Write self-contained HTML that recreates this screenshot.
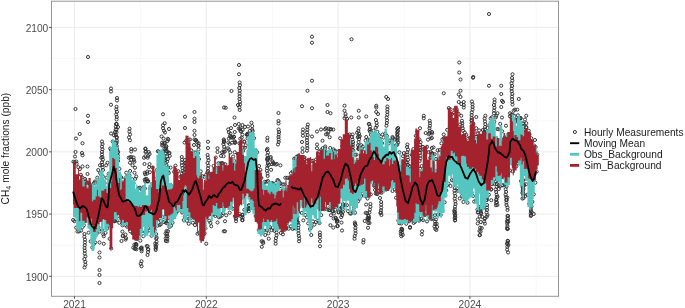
<!DOCTYPE html>
<html><head><meta charset="utf-8"><style>
html,body{margin:0;padding:0;background:#fff;}
body{width:685px;height:308px;overflow:hidden;position:relative;font-family:"Liberation Sans",sans-serif;}
svg text{font-family:"Liberation Sans",sans-serif;}
svg{will-change:transform;}
</style></head><body>
<svg width="685" height="308" viewBox="0 0 685 308" style="position:absolute;left:0;top:0">
<rect x="0" y="0" width="685" height="308" fill="#fff"/>
<path d="M140.60 1.2V296.3M272.40 1.2V296.3M404.30 1.2V296.3M536.10 1.2V296.3M51.5 245.19H558.5M51.5 182.96H558.5M51.5 120.74H558.5M51.5 58.51H558.5" stroke="#F4F4F4" stroke-width="0.6" fill="none"/>
<path d="M74.50 1.2V296.3M206.30 1.2V296.3M338.10 1.2V296.3M469.90 1.2V296.3M51.5 276.30H558.5M51.5 214.08H558.5M51.5 151.85H558.5M51.5 89.63H558.5M51.5 27.40H558.5" stroke="#EBEBEB" stroke-width="1" fill="none"/>
<path d="M89.55 57.00a1.55 1.55 0 1 0 -3.1 0a1.55 1.55 0 1 0 3.1 0M313.55 36.75a1.55 1.55 0 1 0 -3.1 0a1.55 1.55 0 1 0 3.1 0M313.55 42.75a1.55 1.55 0 1 0 -3.1 0a1.55 1.55 0 1 0 3.1 0M353.05 39.25a1.55 1.55 0 1 0 -3.1 0a1.55 1.55 0 1 0 3.1 0M240.55 65.00a1.55 1.55 0 1 0 -3.1 0a1.55 1.55 0 1 0 3.1 0M240.55 74.25a1.55 1.55 0 1 0 -3.1 0a1.55 1.55 0 1 0 3.1 0M490.55 14.00a1.55 1.55 0 1 0 -3.1 0a1.55 1.55 0 1 0 3.1 0M460.80 62.50a1.55 1.55 0 1 0 -3.1 0a1.55 1.55 0 1 0 3.1 0M460.80 72.50a1.55 1.55 0 1 0 -3.1 0a1.55 1.55 0 1 0 3.1 0M474.80 77.00a1.55 1.55 0 1 0 -3.1 0a1.55 1.55 0 1 0 3.1 0M514.05 74.25a1.55 1.55 0 1 0 -3.1 0a1.55 1.55 0 1 0 3.1 0M77.05 109.00a1.55 1.55 0 1 0 -3.1 0a1.55 1.55 0 1 0 3.1 0M112.55 88.50a1.55 1.55 0 1 0 -3.1 0a1.55 1.55 0 1 0 3.1 0M112.55 91.50a1.55 1.55 0 1 0 -3.1 0a1.55 1.55 0 1 0 3.1 0M118.55 98.00a1.55 1.55 0 1 0 -3.1 0a1.55 1.55 0 1 0 3.1 0M118.55 100.50a1.55 1.55 0 1 0 -3.1 0a1.55 1.55 0 1 0 3.1 0M112.55 104.75a1.55 1.55 0 1 0 -3.1 0a1.55 1.55 0 1 0 3.1 0M118.09 106.75a1.55 1.55 0 1 0 -3.1 0a1.55 1.55 0 1 0 3.1 0M117.88 109.30a1.55 1.55 0 1 0 -3.1 0a1.55 1.55 0 1 0 3.1 0M118.48 111.85a1.55 1.55 0 1 0 -3.1 0a1.55 1.55 0 1 0 3.1 0M117.79 114.40a1.55 1.55 0 1 0 -3.1 0a1.55 1.55 0 1 0 3.1 0M118.34 116.95a1.55 1.55 0 1 0 -3.1 0a1.55 1.55 0 1 0 3.1 0M118.14 119.50a1.55 1.55 0 1 0 -3.1 0a1.55 1.55 0 1 0 3.1 0M117.55 124.00a1.55 1.55 0 1 0 -3.1 0a1.55 1.55 0 1 0 3.1 0M119.55 127.00a1.55 1.55 0 1 0 -3.1 0a1.55 1.55 0 1 0 3.1 0M117.30 129.50a1.55 1.55 0 1 0 -3.1 0a1.55 1.55 0 1 0 3.1 0M116.55 132.00a1.55 1.55 0 1 0 -3.1 0a1.55 1.55 0 1 0 3.1 0M112.55 133.50a1.55 1.55 0 1 0 -3.1 0a1.55 1.55 0 1 0 3.1 0M115.55 135.25a1.55 1.55 0 1 0 -3.1 0a1.55 1.55 0 1 0 3.1 0M118.30 137.00a1.55 1.55 0 1 0 -3.1 0a1.55 1.55 0 1 0 3.1 0M118.30 142.50a1.55 1.55 0 1 0 -3.1 0a1.55 1.55 0 1 0 3.1 0M118.30 148.25a1.55 1.55 0 1 0 -3.1 0a1.55 1.55 0 1 0 3.1 0M89.55 115.75a1.55 1.55 0 1 0 -3.1 0a1.55 1.55 0 1 0 3.1 0M89.55 122.00a1.55 1.55 0 1 0 -3.1 0a1.55 1.55 0 1 0 3.1 0M81.30 134.00a1.55 1.55 0 1 0 -3.1 0a1.55 1.55 0 1 0 3.1 0M77.55 138.50a1.55 1.55 0 1 0 -3.1 0a1.55 1.55 0 1 0 3.1 0M84.05 143.25a1.55 1.55 0 1 0 -3.1 0a1.55 1.55 0 1 0 3.1 0M77.05 152.00a1.55 1.55 0 1 0 -3.1 0a1.55 1.55 0 1 0 3.1 0M83.55 153.00a1.55 1.55 0 1 0 -3.1 0a1.55 1.55 0 1 0 3.1 0M103.52 141.50a1.55 1.55 0 1 0 -3.1 0a1.55 1.55 0 1 0 3.1 0M104.06 144.09a1.55 1.55 0 1 0 -3.1 0a1.55 1.55 0 1 0 3.1 0M103.49 146.68a1.55 1.55 0 1 0 -3.1 0a1.55 1.55 0 1 0 3.1 0M103.97 149.27a1.55 1.55 0 1 0 -3.1 0a1.55 1.55 0 1 0 3.1 0M103.53 151.86a1.55 1.55 0 1 0 -3.1 0a1.55 1.55 0 1 0 3.1 0M103.56 154.45a1.55 1.55 0 1 0 -3.1 0a1.55 1.55 0 1 0 3.1 0M103.96 157.05a1.55 1.55 0 1 0 -3.1 0a1.55 1.55 0 1 0 3.1 0M104.44 159.64a1.55 1.55 0 1 0 -3.1 0a1.55 1.55 0 1 0 3.1 0M103.60 162.23a1.55 1.55 0 1 0 -3.1 0a1.55 1.55 0 1 0 3.1 0M103.72 164.82a1.55 1.55 0 1 0 -3.1 0a1.55 1.55 0 1 0 3.1 0M104.20 167.41a1.55 1.55 0 1 0 -3.1 0a1.55 1.55 0 1 0 3.1 0M104.59 170.00a1.55 1.55 0 1 0 -3.1 0a1.55 1.55 0 1 0 3.1 0M131.14 128.75a1.55 1.55 0 1 0 -3.1 0a1.55 1.55 0 1 0 3.1 0M130.93 131.62a1.55 1.55 0 1 0 -3.1 0a1.55 1.55 0 1 0 3.1 0M131.62 134.50a1.55 1.55 0 1 0 -3.1 0a1.55 1.55 0 1 0 3.1 0M130.51 137.38a1.55 1.55 0 1 0 -3.1 0a1.55 1.55 0 1 0 3.1 0M131.48 140.25a1.55 1.55 0 1 0 -3.1 0a1.55 1.55 0 1 0 3.1 0M132.80 149.00a1.55 1.55 0 1 0 -3.1 0a1.55 1.55 0 1 0 3.1 0M132.80 151.50a1.55 1.55 0 1 0 -3.1 0a1.55 1.55 0 1 0 3.1 0M147.05 148.50a1.55 1.55 0 1 0 -3.1 0a1.55 1.55 0 1 0 3.1 0M147.05 152.00a1.55 1.55 0 1 0 -3.1 0a1.55 1.55 0 1 0 3.1 0M150.30 152.00a1.55 1.55 0 1 0 -3.1 0a1.55 1.55 0 1 0 3.1 0M164.55 114.25a1.55 1.55 0 1 0 -3.1 0a1.55 1.55 0 1 0 3.1 0M166.30 123.25a1.55 1.55 0 1 0 -3.1 0a1.55 1.55 0 1 0 3.1 0M164.55 125.25a1.55 1.55 0 1 0 -3.1 0a1.55 1.55 0 1 0 3.1 0M164.55 128.25a1.55 1.55 0 1 0 -3.1 0a1.55 1.55 0 1 0 3.1 0M170.55 129.00a1.55 1.55 0 1 0 -3.1 0a1.55 1.55 0 1 0 3.1 0M165.55 130.75a1.55 1.55 0 1 0 -3.1 0a1.55 1.55 0 1 0 3.1 0M166.55 132.50a1.55 1.55 0 1 0 -3.1 0a1.55 1.55 0 1 0 3.1 0M165.16 138.61a1.55 1.55 0 1 0 -3.1 0a1.55 1.55 0 1 0 3.1 0M163.61 142.71a1.55 1.55 0 1 0 -3.1 0a1.55 1.55 0 1 0 3.1 0M169.90 139.52a1.55 1.55 0 1 0 -3.1 0a1.55 1.55 0 1 0 3.1 0M167.78 150.97a1.55 1.55 0 1 0 -3.1 0a1.55 1.55 0 1 0 3.1 0M165.90 148.69a1.55 1.55 0 1 0 -3.1 0a1.55 1.55 0 1 0 3.1 0M163.12 136.49a1.55 1.55 0 1 0 -3.1 0a1.55 1.55 0 1 0 3.1 0M164.40 152.01a1.55 1.55 0 1 0 -3.1 0a1.55 1.55 0 1 0 3.1 0M166.40 142.85a1.55 1.55 0 1 0 -3.1 0a1.55 1.55 0 1 0 3.1 0M167.82 146.33a1.55 1.55 0 1 0 -3.1 0a1.55 1.55 0 1 0 3.1 0M165.25 154.86a1.55 1.55 0 1 0 -3.1 0a1.55 1.55 0 1 0 3.1 0M168.84 141.10a1.55 1.55 0 1 0 -3.1 0a1.55 1.55 0 1 0 3.1 0M167.72 148.13a1.55 1.55 0 1 0 -3.1 0a1.55 1.55 0 1 0 3.1 0M170.43 153.24a1.55 1.55 0 1 0 -3.1 0a1.55 1.55 0 1 0 3.1 0M165.14 159.50a1.55 1.55 0 1 0 -3.1 0a1.55 1.55 0 1 0 3.1 0M163.61 145.45a1.55 1.55 0 1 0 -3.1 0a1.55 1.55 0 1 0 3.1 0M169.36 138.80a1.55 1.55 0 1 0 -3.1 0a1.55 1.55 0 1 0 3.1 0M186.55 116.75a1.55 1.55 0 1 0 -3.1 0a1.55 1.55 0 1 0 3.1 0M186.55 128.00a1.55 1.55 0 1 0 -3.1 0a1.55 1.55 0 1 0 3.1 0M186.05 142.50a1.55 1.55 0 1 0 -3.1 0a1.55 1.55 0 1 0 3.1 0M196.05 112.00a1.55 1.55 0 1 0 -3.1 0a1.55 1.55 0 1 0 3.1 0M196.05 118.75a1.55 1.55 0 1 0 -3.1 0a1.55 1.55 0 1 0 3.1 0M196.05 122.00a1.55 1.55 0 1 0 -3.1 0a1.55 1.55 0 1 0 3.1 0M196.05 130.75a1.55 1.55 0 1 0 -3.1 0a1.55 1.55 0 1 0 3.1 0M196.05 135.00a1.55 1.55 0 1 0 -3.1 0a1.55 1.55 0 1 0 3.1 0M196.05 139.50a1.55 1.55 0 1 0 -3.1 0a1.55 1.55 0 1 0 3.1 0M200.05 145.50a1.55 1.55 0 1 0 -3.1 0a1.55 1.55 0 1 0 3.1 0M200.05 149.50a1.55 1.55 0 1 0 -3.1 0a1.55 1.55 0 1 0 3.1 0M191.55 139.50a1.55 1.55 0 1 0 -3.1 0a1.55 1.55 0 1 0 3.1 0M195.55 145.00a1.55 1.55 0 1 0 -3.1 0a1.55 1.55 0 1 0 3.1 0M209.55 141.75a1.55 1.55 0 1 0 -3.1 0a1.55 1.55 0 1 0 3.1 0M209.55 148.00a1.55 1.55 0 1 0 -3.1 0a1.55 1.55 0 1 0 3.1 0M219.05 148.25a1.55 1.55 0 1 0 -3.1 0a1.55 1.55 0 1 0 3.1 0M225.55 107.50a1.55 1.55 0 1 0 -3.1 0a1.55 1.55 0 1 0 3.1 0M225.54 141.50a1.55 1.55 0 1 0 -3.1 0a1.55 1.55 0 1 0 3.1 0M225.00 144.17a1.55 1.55 0 1 0 -3.1 0a1.55 1.55 0 1 0 3.1 0M225.75 146.83a1.55 1.55 0 1 0 -3.1 0a1.55 1.55 0 1 0 3.1 0M225.87 149.50a1.55 1.55 0 1 0 -3.1 0a1.55 1.55 0 1 0 3.1 0M219.05 152.00a1.55 1.55 0 1 0 -3.1 0a1.55 1.55 0 1 0 3.1 0M227.30 107.75a1.55 1.55 0 1 0 -3.1 0a1.55 1.55 0 1 0 3.1 0M233.05 91.00a1.55 1.55 0 1 0 -3.1 0a1.55 1.55 0 1 0 3.1 0M241.14 82.50a1.55 1.55 0 1 0 -3.1 0a1.55 1.55 0 1 0 3.1 0M241.50 85.25a1.55 1.55 0 1 0 -3.1 0a1.55 1.55 0 1 0 3.1 0M240.83 88.00a1.55 1.55 0 1 0 -3.1 0a1.55 1.55 0 1 0 3.1 0M241.28 90.75a1.55 1.55 0 1 0 -3.1 0a1.55 1.55 0 1 0 3.1 0M241.16 93.50a1.55 1.55 0 1 0 -3.1 0a1.55 1.55 0 1 0 3.1 0M241.15 96.25a1.55 1.55 0 1 0 -3.1 0a1.55 1.55 0 1 0 3.1 0M241.00 99.00a1.55 1.55 0 1 0 -3.1 0a1.55 1.55 0 1 0 3.1 0M241.46 101.75a1.55 1.55 0 1 0 -3.1 0a1.55 1.55 0 1 0 3.1 0M241.58 104.50a1.55 1.55 0 1 0 -3.1 0a1.55 1.55 0 1 0 3.1 0M241.02 107.25a1.55 1.55 0 1 0 -3.1 0a1.55 1.55 0 1 0 3.1 0M241.25 110.00a1.55 1.55 0 1 0 -3.1 0a1.55 1.55 0 1 0 3.1 0M239.55 105.00a1.55 1.55 0 1 0 -3.1 0a1.55 1.55 0 1 0 3.1 0M236.05 117.50a1.55 1.55 0 1 0 -3.1 0a1.55 1.55 0 1 0 3.1 0M236.55 125.00a1.55 1.55 0 1 0 -3.1 0a1.55 1.55 0 1 0 3.1 0M240.30 124.00a1.55 1.55 0 1 0 -3.1 0a1.55 1.55 0 1 0 3.1 0M244.05 125.00a1.55 1.55 0 1 0 -3.1 0a1.55 1.55 0 1 0 3.1 0M246.55 127.00a1.55 1.55 0 1 0 -3.1 0a1.55 1.55 0 1 0 3.1 0M249.55 126.50a1.55 1.55 0 1 0 -3.1 0a1.55 1.55 0 1 0 3.1 0M253.02 122.75a1.55 1.55 0 1 0 -3.1 0a1.55 1.55 0 1 0 3.1 0M253.79 126.12a1.55 1.55 0 1 0 -3.1 0a1.55 1.55 0 1 0 3.1 0M253.73 129.50a1.55 1.55 0 1 0 -3.1 0a1.55 1.55 0 1 0 3.1 0M246.42 147.73a1.55 1.55 0 1 0 -3.1 0a1.55 1.55 0 1 0 3.1 0M232.96 137.26a1.55 1.55 0 1 0 -3.1 0a1.55 1.55 0 1 0 3.1 0M240.25 128.54a1.55 1.55 0 1 0 -3.1 0a1.55 1.55 0 1 0 3.1 0M236.32 132.03a1.55 1.55 0 1 0 -3.1 0a1.55 1.55 0 1 0 3.1 0M229.77 129.41a1.55 1.55 0 1 0 -3.1 0a1.55 1.55 0 1 0 3.1 0M242.15 131.10a1.55 1.55 0 1 0 -3.1 0a1.55 1.55 0 1 0 3.1 0M232.25 137.38a1.55 1.55 0 1 0 -3.1 0a1.55 1.55 0 1 0 3.1 0M244.11 129.93a1.55 1.55 0 1 0 -3.1 0a1.55 1.55 0 1 0 3.1 0M236.08 141.19a1.55 1.55 0 1 0 -3.1 0a1.55 1.55 0 1 0 3.1 0M244.33 147.66a1.55 1.55 0 1 0 -3.1 0a1.55 1.55 0 1 0 3.1 0M243.97 134.68a1.55 1.55 0 1 0 -3.1 0a1.55 1.55 0 1 0 3.1 0M235.44 136.61a1.55 1.55 0 1 0 -3.1 0a1.55 1.55 0 1 0 3.1 0M244.35 150.99a1.55 1.55 0 1 0 -3.1 0a1.55 1.55 0 1 0 3.1 0M230.42 132.23a1.55 1.55 0 1 0 -3.1 0a1.55 1.55 0 1 0 3.1 0M231.96 133.60a1.55 1.55 0 1 0 -3.1 0a1.55 1.55 0 1 0 3.1 0M236.76 142.14a1.55 1.55 0 1 0 -3.1 0a1.55 1.55 0 1 0 3.1 0M232.54 128.10a1.55 1.55 0 1 0 -3.1 0a1.55 1.55 0 1 0 3.1 0M249.05 134.50a1.55 1.55 0 1 0 -3.1 0a1.55 1.55 0 1 0 3.1 0M249.05 138.25a1.55 1.55 0 1 0 -3.1 0a1.55 1.55 0 1 0 3.1 0M251.55 130.75a1.55 1.55 0 1 0 -3.1 0a1.55 1.55 0 1 0 3.1 0M254.05 134.00a1.55 1.55 0 1 0 -3.1 0a1.55 1.55 0 1 0 3.1 0M268.95 137.75a1.55 1.55 0 1 0 -3.1 0a1.55 1.55 0 1 0 3.1 0M268.89 140.75a1.55 1.55 0 1 0 -3.1 0a1.55 1.55 0 1 0 3.1 0M269.05 148.75a1.55 1.55 0 1 0 -3.1 0a1.55 1.55 0 1 0 3.1 0M280.05 113.00a1.55 1.55 0 1 0 -3.1 0a1.55 1.55 0 1 0 3.1 0M280.05 121.00a1.55 1.55 0 1 0 -3.1 0a1.55 1.55 0 1 0 3.1 0M280.05 123.50a1.55 1.55 0 1 0 -3.1 0a1.55 1.55 0 1 0 3.1 0M280.13 129.50a1.55 1.55 0 1 0 -3.1 0a1.55 1.55 0 1 0 3.1 0M280.59 132.00a1.55 1.55 0 1 0 -3.1 0a1.55 1.55 0 1 0 3.1 0M280.28 134.50a1.55 1.55 0 1 0 -3.1 0a1.55 1.55 0 1 0 3.1 0M280.07 137.00a1.55 1.55 0 1 0 -3.1 0a1.55 1.55 0 1 0 3.1 0M280.19 139.50a1.55 1.55 0 1 0 -3.1 0a1.55 1.55 0 1 0 3.1 0M280.26 142.00a1.55 1.55 0 1 0 -3.1 0a1.55 1.55 0 1 0 3.1 0M279.51 144.50a1.55 1.55 0 1 0 -3.1 0a1.55 1.55 0 1 0 3.1 0M303.55 106.25a1.55 1.55 0 1 0 -3.1 0a1.55 1.55 0 1 0 3.1 0M309.05 90.75a1.55 1.55 0 1 0 -3.1 0a1.55 1.55 0 1 0 3.1 0M304.53 129.50a1.55 1.55 0 1 0 -3.1 0a1.55 1.55 0 1 0 3.1 0M304.39 132.62a1.55 1.55 0 1 0 -3.1 0a1.55 1.55 0 1 0 3.1 0M304.50 135.75a1.55 1.55 0 1 0 -3.1 0a1.55 1.55 0 1 0 3.1 0M303.55 142.00a1.55 1.55 0 1 0 -3.1 0a1.55 1.55 0 1 0 3.1 0M304.05 148.25a1.55 1.55 0 1 0 -3.1 0a1.55 1.55 0 1 0 3.1 0M304.05 152.00a1.55 1.55 0 1 0 -3.1 0a1.55 1.55 0 1 0 3.1 0M309.41 124.50a1.55 1.55 0 1 0 -3.1 0a1.55 1.55 0 1 0 3.1 0M308.92 127.12a1.55 1.55 0 1 0 -3.1 0a1.55 1.55 0 1 0 3.1 0M308.93 129.75a1.55 1.55 0 1 0 -3.1 0a1.55 1.55 0 1 0 3.1 0M308.57 132.38a1.55 1.55 0 1 0 -3.1 0a1.55 1.55 0 1 0 3.1 0M309.21 135.00a1.55 1.55 0 1 0 -3.1 0a1.55 1.55 0 1 0 3.1 0M308.52 137.62a1.55 1.55 0 1 0 -3.1 0a1.55 1.55 0 1 0 3.1 0M308.53 140.25a1.55 1.55 0 1 0 -3.1 0a1.55 1.55 0 1 0 3.1 0M308.70 142.88a1.55 1.55 0 1 0 -3.1 0a1.55 1.55 0 1 0 3.1 0M308.64 145.50a1.55 1.55 0 1 0 -3.1 0a1.55 1.55 0 1 0 3.1 0M308.86 148.12a1.55 1.55 0 1 0 -3.1 0a1.55 1.55 0 1 0 3.1 0M308.51 150.75a1.55 1.55 0 1 0 -3.1 0a1.55 1.55 0 1 0 3.1 0M313.55 80.75a1.55 1.55 0 1 0 -3.1 0a1.55 1.55 0 1 0 3.1 0M313.55 108.25a1.55 1.55 0 1 0 -3.1 0a1.55 1.55 0 1 0 3.1 0M313.55 136.50a1.55 1.55 0 1 0 -3.1 0a1.55 1.55 0 1 0 3.1 0M318.55 131.50a1.55 1.55 0 1 0 -3.1 0a1.55 1.55 0 1 0 3.1 0M322.55 129.50a1.55 1.55 0 1 0 -3.1 0a1.55 1.55 0 1 0 3.1 0M318.55 144.50a1.55 1.55 0 1 0 -3.1 0a1.55 1.55 0 1 0 3.1 0M318.55 148.25a1.55 1.55 0 1 0 -3.1 0a1.55 1.55 0 1 0 3.1 0M329.05 105.00a1.55 1.55 0 1 0 -3.1 0a1.55 1.55 0 1 0 3.1 0M329.05 112.00a1.55 1.55 0 1 0 -3.1 0a1.55 1.55 0 1 0 3.1 0M332.05 113.25a1.55 1.55 0 1 0 -3.1 0a1.55 1.55 0 1 0 3.1 0M326.55 129.34a1.55 1.55 0 1 0 -3.1 0a1.55 1.55 0 1 0 3.1 0M327.56 134.39a1.55 1.55 0 1 0 -3.1 0a1.55 1.55 0 1 0 3.1 0M326.81 146.52a1.55 1.55 0 1 0 -3.1 0a1.55 1.55 0 1 0 3.1 0M332.69 129.28a1.55 1.55 0 1 0 -3.1 0a1.55 1.55 0 1 0 3.1 0M329.07 134.00a1.55 1.55 0 1 0 -3.1 0a1.55 1.55 0 1 0 3.1 0M330.19 128.67a1.55 1.55 0 1 0 -3.1 0a1.55 1.55 0 1 0 3.1 0M335.04 149.34a1.55 1.55 0 1 0 -3.1 0a1.55 1.55 0 1 0 3.1 0M331.21 137.24a1.55 1.55 0 1 0 -3.1 0a1.55 1.55 0 1 0 3.1 0M327.41 128.18a1.55 1.55 0 1 0 -3.1 0a1.55 1.55 0 1 0 3.1 0M329.98 132.04a1.55 1.55 0 1 0 -3.1 0a1.55 1.55 0 1 0 3.1 0M334.84 129.58a1.55 1.55 0 1 0 -3.1 0a1.55 1.55 0 1 0 3.1 0M326.78 148.34a1.55 1.55 0 1 0 -3.1 0a1.55 1.55 0 1 0 3.1 0M331.83 129.23a1.55 1.55 0 1 0 -3.1 0a1.55 1.55 0 1 0 3.1 0M324.05 140.75a1.55 1.55 0 1 0 -3.1 0a1.55 1.55 0 1 0 3.1 0M346.05 105.75a1.55 1.55 0 1 0 -3.1 0a1.55 1.55 0 1 0 3.1 0M346.05 110.75a1.55 1.55 0 1 0 -3.1 0a1.55 1.55 0 1 0 3.1 0M347.05 114.00a1.55 1.55 0 1 0 -3.1 0a1.55 1.55 0 1 0 3.1 0M347.05 116.50a1.55 1.55 0 1 0 -3.1 0a1.55 1.55 0 1 0 3.1 0M352.80 117.50a1.55 1.55 0 1 0 -3.1 0a1.55 1.55 0 1 0 3.1 0M354.10 134.50a1.55 1.55 0 1 0 -3.1 0a1.55 1.55 0 1 0 3.1 0M353.48 137.00a1.55 1.55 0 1 0 -3.1 0a1.55 1.55 0 1 0 3.1 0M354.08 139.50a1.55 1.55 0 1 0 -3.1 0a1.55 1.55 0 1 0 3.1 0M354.62 142.00a1.55 1.55 0 1 0 -3.1 0a1.55 1.55 0 1 0 3.1 0M354.49 144.50a1.55 1.55 0 1 0 -3.1 0a1.55 1.55 0 1 0 3.1 0M354.29 147.00a1.55 1.55 0 1 0 -3.1 0a1.55 1.55 0 1 0 3.1 0M353.76 149.50a1.55 1.55 0 1 0 -3.1 0a1.55 1.55 0 1 0 3.1 0M360.30 110.75a1.55 1.55 0 1 0 -3.1 0a1.55 1.55 0 1 0 3.1 0M360.30 117.50a1.55 1.55 0 1 0 -3.1 0a1.55 1.55 0 1 0 3.1 0M360.14 128.25a1.55 1.55 0 1 0 -3.1 0a1.55 1.55 0 1 0 3.1 0M359.90 131.00a1.55 1.55 0 1 0 -3.1 0a1.55 1.55 0 1 0 3.1 0M360.63 133.75a1.55 1.55 0 1 0 -3.1 0a1.55 1.55 0 1 0 3.1 0M360.34 136.50a1.55 1.55 0 1 0 -3.1 0a1.55 1.55 0 1 0 3.1 0M360.63 139.25a1.55 1.55 0 1 0 -3.1 0a1.55 1.55 0 1 0 3.1 0M360.10 142.00a1.55 1.55 0 1 0 -3.1 0a1.55 1.55 0 1 0 3.1 0M367.80 116.50a1.55 1.55 0 1 0 -3.1 0a1.55 1.55 0 1 0 3.1 0M370.30 124.00a1.55 1.55 0 1 0 -3.1 0a1.55 1.55 0 1 0 3.1 0M371.05 130.25a1.55 1.55 0 1 0 -3.1 0a1.55 1.55 0 1 0 3.1 0M367.80 137.00a1.55 1.55 0 1 0 -3.1 0a1.55 1.55 0 1 0 3.1 0M377.80 105.75a1.55 1.55 0 1 0 -3.1 0a1.55 1.55 0 1 0 3.1 0M377.80 107.50a1.55 1.55 0 1 0 -3.1 0a1.55 1.55 0 1 0 3.1 0M377.80 112.00a1.55 1.55 0 1 0 -3.1 0a1.55 1.55 0 1 0 3.1 0M379.55 114.00a1.55 1.55 0 1 0 -3.1 0a1.55 1.55 0 1 0 3.1 0M377.47 120.00a1.55 1.55 0 1 0 -3.1 0a1.55 1.55 0 1 0 3.1 0M378.17 122.88a1.55 1.55 0 1 0 -3.1 0a1.55 1.55 0 1 0 3.1 0M378.38 125.75a1.55 1.55 0 1 0 -3.1 0a1.55 1.55 0 1 0 3.1 0M387.80 97.00a1.55 1.55 0 1 0 -3.1 0a1.55 1.55 0 1 0 3.1 0M389.55 99.00a1.55 1.55 0 1 0 -3.1 0a1.55 1.55 0 1 0 3.1 0M388.97 106.50a1.55 1.55 0 1 0 -3.1 0a1.55 1.55 0 1 0 3.1 0M388.92 109.25a1.55 1.55 0 1 0 -3.1 0a1.55 1.55 0 1 0 3.1 0M388.93 112.00a1.55 1.55 0 1 0 -3.1 0a1.55 1.55 0 1 0 3.1 0M388.84 114.75a1.55 1.55 0 1 0 -3.1 0a1.55 1.55 0 1 0 3.1 0M388.22 117.50a1.55 1.55 0 1 0 -3.1 0a1.55 1.55 0 1 0 3.1 0M388.57 120.25a1.55 1.55 0 1 0 -3.1 0a1.55 1.55 0 1 0 3.1 0M388.38 123.00a1.55 1.55 0 1 0 -3.1 0a1.55 1.55 0 1 0 3.1 0M387.98 125.75a1.55 1.55 0 1 0 -3.1 0a1.55 1.55 0 1 0 3.1 0M384.05 134.50a1.55 1.55 0 1 0 -3.1 0a1.55 1.55 0 1 0 3.1 0M394.05 137.00a1.55 1.55 0 1 0 -3.1 0a1.55 1.55 0 1 0 3.1 0M462.05 79.50a1.55 1.55 0 1 0 -3.1 0a1.55 1.55 0 1 0 3.1 0M474.55 77.75a1.55 1.55 0 1 0 -3.1 0a1.55 1.55 0 1 0 3.1 0M445.30 93.25a1.55 1.55 0 1 0 -3.1 0a1.55 1.55 0 1 0 3.1 0M462.05 90.75a1.55 1.55 0 1 0 -3.1 0a1.55 1.55 0 1 0 3.1 0M460.30 94.50a1.55 1.55 0 1 0 -3.1 0a1.55 1.55 0 1 0 3.1 0M462.05 97.00a1.55 1.55 0 1 0 -3.1 0a1.55 1.55 0 1 0 3.1 0M460.30 102.00a1.55 1.55 0 1 0 -3.1 0a1.55 1.55 0 1 0 3.1 0M462.80 104.00a1.55 1.55 0 1 0 -3.1 0a1.55 1.55 0 1 0 3.1 0M465.30 102.00a1.55 1.55 0 1 0 -3.1 0a1.55 1.55 0 1 0 3.1 0M465.30 105.00a1.55 1.55 0 1 0 -3.1 0a1.55 1.55 0 1 0 3.1 0M465.30 107.50a1.55 1.55 0 1 0 -3.1 0a1.55 1.55 0 1 0 3.1 0M462.80 115.75a1.55 1.55 0 1 0 -3.1 0a1.55 1.55 0 1 0 3.1 0M463.48 120.75a1.55 1.55 0 1 0 -3.1 0a1.55 1.55 0 1 0 3.1 0M463.79 123.25a1.55 1.55 0 1 0 -3.1 0a1.55 1.55 0 1 0 3.1 0M463.76 125.75a1.55 1.55 0 1 0 -3.1 0a1.55 1.55 0 1 0 3.1 0M464.28 128.25a1.55 1.55 0 1 0 -3.1 0a1.55 1.55 0 1 0 3.1 0M464.60 130.75a1.55 1.55 0 1 0 -3.1 0a1.55 1.55 0 1 0 3.1 0M473.49 101.50a1.55 1.55 0 1 0 -3.1 0a1.55 1.55 0 1 0 3.1 0M474.07 104.22a1.55 1.55 0 1 0 -3.1 0a1.55 1.55 0 1 0 3.1 0M474.14 106.94a1.55 1.55 0 1 0 -3.1 0a1.55 1.55 0 1 0 3.1 0M474.10 109.66a1.55 1.55 0 1 0 -3.1 0a1.55 1.55 0 1 0 3.1 0M473.39 112.38a1.55 1.55 0 1 0 -3.1 0a1.55 1.55 0 1 0 3.1 0M473.21 115.09a1.55 1.55 0 1 0 -3.1 0a1.55 1.55 0 1 0 3.1 0M473.22 117.81a1.55 1.55 0 1 0 -3.1 0a1.55 1.55 0 1 0 3.1 0M473.19 120.53a1.55 1.55 0 1 0 -3.1 0a1.55 1.55 0 1 0 3.1 0M473.20 123.25a1.55 1.55 0 1 0 -3.1 0a1.55 1.55 0 1 0 3.1 0M477.80 117.00a1.55 1.55 0 1 0 -3.1 0a1.55 1.55 0 1 0 3.1 0M477.80 128.25a1.55 1.55 0 1 0 -3.1 0a1.55 1.55 0 1 0 3.1 0M477.80 137.00a1.55 1.55 0 1 0 -3.1 0a1.55 1.55 0 1 0 3.1 0M425.30 115.75a1.55 1.55 0 1 0 -3.1 0a1.55 1.55 0 1 0 3.1 0M425.30 118.25a1.55 1.55 0 1 0 -3.1 0a1.55 1.55 0 1 0 3.1 0M431.20 120.75a1.55 1.55 0 1 0 -3.1 0a1.55 1.55 0 1 0 3.1 0M431.53 123.25a1.55 1.55 0 1 0 -3.1 0a1.55 1.55 0 1 0 3.1 0M431.46 125.75a1.55 1.55 0 1 0 -3.1 0a1.55 1.55 0 1 0 3.1 0M431.03 128.25a1.55 1.55 0 1 0 -3.1 0a1.55 1.55 0 1 0 3.1 0M431.23 130.75a1.55 1.55 0 1 0 -3.1 0a1.55 1.55 0 1 0 3.1 0M433.55 132.03a1.55 1.55 0 1 0 -3.1 0a1.55 1.55 0 1 0 3.1 0M432.16 151.83a1.55 1.55 0 1 0 -3.1 0a1.55 1.55 0 1 0 3.1 0M433.37 148.00a1.55 1.55 0 1 0 -3.1 0a1.55 1.55 0 1 0 3.1 0M430.33 134.28a1.55 1.55 0 1 0 -3.1 0a1.55 1.55 0 1 0 3.1 0M433.44 137.98a1.55 1.55 0 1 0 -3.1 0a1.55 1.55 0 1 0 3.1 0M433.56 153.32a1.55 1.55 0 1 0 -3.1 0a1.55 1.55 0 1 0 3.1 0M429.51 139.63a1.55 1.55 0 1 0 -3.1 0a1.55 1.55 0 1 0 3.1 0M435.02 147.40a1.55 1.55 0 1 0 -3.1 0a1.55 1.55 0 1 0 3.1 0M427.25 133.05a1.55 1.55 0 1 0 -3.1 0a1.55 1.55 0 1 0 3.1 0M427.06 151.72a1.55 1.55 0 1 0 -3.1 0a1.55 1.55 0 1 0 3.1 0M433.62 133.51a1.55 1.55 0 1 0 -3.1 0a1.55 1.55 0 1 0 3.1 0M433.82 153.53a1.55 1.55 0 1 0 -3.1 0a1.55 1.55 0 1 0 3.1 0M432.12 138.41a1.55 1.55 0 1 0 -3.1 0a1.55 1.55 0 1 0 3.1 0M431.04 133.14a1.55 1.55 0 1 0 -3.1 0a1.55 1.55 0 1 0 3.1 0M421.55 128.25a1.55 1.55 0 1 0 -3.1 0a1.55 1.55 0 1 0 3.1 0M420.97 139.50a1.55 1.55 0 1 0 -3.1 0a1.55 1.55 0 1 0 3.1 0M422.12 142.19a1.55 1.55 0 1 0 -3.1 0a1.55 1.55 0 1 0 3.1 0M421.73 144.88a1.55 1.55 0 1 0 -3.1 0a1.55 1.55 0 1 0 3.1 0M421.58 147.56a1.55 1.55 0 1 0 -3.1 0a1.55 1.55 0 1 0 3.1 0M422.07 150.25a1.55 1.55 0 1 0 -3.1 0a1.55 1.55 0 1 0 3.1 0M421.47 152.94a1.55 1.55 0 1 0 -3.1 0a1.55 1.55 0 1 0 3.1 0M422.00 155.62a1.55 1.55 0 1 0 -3.1 0a1.55 1.55 0 1 0 3.1 0M421.94 158.31a1.55 1.55 0 1 0 -3.1 0a1.55 1.55 0 1 0 3.1 0M421.20 161.00a1.55 1.55 0 1 0 -3.1 0a1.55 1.55 0 1 0 3.1 0M421.55 149.50a1.55 1.55 0 1 0 -3.1 0a1.55 1.55 0 1 0 3.1 0M398.75 129.00a1.55 1.55 0 1 0 -3.1 0a1.55 1.55 0 1 0 3.1 0M398.80 131.94a1.55 1.55 0 1 0 -3.1 0a1.55 1.55 0 1 0 3.1 0M398.74 134.88a1.55 1.55 0 1 0 -3.1 0a1.55 1.55 0 1 0 3.1 0M399.15 137.81a1.55 1.55 0 1 0 -3.1 0a1.55 1.55 0 1 0 3.1 0M398.76 140.75a1.55 1.55 0 1 0 -3.1 0a1.55 1.55 0 1 0 3.1 0M408.95 144.50a1.55 1.55 0 1 0 -3.1 0a1.55 1.55 0 1 0 3.1 0M408.61 147.06a1.55 1.55 0 1 0 -3.1 0a1.55 1.55 0 1 0 3.1 0M409.54 149.61a1.55 1.55 0 1 0 -3.1 0a1.55 1.55 0 1 0 3.1 0M408.87 152.17a1.55 1.55 0 1 0 -3.1 0a1.55 1.55 0 1 0 3.1 0M409.00 154.72a1.55 1.55 0 1 0 -3.1 0a1.55 1.55 0 1 0 3.1 0M409.15 157.28a1.55 1.55 0 1 0 -3.1 0a1.55 1.55 0 1 0 3.1 0M409.54 159.83a1.55 1.55 0 1 0 -3.1 0a1.55 1.55 0 1 0 3.1 0M408.95 162.39a1.55 1.55 0 1 0 -3.1 0a1.55 1.55 0 1 0 3.1 0M409.55 164.94a1.55 1.55 0 1 0 -3.1 0a1.55 1.55 0 1 0 3.1 0M409.05 167.50a1.55 1.55 0 1 0 -3.1 0a1.55 1.55 0 1 0 3.1 0M445.30 134.50a1.55 1.55 0 1 0 -3.1 0a1.55 1.55 0 1 0 3.1 0M445.30 138.25a1.55 1.55 0 1 0 -3.1 0a1.55 1.55 0 1 0 3.1 0M490.55 85.75a1.55 1.55 0 1 0 -3.1 0a1.55 1.55 0 1 0 3.1 0M502.80 85.75a1.55 1.55 0 1 0 -3.1 0a1.55 1.55 0 1 0 3.1 0M502.80 94.00a1.55 1.55 0 1 0 -3.1 0a1.55 1.55 0 1 0 3.1 0M496.09 99.50a1.55 1.55 0 1 0 -3.1 0a1.55 1.55 0 1 0 3.1 0M496.08 102.25a1.55 1.55 0 1 0 -3.1 0a1.55 1.55 0 1 0 3.1 0M495.47 105.00a1.55 1.55 0 1 0 -3.1 0a1.55 1.55 0 1 0 3.1 0M495.98 107.75a1.55 1.55 0 1 0 -3.1 0a1.55 1.55 0 1 0 3.1 0M495.67 110.50a1.55 1.55 0 1 0 -3.1 0a1.55 1.55 0 1 0 3.1 0M495.45 113.25a1.55 1.55 0 1 0 -3.1 0a1.55 1.55 0 1 0 3.1 0M503.55 100.75a1.55 1.55 0 1 0 -3.1 0a1.55 1.55 0 1 0 3.1 0M504.55 102.00a1.55 1.55 0 1 0 -3.1 0a1.55 1.55 0 1 0 3.1 0M502.80 107.00a1.55 1.55 0 1 0 -3.1 0a1.55 1.55 0 1 0 3.1 0M486.91 115.75a1.55 1.55 0 1 0 -3.1 0a1.55 1.55 0 1 0 3.1 0M486.16 118.54a1.55 1.55 0 1 0 -3.1 0a1.55 1.55 0 1 0 3.1 0M486.52 121.33a1.55 1.55 0 1 0 -3.1 0a1.55 1.55 0 1 0 3.1 0M486.82 124.12a1.55 1.55 0 1 0 -3.1 0a1.55 1.55 0 1 0 3.1 0M486.62 126.92a1.55 1.55 0 1 0 -3.1 0a1.55 1.55 0 1 0 3.1 0M486.34 129.71a1.55 1.55 0 1 0 -3.1 0a1.55 1.55 0 1 0 3.1 0M486.57 132.50a1.55 1.55 0 1 0 -3.1 0a1.55 1.55 0 1 0 3.1 0M497.80 115.75a1.55 1.55 0 1 0 -3.1 0a1.55 1.55 0 1 0 3.1 0M499.05 113.25a1.55 1.55 0 1 0 -3.1 0a1.55 1.55 0 1 0 3.1 0M503.55 117.50a1.55 1.55 0 1 0 -3.1 0a1.55 1.55 0 1 0 3.1 0M507.55 125.75a1.55 1.55 0 1 0 -3.1 0a1.55 1.55 0 1 0 3.1 0M513.62 78.00a1.55 1.55 0 1 0 -3.1 0a1.55 1.55 0 1 0 3.1 0M513.89 80.65a1.55 1.55 0 1 0 -3.1 0a1.55 1.55 0 1 0 3.1 0M513.08 83.30a1.55 1.55 0 1 0 -3.1 0a1.55 1.55 0 1 0 3.1 0M513.62 85.95a1.55 1.55 0 1 0 -3.1 0a1.55 1.55 0 1 0 3.1 0M513.25 88.60a1.55 1.55 0 1 0 -3.1 0a1.55 1.55 0 1 0 3.1 0M513.28 91.25a1.55 1.55 0 1 0 -3.1 0a1.55 1.55 0 1 0 3.1 0M513.88 93.90a1.55 1.55 0 1 0 -3.1 0a1.55 1.55 0 1 0 3.1 0M513.56 96.55a1.55 1.55 0 1 0 -3.1 0a1.55 1.55 0 1 0 3.1 0M513.62 99.20a1.55 1.55 0 1 0 -3.1 0a1.55 1.55 0 1 0 3.1 0M513.86 101.85a1.55 1.55 0 1 0 -3.1 0a1.55 1.55 0 1 0 3.1 0M514.04 104.50a1.55 1.55 0 1 0 -3.1 0a1.55 1.55 0 1 0 3.1 0M520.30 99.00a1.55 1.55 0 1 0 -3.1 0a1.55 1.55 0 1 0 3.1 0M518.87 121.48a1.55 1.55 0 1 0 -3.1 0a1.55 1.55 0 1 0 3.1 0M519.62 119.27a1.55 1.55 0 1 0 -3.1 0a1.55 1.55 0 1 0 3.1 0M521.86 117.95a1.55 1.55 0 1 0 -3.1 0a1.55 1.55 0 1 0 3.1 0M519.95 118.52a1.55 1.55 0 1 0 -3.1 0a1.55 1.55 0 1 0 3.1 0M524.85 123.38a1.55 1.55 0 1 0 -3.1 0a1.55 1.55 0 1 0 3.1 0M524.07 128.73a1.55 1.55 0 1 0 -3.1 0a1.55 1.55 0 1 0 3.1 0M516.67 120.31a1.55 1.55 0 1 0 -3.1 0a1.55 1.55 0 1 0 3.1 0M524.87 126.48a1.55 1.55 0 1 0 -3.1 0a1.55 1.55 0 1 0 3.1 0M515.20 110.68a1.55 1.55 0 1 0 -3.1 0a1.55 1.55 0 1 0 3.1 0M518.86 109.60a1.55 1.55 0 1 0 -3.1 0a1.55 1.55 0 1 0 3.1 0M516.44 109.61a1.55 1.55 0 1 0 -3.1 0a1.55 1.55 0 1 0 3.1 0M521.58 125.25a1.55 1.55 0 1 0 -3.1 0a1.55 1.55 0 1 0 3.1 0M527.80 115.75a1.55 1.55 0 1 0 -3.1 0a1.55 1.55 0 1 0 3.1 0M526.55 119.50a1.55 1.55 0 1 0 -3.1 0a1.55 1.55 0 1 0 3.1 0M527.80 123.25a1.55 1.55 0 1 0 -3.1 0a1.55 1.55 0 1 0 3.1 0M527.80 127.00a1.55 1.55 0 1 0 -3.1 0a1.55 1.55 0 1 0 3.1 0M530.30 130.75a1.55 1.55 0 1 0 -3.1 0a1.55 1.55 0 1 0 3.1 0M531.05 134.50a1.55 1.55 0 1 0 -3.1 0a1.55 1.55 0 1 0 3.1 0M532.80 138.25a1.55 1.55 0 1 0 -3.1 0a1.55 1.55 0 1 0 3.1 0M536.55 140.00a1.55 1.55 0 1 0 -3.1 0a1.55 1.55 0 1 0 3.1 0M511.55 113.25a1.55 1.55 0 1 0 -3.1 0a1.55 1.55 0 1 0 3.1 0M512.80 114.50a1.55 1.55 0 1 0 -3.1 0a1.55 1.55 0 1 0 3.1 0M77.80 161.50a1.55 1.55 0 1 0 -3.1 0a1.55 1.55 0 1 0 3.1 0M84.05 166.50a1.55 1.55 0 1 0 -3.1 0a1.55 1.55 0 1 0 3.1 0M89.05 166.50a1.55 1.55 0 1 0 -3.1 0a1.55 1.55 0 1 0 3.1 0M89.05 174.00a1.55 1.55 0 1 0 -3.1 0a1.55 1.55 0 1 0 3.1 0M84.05 177.75a1.55 1.55 0 1 0 -3.1 0a1.55 1.55 0 1 0 3.1 0M86.55 179.00a1.55 1.55 0 1 0 -3.1 0a1.55 1.55 0 1 0 3.1 0M101.55 165.25a1.55 1.55 0 1 0 -3.1 0a1.55 1.55 0 1 0 3.1 0M102.80 157.75a1.55 1.55 0 1 0 -3.1 0a1.55 1.55 0 1 0 3.1 0M107.80 165.25a1.55 1.55 0 1 0 -3.1 0a1.55 1.55 0 1 0 3.1 0M109.05 162.75a1.55 1.55 0 1 0 -3.1 0a1.55 1.55 0 1 0 3.1 0M96.55 181.50a1.55 1.55 0 1 0 -3.1 0a1.55 1.55 0 1 0 3.1 0M130.30 157.75a1.55 1.55 0 1 0 -3.1 0a1.55 1.55 0 1 0 3.1 0M131.55 162.75a1.55 1.55 0 1 0 -3.1 0a1.55 1.55 0 1 0 3.1 0M134.05 165.25a1.55 1.55 0 1 0 -3.1 0a1.55 1.55 0 1 0 3.1 0M136.55 167.75a1.55 1.55 0 1 0 -3.1 0a1.55 1.55 0 1 0 3.1 0M136.05 172.75a1.55 1.55 0 1 0 -3.1 0a1.55 1.55 0 1 0 3.1 0M137.80 176.50a1.55 1.55 0 1 0 -3.1 0a1.55 1.55 0 1 0 3.1 0M127.80 172.75a1.55 1.55 0 1 0 -3.1 0a1.55 1.55 0 1 0 3.1 0M76.55 156.50a1.55 1.55 0 1 0 -3.1 0a1.55 1.55 0 1 0 3.1 0M84.05 155.25a1.55 1.55 0 1 0 -3.1 0a1.55 1.55 0 1 0 3.1 0M118.28 124.00a1.55 1.55 0 1 0 -3.1 0a1.55 1.55 0 1 0 3.1 0M117.39 126.75a1.55 1.55 0 1 0 -3.1 0a1.55 1.55 0 1 0 3.1 0M118.06 129.50a1.55 1.55 0 1 0 -3.1 0a1.55 1.55 0 1 0 3.1 0M117.99 132.25a1.55 1.55 0 1 0 -3.1 0a1.55 1.55 0 1 0 3.1 0M117.37 135.00a1.55 1.55 0 1 0 -3.1 0a1.55 1.55 0 1 0 3.1 0M118.26 137.75a1.55 1.55 0 1 0 -3.1 0a1.55 1.55 0 1 0 3.1 0M118.36 140.50a1.55 1.55 0 1 0 -3.1 0a1.55 1.55 0 1 0 3.1 0M117.46 143.25a1.55 1.55 0 1 0 -3.1 0a1.55 1.55 0 1 0 3.1 0M118.34 146.00a1.55 1.55 0 1 0 -3.1 0a1.55 1.55 0 1 0 3.1 0M117.68 148.75a1.55 1.55 0 1 0 -3.1 0a1.55 1.55 0 1 0 3.1 0M117.78 151.50a1.55 1.55 0 1 0 -3.1 0a1.55 1.55 0 1 0 3.1 0M118.39 154.25a1.55 1.55 0 1 0 -3.1 0a1.55 1.55 0 1 0 3.1 0M118.20 157.00a1.55 1.55 0 1 0 -3.1 0a1.55 1.55 0 1 0 3.1 0M132.68 159.79a1.55 1.55 0 1 0 -3.1 0a1.55 1.55 0 1 0 3.1 0M135.16 157.48a1.55 1.55 0 1 0 -3.1 0a1.55 1.55 0 1 0 3.1 0M132.92 156.96a1.55 1.55 0 1 0 -3.1 0a1.55 1.55 0 1 0 3.1 0M136.61 149.49a1.55 1.55 0 1 0 -3.1 0a1.55 1.55 0 1 0 3.1 0M135.43 160.01a1.55 1.55 0 1 0 -3.1 0a1.55 1.55 0 1 0 3.1 0M131.68 157.29a1.55 1.55 0 1 0 -3.1 0a1.55 1.55 0 1 0 3.1 0M135.92 161.81a1.55 1.55 0 1 0 -3.1 0a1.55 1.55 0 1 0 3.1 0M146.81 181.48a1.55 1.55 0 1 0 -3.1 0a1.55 1.55 0 1 0 3.1 0M149.70 181.01a1.55 1.55 0 1 0 -3.1 0a1.55 1.55 0 1 0 3.1 0M146.97 156.29a1.55 1.55 0 1 0 -3.1 0a1.55 1.55 0 1 0 3.1 0M146.71 174.26a1.55 1.55 0 1 0 -3.1 0a1.55 1.55 0 1 0 3.1 0M147.63 151.53a1.55 1.55 0 1 0 -3.1 0a1.55 1.55 0 1 0 3.1 0M148.24 178.90a1.55 1.55 0 1 0 -3.1 0a1.55 1.55 0 1 0 3.1 0M149.83 156.05a1.55 1.55 0 1 0 -3.1 0a1.55 1.55 0 1 0 3.1 0M147.15 179.17a1.55 1.55 0 1 0 -3.1 0a1.55 1.55 0 1 0 3.1 0M148.83 171.51a1.55 1.55 0 1 0 -3.1 0a1.55 1.55 0 1 0 3.1 0M146.91 149.01a1.55 1.55 0 1 0 -3.1 0a1.55 1.55 0 1 0 3.1 0M169.06 151.48a1.55 1.55 0 1 0 -3.1 0a1.55 1.55 0 1 0 3.1 0M164.13 165.34a1.55 1.55 0 1 0 -3.1 0a1.55 1.55 0 1 0 3.1 0M168.63 161.64a1.55 1.55 0 1 0 -3.1 0a1.55 1.55 0 1 0 3.1 0M164.22 163.12a1.55 1.55 0 1 0 -3.1 0a1.55 1.55 0 1 0 3.1 0M164.08 163.29a1.55 1.55 0 1 0 -3.1 0a1.55 1.55 0 1 0 3.1 0M167.18 149.16a1.55 1.55 0 1 0 -3.1 0a1.55 1.55 0 1 0 3.1 0M167.97 165.02a1.55 1.55 0 1 0 -3.1 0a1.55 1.55 0 1 0 3.1 0M165.69 143.49a1.55 1.55 0 1 0 -3.1 0a1.55 1.55 0 1 0 3.1 0M167.77 146.44a1.55 1.55 0 1 0 -3.1 0a1.55 1.55 0 1 0 3.1 0M164.43 144.36a1.55 1.55 0 1 0 -3.1 0a1.55 1.55 0 1 0 3.1 0M186.51 160.00a1.55 1.55 0 1 0 -3.1 0a1.55 1.55 0 1 0 3.1 0M186.69 163.00a1.55 1.55 0 1 0 -3.1 0a1.55 1.55 0 1 0 3.1 0M186.82 166.00a1.55 1.55 0 1 0 -3.1 0a1.55 1.55 0 1 0 3.1 0M186.82 169.00a1.55 1.55 0 1 0 -3.1 0a1.55 1.55 0 1 0 3.1 0M200.11 143.19a1.55 1.55 0 1 0 -3.1 0a1.55 1.55 0 1 0 3.1 0M198.55 141.96a1.55 1.55 0 1 0 -3.1 0a1.55 1.55 0 1 0 3.1 0M197.63 140.20a1.55 1.55 0 1 0 -3.1 0a1.55 1.55 0 1 0 3.1 0M197.05 140.17a1.55 1.55 0 1 0 -3.1 0a1.55 1.55 0 1 0 3.1 0M199.95 146.06a1.55 1.55 0 1 0 -3.1 0a1.55 1.55 0 1 0 3.1 0M209.18 155.00a1.55 1.55 0 1 0 -3.1 0a1.55 1.55 0 1 0 3.1 0M209.52 157.67a1.55 1.55 0 1 0 -3.1 0a1.55 1.55 0 1 0 3.1 0M210.07 160.33a1.55 1.55 0 1 0 -3.1 0a1.55 1.55 0 1 0 3.1 0M209.08 163.00a1.55 1.55 0 1 0 -3.1 0a1.55 1.55 0 1 0 3.1 0M209.93 165.67a1.55 1.55 0 1 0 -3.1 0a1.55 1.55 0 1 0 3.1 0M209.47 168.33a1.55 1.55 0 1 0 -3.1 0a1.55 1.55 0 1 0 3.1 0M209.54 171.00a1.55 1.55 0 1 0 -3.1 0a1.55 1.55 0 1 0 3.1 0M225.23 152.11a1.55 1.55 0 1 0 -3.1 0a1.55 1.55 0 1 0 3.1 0M222.60 155.94a1.55 1.55 0 1 0 -3.1 0a1.55 1.55 0 1 0 3.1 0M226.41 151.46a1.55 1.55 0 1 0 -3.1 0a1.55 1.55 0 1 0 3.1 0M225.21 156.19a1.55 1.55 0 1 0 -3.1 0a1.55 1.55 0 1 0 3.1 0M223.64 152.26a1.55 1.55 0 1 0 -3.1 0a1.55 1.55 0 1 0 3.1 0M272.11 158.47a1.55 1.55 0 1 0 -3.1 0a1.55 1.55 0 1 0 3.1 0M268.63 158.91a1.55 1.55 0 1 0 -3.1 0a1.55 1.55 0 1 0 3.1 0M278.40 163.90a1.55 1.55 0 1 0 -3.1 0a1.55 1.55 0 1 0 3.1 0M269.16 159.28a1.55 1.55 0 1 0 -3.1 0a1.55 1.55 0 1 0 3.1 0M280.01 180.50a1.55 1.55 0 1 0 -3.1 0a1.55 1.55 0 1 0 3.1 0M277.28 164.61a1.55 1.55 0 1 0 -3.1 0a1.55 1.55 0 1 0 3.1 0M270.43 164.91a1.55 1.55 0 1 0 -3.1 0a1.55 1.55 0 1 0 3.1 0M273.90 161.25a1.55 1.55 0 1 0 -3.1 0a1.55 1.55 0 1 0 3.1 0M273.68 164.11a1.55 1.55 0 1 0 -3.1 0a1.55 1.55 0 1 0 3.1 0M281.94 183.26a1.55 1.55 0 1 0 -3.1 0a1.55 1.55 0 1 0 3.1 0M275.30 163.60a1.55 1.55 0 1 0 -3.1 0a1.55 1.55 0 1 0 3.1 0M282.00 165.36a1.55 1.55 0 1 0 -3.1 0a1.55 1.55 0 1 0 3.1 0M272.26 157.03a1.55 1.55 0 1 0 -3.1 0a1.55 1.55 0 1 0 3.1 0M272.66 169.82a1.55 1.55 0 1 0 -3.1 0a1.55 1.55 0 1 0 3.1 0M274.59 162.43a1.55 1.55 0 1 0 -3.1 0a1.55 1.55 0 1 0 3.1 0M250.30 205.25a1.55 1.55 0 1 0 -3.1 0a1.55 1.55 0 1 0 3.1 0M250.30 209.00a1.55 1.55 0 1 0 -3.1 0a1.55 1.55 0 1 0 3.1 0M237.80 217.75a1.55 1.55 0 1 0 -3.1 0a1.55 1.55 0 1 0 3.1 0M244.05 220.25a1.55 1.55 0 1 0 -3.1 0a1.55 1.55 0 1 0 3.1 0M227.80 215.25a1.55 1.55 0 1 0 -3.1 0a1.55 1.55 0 1 0 3.1 0M299.06 216.50a1.55 1.55 0 1 0 -3.1 0a1.55 1.55 0 1 0 3.1 0M298.46 219.25a1.55 1.55 0 1 0 -3.1 0a1.55 1.55 0 1 0 3.1 0M298.77 222.00a1.55 1.55 0 1 0 -3.1 0a1.55 1.55 0 1 0 3.1 0M314.05 172.75a1.55 1.55 0 1 0 -3.1 0a1.55 1.55 0 1 0 3.1 0M332.45 215.19a1.55 1.55 0 1 0 -3.1 0a1.55 1.55 0 1 0 3.1 0M331.97 206.52a1.55 1.55 0 1 0 -3.1 0a1.55 1.55 0 1 0 3.1 0M334.59 211.35a1.55 1.55 0 1 0 -3.1 0a1.55 1.55 0 1 0 3.1 0M337.41 218.17a1.55 1.55 0 1 0 -3.1 0a1.55 1.55 0 1 0 3.1 0M339.06 221.12a1.55 1.55 0 1 0 -3.1 0a1.55 1.55 0 1 0 3.1 0M338.71 226.22a1.55 1.55 0 1 0 -3.1 0a1.55 1.55 0 1 0 3.1 0M335.45 213.50a1.55 1.55 0 1 0 -3.1 0a1.55 1.55 0 1 0 3.1 0M341.40 209.44a1.55 1.55 0 1 0 -3.1 0a1.55 1.55 0 1 0 3.1 0M338.79 220.79a1.55 1.55 0 1 0 -3.1 0a1.55 1.55 0 1 0 3.1 0M331.99 225.21a1.55 1.55 0 1 0 -3.1 0a1.55 1.55 0 1 0 3.1 0M344.52 204.00a1.55 1.55 0 1 0 -3.1 0a1.55 1.55 0 1 0 3.1 0M344.20 206.67a1.55 1.55 0 1 0 -3.1 0a1.55 1.55 0 1 0 3.1 0M344.33 209.33a1.55 1.55 0 1 0 -3.1 0a1.55 1.55 0 1 0 3.1 0M344.42 212.00a1.55 1.55 0 1 0 -3.1 0a1.55 1.55 0 1 0 3.1 0M356.55 212.75a1.55 1.55 0 1 0 -3.1 0a1.55 1.55 0 1 0 3.1 0M356.55 224.00a1.55 1.55 0 1 0 -3.1 0a1.55 1.55 0 1 0 3.1 0M367.25 212.90a1.55 1.55 0 1 0 -3.1 0a1.55 1.55 0 1 0 3.1 0M369.07 218.19a1.55 1.55 0 1 0 -3.1 0a1.55 1.55 0 1 0 3.1 0M370.57 218.05a1.55 1.55 0 1 0 -3.1 0a1.55 1.55 0 1 0 3.1 0M369.47 219.18a1.55 1.55 0 1 0 -3.1 0a1.55 1.55 0 1 0 3.1 0M369.96 215.79a1.55 1.55 0 1 0 -3.1 0a1.55 1.55 0 1 0 3.1 0M367.70 204.53a1.55 1.55 0 1 0 -3.1 0a1.55 1.55 0 1 0 3.1 0M376.11 179.00a1.55 1.55 0 1 0 -3.1 0a1.55 1.55 0 1 0 3.1 0M376.38 181.75a1.55 1.55 0 1 0 -3.1 0a1.55 1.55 0 1 0 3.1 0M376.08 184.50a1.55 1.55 0 1 0 -3.1 0a1.55 1.55 0 1 0 3.1 0M376.95 187.25a1.55 1.55 0 1 0 -3.1 0a1.55 1.55 0 1 0 3.1 0M376.62 190.00a1.55 1.55 0 1 0 -3.1 0a1.55 1.55 0 1 0 3.1 0M379.05 194.00a1.55 1.55 0 1 0 -3.1 0a1.55 1.55 0 1 0 3.1 0M381.55 198.00a1.55 1.55 0 1 0 -3.1 0a1.55 1.55 0 1 0 3.1 0M382.70 202.00a1.55 1.55 0 1 0 -3.1 0a1.55 1.55 0 1 0 3.1 0M382.70 204.75a1.55 1.55 0 1 0 -3.1 0a1.55 1.55 0 1 0 3.1 0M382.77 207.50a1.55 1.55 0 1 0 -3.1 0a1.55 1.55 0 1 0 3.1 0M382.54 210.25a1.55 1.55 0 1 0 -3.1 0a1.55 1.55 0 1 0 3.1 0M381.95 213.00a1.55 1.55 0 1 0 -3.1 0a1.55 1.55 0 1 0 3.1 0M297.80 157.75a1.55 1.55 0 1 0 -3.1 0a1.55 1.55 0 1 0 3.1 0M296.55 164.00a1.55 1.55 0 1 0 -3.1 0a1.55 1.55 0 1 0 3.1 0M400.66 206.50a1.55 1.55 0 1 0 -3.1 0a1.55 1.55 0 1 0 3.1 0M400.60 209.25a1.55 1.55 0 1 0 -3.1 0a1.55 1.55 0 1 0 3.1 0M400.30 212.00a1.55 1.55 0 1 0 -3.1 0a1.55 1.55 0 1 0 3.1 0M403.55 229.00a1.55 1.55 0 1 0 -3.1 0a1.55 1.55 0 1 0 3.1 0M411.55 227.75a1.55 1.55 0 1 0 -3.1 0a1.55 1.55 0 1 0 3.1 0M415.30 220.25a1.55 1.55 0 1 0 -3.1 0a1.55 1.55 0 1 0 3.1 0M436.59 221.50a1.55 1.55 0 1 0 -3.1 0a1.55 1.55 0 1 0 3.1 0M436.74 224.00a1.55 1.55 0 1 0 -3.1 0a1.55 1.55 0 1 0 3.1 0M436.03 226.50a1.55 1.55 0 1 0 -3.1 0a1.55 1.55 0 1 0 3.1 0M436.83 229.00a1.55 1.55 0 1 0 -3.1 0a1.55 1.55 0 1 0 3.1 0M447.80 190.25a1.55 1.55 0 1 0 -3.1 0a1.55 1.55 0 1 0 3.1 0M456.25 188.00a1.55 1.55 0 1 0 -3.1 0a1.55 1.55 0 1 0 3.1 0M456.04 190.67a1.55 1.55 0 1 0 -3.1 0a1.55 1.55 0 1 0 3.1 0M456.27 193.33a1.55 1.55 0 1 0 -3.1 0a1.55 1.55 0 1 0 3.1 0M456.83 196.00a1.55 1.55 0 1 0 -3.1 0a1.55 1.55 0 1 0 3.1 0M456.20 198.67a1.55 1.55 0 1 0 -3.1 0a1.55 1.55 0 1 0 3.1 0M456.84 201.33a1.55 1.55 0 1 0 -3.1 0a1.55 1.55 0 1 0 3.1 0M457.12 204.00a1.55 1.55 0 1 0 -3.1 0a1.55 1.55 0 1 0 3.1 0M456.54 206.67a1.55 1.55 0 1 0 -3.1 0a1.55 1.55 0 1 0 3.1 0M456.41 209.33a1.55 1.55 0 1 0 -3.1 0a1.55 1.55 0 1 0 3.1 0M456.52 212.00a1.55 1.55 0 1 0 -3.1 0a1.55 1.55 0 1 0 3.1 0M456.77 214.67a1.55 1.55 0 1 0 -3.1 0a1.55 1.55 0 1 0 3.1 0M456.87 217.33a1.55 1.55 0 1 0 -3.1 0a1.55 1.55 0 1 0 3.1 0M456.69 220.00a1.55 1.55 0 1 0 -3.1 0a1.55 1.55 0 1 0 3.1 0M469.05 202.75a1.55 1.55 0 1 0 -3.1 0a1.55 1.55 0 1 0 3.1 0M482.26 208.24a1.55 1.55 0 1 0 -3.1 0a1.55 1.55 0 1 0 3.1 0M479.79 212.21a1.55 1.55 0 1 0 -3.1 0a1.55 1.55 0 1 0 3.1 0M482.77 213.35a1.55 1.55 0 1 0 -3.1 0a1.55 1.55 0 1 0 3.1 0M481.89 206.78a1.55 1.55 0 1 0 -3.1 0a1.55 1.55 0 1 0 3.1 0M479.35 212.55a1.55 1.55 0 1 0 -3.1 0a1.55 1.55 0 1 0 3.1 0M482.41 222.07a1.55 1.55 0 1 0 -3.1 0a1.55 1.55 0 1 0 3.1 0M482.43 213.04a1.55 1.55 0 1 0 -3.1 0a1.55 1.55 0 1 0 3.1 0M488.57 205.00a1.55 1.55 0 1 0 -3.1 0a1.55 1.55 0 1 0 3.1 0M488.51 207.50a1.55 1.55 0 1 0 -3.1 0a1.55 1.55 0 1 0 3.1 0M488.51 210.00a1.55 1.55 0 1 0 -3.1 0a1.55 1.55 0 1 0 3.1 0M488.09 212.50a1.55 1.55 0 1 0 -3.1 0a1.55 1.55 0 1 0 3.1 0M489.02 215.00a1.55 1.55 0 1 0 -3.1 0a1.55 1.55 0 1 0 3.1 0M492.80 189.00a1.55 1.55 0 1 0 -3.1 0a1.55 1.55 0 1 0 3.1 0M492.80 200.25a1.55 1.55 0 1 0 -3.1 0a1.55 1.55 0 1 0 3.1 0M497.44 181.50a1.55 1.55 0 1 0 -3.1 0a1.55 1.55 0 1 0 3.1 0M498.37 184.14a1.55 1.55 0 1 0 -3.1 0a1.55 1.55 0 1 0 3.1 0M498.32 186.78a1.55 1.55 0 1 0 -3.1 0a1.55 1.55 0 1 0 3.1 0M497.22 189.42a1.55 1.55 0 1 0 -3.1 0a1.55 1.55 0 1 0 3.1 0M497.75 192.06a1.55 1.55 0 1 0 -3.1 0a1.55 1.55 0 1 0 3.1 0M498.18 194.69a1.55 1.55 0 1 0 -3.1 0a1.55 1.55 0 1 0 3.1 0M498.36 197.33a1.55 1.55 0 1 0 -3.1 0a1.55 1.55 0 1 0 3.1 0M497.74 199.97a1.55 1.55 0 1 0 -3.1 0a1.55 1.55 0 1 0 3.1 0M497.52 202.61a1.55 1.55 0 1 0 -3.1 0a1.55 1.55 0 1 0 3.1 0M497.45 205.25a1.55 1.55 0 1 0 -3.1 0a1.55 1.55 0 1 0 3.1 0M500.30 185.25a1.55 1.55 0 1 0 -3.1 0a1.55 1.55 0 1 0 3.1 0M500.30 189.00a1.55 1.55 0 1 0 -3.1 0a1.55 1.55 0 1 0 3.1 0M508.08 186.50a1.55 1.55 0 1 0 -3.1 0a1.55 1.55 0 1 0 3.1 0M507.20 189.20a1.55 1.55 0 1 0 -3.1 0a1.55 1.55 0 1 0 3.1 0M507.65 191.90a1.55 1.55 0 1 0 -3.1 0a1.55 1.55 0 1 0 3.1 0M507.12 194.60a1.55 1.55 0 1 0 -3.1 0a1.55 1.55 0 1 0 3.1 0M507.58 197.30a1.55 1.55 0 1 0 -3.1 0a1.55 1.55 0 1 0 3.1 0M508.09 200.00a1.55 1.55 0 1 0 -3.1 0a1.55 1.55 0 1 0 3.1 0M509.05 210.00a1.55 1.55 0 1 0 -3.1 0a1.55 1.55 0 1 0 3.1 0M509.05 222.00a1.55 1.55 0 1 0 -3.1 0a1.55 1.55 0 1 0 3.1 0M509.05 229.00a1.55 1.55 0 1 0 -3.1 0a1.55 1.55 0 1 0 3.1 0M524.11 186.50a1.55 1.55 0 1 0 -3.1 0a1.55 1.55 0 1 0 3.1 0M524.93 189.00a1.55 1.55 0 1 0 -3.1 0a1.55 1.55 0 1 0 3.1 0M524.56 191.50a1.55 1.55 0 1 0 -3.1 0a1.55 1.55 0 1 0 3.1 0M525.01 194.00a1.55 1.55 0 1 0 -3.1 0a1.55 1.55 0 1 0 3.1 0M533.04 206.50a1.55 1.55 0 1 0 -3.1 0a1.55 1.55 0 1 0 3.1 0M532.48 209.42a1.55 1.55 0 1 0 -3.1 0a1.55 1.55 0 1 0 3.1 0M533.28 212.33a1.55 1.55 0 1 0 -3.1 0a1.55 1.55 0 1 0 3.1 0M532.78 215.25a1.55 1.55 0 1 0 -3.1 0a1.55 1.55 0 1 0 3.1 0M535.30 214.00a1.55 1.55 0 1 0 -3.1 0a1.55 1.55 0 1 0 3.1 0M85.98 234.00a1.55 1.55 0 1 0 -3.1 0a1.55 1.55 0 1 0 3.1 0M85.95 236.79a1.55 1.55 0 1 0 -3.1 0a1.55 1.55 0 1 0 3.1 0M86.54 239.58a1.55 1.55 0 1 0 -3.1 0a1.55 1.55 0 1 0 3.1 0M86.49 242.38a1.55 1.55 0 1 0 -3.1 0a1.55 1.55 0 1 0 3.1 0M86.31 245.17a1.55 1.55 0 1 0 -3.1 0a1.55 1.55 0 1 0 3.1 0M86.12 247.96a1.55 1.55 0 1 0 -3.1 0a1.55 1.55 0 1 0 3.1 0M86.36 250.75a1.55 1.55 0 1 0 -3.1 0a1.55 1.55 0 1 0 3.1 0M86.33 253.54a1.55 1.55 0 1 0 -3.1 0a1.55 1.55 0 1 0 3.1 0M86.96 256.33a1.55 1.55 0 1 0 -3.1 0a1.55 1.55 0 1 0 3.1 0M85.95 259.12a1.55 1.55 0 1 0 -3.1 0a1.55 1.55 0 1 0 3.1 0M86.85 261.92a1.55 1.55 0 1 0 -3.1 0a1.55 1.55 0 1 0 3.1 0M86.96 264.71a1.55 1.55 0 1 0 -3.1 0a1.55 1.55 0 1 0 3.1 0M86.09 267.50a1.55 1.55 0 1 0 -3.1 0a1.55 1.55 0 1 0 3.1 0M101.05 242.50a1.55 1.55 0 1 0 -3.1 0a1.55 1.55 0 1 0 3.1 0M101.05 252.50a1.55 1.55 0 1 0 -3.1 0a1.55 1.55 0 1 0 3.1 0M101.05 257.50a1.55 1.55 0 1 0 -3.1 0a1.55 1.55 0 1 0 3.1 0M101.05 270.00a1.55 1.55 0 1 0 -3.1 0a1.55 1.55 0 1 0 3.1 0M101.05 275.00a1.55 1.55 0 1 0 -3.1 0a1.55 1.55 0 1 0 3.1 0M101.05 283.00a1.55 1.55 0 1 0 -3.1 0a1.55 1.55 0 1 0 3.1 0M105.30 236.25a1.55 1.55 0 1 0 -3.1 0a1.55 1.55 0 1 0 3.1 0M105.30 243.75a1.55 1.55 0 1 0 -3.1 0a1.55 1.55 0 1 0 3.1 0M116.05 221.25a1.55 1.55 0 1 0 -3.1 0a1.55 1.55 0 1 0 3.1 0M127.18 239.56a1.55 1.55 0 1 0 -3.1 0a1.55 1.55 0 1 0 3.1 0M127.06 234.48a1.55 1.55 0 1 0 -3.1 0a1.55 1.55 0 1 0 3.1 0M124.41 235.71a1.55 1.55 0 1 0 -3.1 0a1.55 1.55 0 1 0 3.1 0M127.54 238.07a1.55 1.55 0 1 0 -3.1 0a1.55 1.55 0 1 0 3.1 0M124.35 236.14a1.55 1.55 0 1 0 -3.1 0a1.55 1.55 0 1 0 3.1 0M123.93 231.58a1.55 1.55 0 1 0 -3.1 0a1.55 1.55 0 1 0 3.1 0M123.06 241.02a1.55 1.55 0 1 0 -3.1 0a1.55 1.55 0 1 0 3.1 0M136.19 248.61a1.55 1.55 0 1 0 -3.1 0a1.55 1.55 0 1 0 3.1 0M135.92 244.59a1.55 1.55 0 1 0 -3.1 0a1.55 1.55 0 1 0 3.1 0M137.88 244.14a1.55 1.55 0 1 0 -3.1 0a1.55 1.55 0 1 0 3.1 0M136.85 248.74a1.55 1.55 0 1 0 -3.1 0a1.55 1.55 0 1 0 3.1 0M143.26 247.50a1.55 1.55 0 1 0 -3.1 0a1.55 1.55 0 1 0 3.1 0M143.17 251.25a1.55 1.55 0 1 0 -3.1 0a1.55 1.55 0 1 0 3.1 0M149.21 246.25a1.55 1.55 0 1 0 -3.1 0a1.55 1.55 0 1 0 3.1 0M149.55 249.17a1.55 1.55 0 1 0 -3.1 0a1.55 1.55 0 1 0 3.1 0M149.58 252.08a1.55 1.55 0 1 0 -3.1 0a1.55 1.55 0 1 0 3.1 0M149.11 255.00a1.55 1.55 0 1 0 -3.1 0a1.55 1.55 0 1 0 3.1 0M143.06 261.25a1.55 1.55 0 1 0 -3.1 0a1.55 1.55 0 1 0 3.1 0M142.26 263.75a1.55 1.55 0 1 0 -3.1 0a1.55 1.55 0 1 0 3.1 0M143.08 266.25a1.55 1.55 0 1 0 -3.1 0a1.55 1.55 0 1 0 3.1 0M157.74 238.75a1.55 1.55 0 1 0 -3.1 0a1.55 1.55 0 1 0 3.1 0M158.10 241.56a1.55 1.55 0 1 0 -3.1 0a1.55 1.55 0 1 0 3.1 0M157.97 244.38a1.55 1.55 0 1 0 -3.1 0a1.55 1.55 0 1 0 3.1 0M157.54 247.19a1.55 1.55 0 1 0 -3.1 0a1.55 1.55 0 1 0 3.1 0M157.26 250.00a1.55 1.55 0 1 0 -3.1 0a1.55 1.55 0 1 0 3.1 0M169.56 231.25a1.55 1.55 0 1 0 -3.1 0a1.55 1.55 0 1 0 3.1 0M168.60 233.75a1.55 1.55 0 1 0 -3.1 0a1.55 1.55 0 1 0 3.1 0M169.02 236.25a1.55 1.55 0 1 0 -3.1 0a1.55 1.55 0 1 0 3.1 0M168.86 238.75a1.55 1.55 0 1 0 -3.1 0a1.55 1.55 0 1 0 3.1 0M168.81 241.25a1.55 1.55 0 1 0 -3.1 0a1.55 1.55 0 1 0 3.1 0M190.30 223.75a1.55 1.55 0 1 0 -3.1 0a1.55 1.55 0 1 0 3.1 0M196.55 225.00a1.55 1.55 0 1 0 -3.1 0a1.55 1.55 0 1 0 3.1 0M207.80 243.75a1.55 1.55 0 1 0 -3.1 0a1.55 1.55 0 1 0 3.1 0M212.80 226.25a1.55 1.55 0 1 0 -3.1 0a1.55 1.55 0 1 0 3.1 0M225.30 231.25a1.55 1.55 0 1 0 -3.1 0a1.55 1.55 0 1 0 3.1 0M219.05 222.50a1.55 1.55 0 1 0 -3.1 0a1.55 1.55 0 1 0 3.1 0M226.55 221.25a1.55 1.55 0 1 0 -3.1 0a1.55 1.55 0 1 0 3.1 0M226.55 231.25a1.55 1.55 0 1 0 -3.1 0a1.55 1.55 0 1 0 3.1 0M237.34 218.75a1.55 1.55 0 1 0 -3.1 0a1.55 1.55 0 1 0 3.1 0M237.62 221.25a1.55 1.55 0 1 0 -3.1 0a1.55 1.55 0 1 0 3.1 0M243.76 215.00a1.55 1.55 0 1 0 -3.1 0a1.55 1.55 0 1 0 3.1 0M244.24 217.50a1.55 1.55 0 1 0 -3.1 0a1.55 1.55 0 1 0 3.1 0M243.81 220.00a1.55 1.55 0 1 0 -3.1 0a1.55 1.55 0 1 0 3.1 0M250.30 211.25a1.55 1.55 0 1 0 -3.1 0a1.55 1.55 0 1 0 3.1 0M264.78 242.96a1.55 1.55 0 1 0 -3.1 0a1.55 1.55 0 1 0 3.1 0M263.22 241.21a1.55 1.55 0 1 0 -3.1 0a1.55 1.55 0 1 0 3.1 0M263.38 246.79a1.55 1.55 0 1 0 -3.1 0a1.55 1.55 0 1 0 3.1 0M264.54 241.65a1.55 1.55 0 1 0 -3.1 0a1.55 1.55 0 1 0 3.1 0M270.30 238.75a1.55 1.55 0 1 0 -3.1 0a1.55 1.55 0 1 0 3.1 0M278.04 232.50a1.55 1.55 0 1 0 -3.1 0a1.55 1.55 0 1 0 3.1 0M278.15 235.31a1.55 1.55 0 1 0 -3.1 0a1.55 1.55 0 1 0 3.1 0M277.49 238.12a1.55 1.55 0 1 0 -3.1 0a1.55 1.55 0 1 0 3.1 0M277.12 240.94a1.55 1.55 0 1 0 -3.1 0a1.55 1.55 0 1 0 3.1 0M277.18 243.75a1.55 1.55 0 1 0 -3.1 0a1.55 1.55 0 1 0 3.1 0M299.81 222.50a1.55 1.55 0 1 0 -3.1 0a1.55 1.55 0 1 0 3.1 0M300.11 225.18a1.55 1.55 0 1 0 -3.1 0a1.55 1.55 0 1 0 3.1 0M299.81 227.86a1.55 1.55 0 1 0 -3.1 0a1.55 1.55 0 1 0 3.1 0M299.99 230.54a1.55 1.55 0 1 0 -3.1 0a1.55 1.55 0 1 0 3.1 0M300.01 233.21a1.55 1.55 0 1 0 -3.1 0a1.55 1.55 0 1 0 3.1 0M300.38 235.89a1.55 1.55 0 1 0 -3.1 0a1.55 1.55 0 1 0 3.1 0M300.76 238.57a1.55 1.55 0 1 0 -3.1 0a1.55 1.55 0 1 0 3.1 0M300.60 241.25a1.55 1.55 0 1 0 -3.1 0a1.55 1.55 0 1 0 3.1 0M312.80 235.00a1.55 1.55 0 1 0 -3.1 0a1.55 1.55 0 1 0 3.1 0M321.45 232.50a1.55 1.55 0 1 0 -3.1 0a1.55 1.55 0 1 0 3.1 0M321.45 235.00a1.55 1.55 0 1 0 -3.1 0a1.55 1.55 0 1 0 3.1 0M321.58 237.50a1.55 1.55 0 1 0 -3.1 0a1.55 1.55 0 1 0 3.1 0M321.55 241.25a1.55 1.55 0 1 0 -3.1 0a1.55 1.55 0 1 0 3.1 0M321.55 246.25a1.55 1.55 0 1 0 -3.1 0a1.55 1.55 0 1 0 3.1 0M338.13 219.69a1.55 1.55 0 1 0 -3.1 0a1.55 1.55 0 1 0 3.1 0M335.14 218.40a1.55 1.55 0 1 0 -3.1 0a1.55 1.55 0 1 0 3.1 0M343.74 215.17a1.55 1.55 0 1 0 -3.1 0a1.55 1.55 0 1 0 3.1 0M339.33 225.88a1.55 1.55 0 1 0 -3.1 0a1.55 1.55 0 1 0 3.1 0M342.75 217.09a1.55 1.55 0 1 0 -3.1 0a1.55 1.55 0 1 0 3.1 0M337.12 217.78a1.55 1.55 0 1 0 -3.1 0a1.55 1.55 0 1 0 3.1 0M338.35 221.97a1.55 1.55 0 1 0 -3.1 0a1.55 1.55 0 1 0 3.1 0M343.61 230.53a1.55 1.55 0 1 0 -3.1 0a1.55 1.55 0 1 0 3.1 0M342.84 212.96a1.55 1.55 0 1 0 -3.1 0a1.55 1.55 0 1 0 3.1 0M334.86 227.58a1.55 1.55 0 1 0 -3.1 0a1.55 1.55 0 1 0 3.1 0M343.06 222.56a1.55 1.55 0 1 0 -3.1 0a1.55 1.55 0 1 0 3.1 0M340.13 212.50a1.55 1.55 0 1 0 -3.1 0a1.55 1.55 0 1 0 3.1 0M356.42 222.50a1.55 1.55 0 1 0 -3.1 0a1.55 1.55 0 1 0 3.1 0M357.06 225.21a1.55 1.55 0 1 0 -3.1 0a1.55 1.55 0 1 0 3.1 0M356.94 227.92a1.55 1.55 0 1 0 -3.1 0a1.55 1.55 0 1 0 3.1 0M356.98 230.62a1.55 1.55 0 1 0 -3.1 0a1.55 1.55 0 1 0 3.1 0M357.12 233.33a1.55 1.55 0 1 0 -3.1 0a1.55 1.55 0 1 0 3.1 0M356.25 236.04a1.55 1.55 0 1 0 -3.1 0a1.55 1.55 0 1 0 3.1 0M356.08 238.75a1.55 1.55 0 1 0 -3.1 0a1.55 1.55 0 1 0 3.1 0M366.26 220.99a1.55 1.55 0 1 0 -3.1 0a1.55 1.55 0 1 0 3.1 0M369.56 227.80a1.55 1.55 0 1 0 -3.1 0a1.55 1.55 0 1 0 3.1 0M369.81 223.02a1.55 1.55 0 1 0 -3.1 0a1.55 1.55 0 1 0 3.1 0M370.08 219.93a1.55 1.55 0 1 0 -3.1 0a1.55 1.55 0 1 0 3.1 0M368.75 213.14a1.55 1.55 0 1 0 -3.1 0a1.55 1.55 0 1 0 3.1 0M370.19 216.28a1.55 1.55 0 1 0 -3.1 0a1.55 1.55 0 1 0 3.1 0M371.05 222.99a1.55 1.55 0 1 0 -3.1 0a1.55 1.55 0 1 0 3.1 0M365.06 240.00a1.55 1.55 0 1 0 -3.1 0a1.55 1.55 0 1 0 3.1 0M364.85 242.50a1.55 1.55 0 1 0 -3.1 0a1.55 1.55 0 1 0 3.1 0M382.50 212.50a1.55 1.55 0 1 0 -3.1 0a1.55 1.55 0 1 0 3.1 0M382.96 215.00a1.55 1.55 0 1 0 -3.1 0a1.55 1.55 0 1 0 3.1 0M403.04 228.75a1.55 1.55 0 1 0 -3.1 0a1.55 1.55 0 1 0 3.1 0M402.33 231.25a1.55 1.55 0 1 0 -3.1 0a1.55 1.55 0 1 0 3.1 0M402.28 233.75a1.55 1.55 0 1 0 -3.1 0a1.55 1.55 0 1 0 3.1 0M402.83 236.25a1.55 1.55 0 1 0 -3.1 0a1.55 1.55 0 1 0 3.1 0M411.55 227.00a1.55 1.55 0 1 0 -3.1 0a1.55 1.55 0 1 0 3.1 0M423.65 231.25a1.55 1.55 0 1 0 -3.1 0a1.55 1.55 0 1 0 3.1 0M423.42 234.50a1.55 1.55 0 1 0 -3.1 0a1.55 1.55 0 1 0 3.1 0M438.22 223.75a1.55 1.55 0 1 0 -3.1 0a1.55 1.55 0 1 0 3.1 0M438.67 226.88a1.55 1.55 0 1 0 -3.1 0a1.55 1.55 0 1 0 3.1 0M437.96 230.00a1.55 1.55 0 1 0 -3.1 0a1.55 1.55 0 1 0 3.1 0M455.81 211.00a1.55 1.55 0 1 0 -3.1 0a1.55 1.55 0 1 0 3.1 0M456.00 213.38a1.55 1.55 0 1 0 -3.1 0a1.55 1.55 0 1 0 3.1 0M456.60 215.75a1.55 1.55 0 1 0 -3.1 0a1.55 1.55 0 1 0 3.1 0M456.22 218.12a1.55 1.55 0 1 0 -3.1 0a1.55 1.55 0 1 0 3.1 0M456.51 220.50a1.55 1.55 0 1 0 -3.1 0a1.55 1.55 0 1 0 3.1 0M483.80 216.87a1.55 1.55 0 1 0 -3.1 0a1.55 1.55 0 1 0 3.1 0M481.52 235.02a1.55 1.55 0 1 0 -3.1 0a1.55 1.55 0 1 0 3.1 0M486.10 218.68a1.55 1.55 0 1 0 -3.1 0a1.55 1.55 0 1 0 3.1 0M479.27 223.46a1.55 1.55 0 1 0 -3.1 0a1.55 1.55 0 1 0 3.1 0M485.79 221.50a1.55 1.55 0 1 0 -3.1 0a1.55 1.55 0 1 0 3.1 0M481.62 227.68a1.55 1.55 0 1 0 -3.1 0a1.55 1.55 0 1 0 3.1 0M488.30 216.67a1.55 1.55 0 1 0 -3.1 0a1.55 1.55 0 1 0 3.1 0M479.39 219.45a1.55 1.55 0 1 0 -3.1 0a1.55 1.55 0 1 0 3.1 0M483.26 228.06a1.55 1.55 0 1 0 -3.1 0a1.55 1.55 0 1 0 3.1 0M481.03 230.93a1.55 1.55 0 1 0 -3.1 0a1.55 1.55 0 1 0 3.1 0M486.44 223.62a1.55 1.55 0 1 0 -3.1 0a1.55 1.55 0 1 0 3.1 0M481.10 235.25a1.55 1.55 0 1 0 -3.1 0a1.55 1.55 0 1 0 3.1 0M482.17 231.50a1.55 1.55 0 1 0 -3.1 0a1.55 1.55 0 1 0 3.1 0M481.36 216.54a1.55 1.55 0 1 0 -3.1 0a1.55 1.55 0 1 0 3.1 0M486.65 218.37a1.55 1.55 0 1 0 -3.1 0a1.55 1.55 0 1 0 3.1 0M509.59 216.00a1.55 1.55 0 1 0 -3.1 0a1.55 1.55 0 1 0 3.1 0M509.04 218.55a1.55 1.55 0 1 0 -3.1 0a1.55 1.55 0 1 0 3.1 0M508.67 221.10a1.55 1.55 0 1 0 -3.1 0a1.55 1.55 0 1 0 3.1 0M508.72 223.65a1.55 1.55 0 1 0 -3.1 0a1.55 1.55 0 1 0 3.1 0M508.95 226.20a1.55 1.55 0 1 0 -3.1 0a1.55 1.55 0 1 0 3.1 0M509.25 228.75a1.55 1.55 0 1 0 -3.1 0a1.55 1.55 0 1 0 3.1 0M509.59 241.00a1.55 1.55 0 1 0 -3.1 0a1.55 1.55 0 1 0 3.1 0M508.63 243.88a1.55 1.55 0 1 0 -3.1 0a1.55 1.55 0 1 0 3.1 0M508.92 246.75a1.55 1.55 0 1 0 -3.1 0a1.55 1.55 0 1 0 3.1 0M508.71 249.62a1.55 1.55 0 1 0 -3.1 0a1.55 1.55 0 1 0 3.1 0M509.62 252.50a1.55 1.55 0 1 0 -3.1 0a1.55 1.55 0 1 0 3.1 0M532.37 211.00a1.55 1.55 0 1 0 -3.1 0a1.55 1.55 0 1 0 3.1 0M532.26 213.50a1.55 1.55 0 1 0 -3.1 0a1.55 1.55 0 1 0 3.1 0M532.27 216.00a1.55 1.55 0 1 0 -3.1 0a1.55 1.55 0 1 0 3.1 0M116.55 221.00a1.55 1.55 0 1 0 -3.1 0a1.55 1.55 0 1 0 3.1 0M137.97 249.29a1.55 1.55 0 1 0 -3.1 0a1.55 1.55 0 1 0 3.1 0M142.24 248.13a1.55 1.55 0 1 0 -3.1 0a1.55 1.55 0 1 0 3.1 0M143.23 249.52a1.55 1.55 0 1 0 -3.1 0a1.55 1.55 0 1 0 3.1 0M137.41 244.30a1.55 1.55 0 1 0 -3.1 0a1.55 1.55 0 1 0 3.1 0M142.69 248.22a1.55 1.55 0 1 0 -3.1 0a1.55 1.55 0 1 0 3.1 0M134.83 247.65a1.55 1.55 0 1 0 -3.1 0a1.55 1.55 0 1 0 3.1 0M137.84 245.62a1.55 1.55 0 1 0 -3.1 0a1.55 1.55 0 1 0 3.1 0M137.44 244.18a1.55 1.55 0 1 0 -3.1 0a1.55 1.55 0 1 0 3.1 0M148.25 246.00a1.55 1.55 0 1 0 -3.1 0a1.55 1.55 0 1 0 3.1 0M149.85 249.30a1.55 1.55 0 1 0 -3.1 0a1.55 1.55 0 1 0 3.1 0M156.75 243.50a1.55 1.55 0 1 0 -3.1 0a1.55 1.55 0 1 0 3.1 0M157.09 246.00a1.55 1.55 0 1 0 -3.1 0a1.55 1.55 0 1 0 3.1 0M157.17 248.50a1.55 1.55 0 1 0 -3.1 0a1.55 1.55 0 1 0 3.1 0M158.25 237.70a1.55 1.55 0 1 0 -3.1 0a1.55 1.55 0 1 0 3.1 0M162.35 224.30a1.55 1.55 0 1 0 -3.1 0a1.55 1.55 0 1 0 3.1 0M168.10 231.00a1.55 1.55 0 1 0 -3.1 0a1.55 1.55 0 1 0 3.1 0M167.10 233.50a1.55 1.55 0 1 0 -3.1 0a1.55 1.55 0 1 0 3.1 0M168.11 236.00a1.55 1.55 0 1 0 -3.1 0a1.55 1.55 0 1 0 3.1 0M167.20 238.50a1.55 1.55 0 1 0 -3.1 0a1.55 1.55 0 1 0 3.1 0M167.38 241.00a1.55 1.55 0 1 0 -3.1 0a1.55 1.55 0 1 0 3.1 0M167.35 222.70a1.55 1.55 0 1 0 -3.1 0a1.55 1.55 0 1 0 3.1 0M169.85 221.00a1.55 1.55 0 1 0 -3.1 0a1.55 1.55 0 1 0 3.1 0M371.94 204.00a1.55 1.55 0 1 0 -3.1 0a1.55 1.55 0 1 0 3.1 0M371.94 206.83a1.55 1.55 0 1 0 -3.1 0a1.55 1.55 0 1 0 3.1 0M371.47 209.67a1.55 1.55 0 1 0 -3.1 0a1.55 1.55 0 1 0 3.1 0M371.01 212.50a1.55 1.55 0 1 0 -3.1 0a1.55 1.55 0 1 0 3.1 0M403.72 230.00a1.55 1.55 0 1 0 -3.1 0a1.55 1.55 0 1 0 3.1 0M403.60 232.50a1.55 1.55 0 1 0 -3.1 0a1.55 1.55 0 1 0 3.1 0M404.25 235.00a1.55 1.55 0 1 0 -3.1 0a1.55 1.55 0 1 0 3.1 0M416.05 209.00a1.55 1.55 0 1 0 -3.1 0a1.55 1.55 0 1 0 3.1 0M420.25 219.00a1.55 1.55 0 1 0 -3.1 0a1.55 1.55 0 1 0 3.1 0M488.18 196.70a1.55 1.55 0 1 0 -3.1 0a1.55 1.55 0 1 0 3.1 0M488.39 200.00a1.55 1.55 0 1 0 -3.1 0a1.55 1.55 0 1 0 3.1 0M499.03 196.70a1.55 1.55 0 1 0 -3.1 0a1.55 1.55 0 1 0 3.1 0M497.99 199.47a1.55 1.55 0 1 0 -3.1 0a1.55 1.55 0 1 0 3.1 0M498.44 202.23a1.55 1.55 0 1 0 -3.1 0a1.55 1.55 0 1 0 3.1 0M498.92 205.00a1.55 1.55 0 1 0 -3.1 0a1.55 1.55 0 1 0 3.1 0M508.87 197.50a1.55 1.55 0 1 0 -3.1 0a1.55 1.55 0 1 0 3.1 0M508.00 200.00a1.55 1.55 0 1 0 -3.1 0a1.55 1.55 0 1 0 3.1 0M507.99 202.50a1.55 1.55 0 1 0 -3.1 0a1.55 1.55 0 1 0 3.1 0M508.03 205.00a1.55 1.55 0 1 0 -3.1 0a1.55 1.55 0 1 0 3.1 0M509.05 207.50a1.55 1.55 0 1 0 -3.1 0a1.55 1.55 0 1 0 3.1 0M509.06 215.80a1.55 1.55 0 1 0 -3.1 0a1.55 1.55 0 1 0 3.1 0M509.65 218.75a1.55 1.55 0 1 0 -3.1 0a1.55 1.55 0 1 0 3.1 0M509.83 221.70a1.55 1.55 0 1 0 -3.1 0a1.55 1.55 0 1 0 3.1 0M508.55 228.30a1.55 1.55 0 1 0 -3.1 0a1.55 1.55 0 1 0 3.1 0M509.16 240.80a1.55 1.55 0 1 0 -3.1 0a1.55 1.55 0 1 0 3.1 0M509.08 242.90a1.55 1.55 0 1 0 -3.1 0a1.55 1.55 0 1 0 3.1 0M509.90 245.00a1.55 1.55 0 1 0 -3.1 0a1.55 1.55 0 1 0 3.1 0M526.85 196.00a1.55 1.55 0 1 0 -3.1 0a1.55 1.55 0 1 0 3.1 0M524.69 180.00a1.55 1.55 0 1 0 -3.1 0a1.55 1.55 0 1 0 3.1 0M524.26 182.57a1.55 1.55 0 1 0 -3.1 0a1.55 1.55 0 1 0 3.1 0M524.81 185.14a1.55 1.55 0 1 0 -3.1 0a1.55 1.55 0 1 0 3.1 0M524.33 187.71a1.55 1.55 0 1 0 -3.1 0a1.55 1.55 0 1 0 3.1 0M524.28 190.29a1.55 1.55 0 1 0 -3.1 0a1.55 1.55 0 1 0 3.1 0M523.95 192.86a1.55 1.55 0 1 0 -3.1 0a1.55 1.55 0 1 0 3.1 0M524.86 195.43a1.55 1.55 0 1 0 -3.1 0a1.55 1.55 0 1 0 3.1 0M525.05 198.00a1.55 1.55 0 1 0 -3.1 0a1.55 1.55 0 1 0 3.1 0M360.45 148.72a1.55 1.55 0 1 0 -3.1 0a1.55 1.55 0 1 0 3.1 0M358.62 132.76a1.55 1.55 0 1 0 -3.1 0a1.55 1.55 0 1 0 3.1 0M359.98 149.03a1.55 1.55 0 1 0 -3.1 0a1.55 1.55 0 1 0 3.1 0M361.41 136.20a1.55 1.55 0 1 0 -3.1 0a1.55 1.55 0 1 0 3.1 0M359.30 137.17a1.55 1.55 0 1 0 -3.1 0a1.55 1.55 0 1 0 3.1 0M360.03 148.38a1.55 1.55 0 1 0 -3.1 0a1.55 1.55 0 1 0 3.1 0M370.87 124.00a1.55 1.55 0 1 0 -3.1 0a1.55 1.55 0 1 0 3.1 0M371.61 126.57a1.55 1.55 0 1 0 -3.1 0a1.55 1.55 0 1 0 3.1 0M371.54 129.13a1.55 1.55 0 1 0 -3.1 0a1.55 1.55 0 1 0 3.1 0M371.64 131.70a1.55 1.55 0 1 0 -3.1 0a1.55 1.55 0 1 0 3.1 0M399.68 128.00a1.55 1.55 0 1 0 -3.1 0a1.55 1.55 0 1 0 3.1 0M399.48 130.90a1.55 1.55 0 1 0 -3.1 0a1.55 1.55 0 1 0 3.1 0M399.14 133.80a1.55 1.55 0 1 0 -3.1 0a1.55 1.55 0 1 0 3.1 0M399.13 136.70a1.55 1.55 0 1 0 -3.1 0a1.55 1.55 0 1 0 3.1 0M399.18 139.60a1.55 1.55 0 1 0 -3.1 0a1.55 1.55 0 1 0 3.1 0M399.69 142.50a1.55 1.55 0 1 0 -3.1 0a1.55 1.55 0 1 0 3.1 0M225.50 141.96a1.55 1.55 0 1 0 -3.1 0a1.55 1.55 0 1 0 3.1 0M233.58 142.71a1.55 1.55 0 1 0 -3.1 0a1.55 1.55 0 1 0 3.1 0M225.33 139.51a1.55 1.55 0 1 0 -3.1 0a1.55 1.55 0 1 0 3.1 0M231.18 143.89a1.55 1.55 0 1 0 -3.1 0a1.55 1.55 0 1 0 3.1 0M236.31 152.25a1.55 1.55 0 1 0 -3.1 0a1.55 1.55 0 1 0 3.1 0M236.40 142.97a1.55 1.55 0 1 0 -3.1 0a1.55 1.55 0 1 0 3.1 0M225.56 140.45a1.55 1.55 0 1 0 -3.1 0a1.55 1.55 0 1 0 3.1 0M230.53 149.65a1.55 1.55 0 1 0 -3.1 0a1.55 1.55 0 1 0 3.1 0M229.91 142.51a1.55 1.55 0 1 0 -3.1 0a1.55 1.55 0 1 0 3.1 0M229.55 148.30a1.55 1.55 0 1 0 -3.1 0a1.55 1.55 0 1 0 3.1 0M234.27 137.73a1.55 1.55 0 1 0 -3.1 0a1.55 1.55 0 1 0 3.1 0M235.48 136.98a1.55 1.55 0 1 0 -3.1 0a1.55 1.55 0 1 0 3.1 0M230.40 138.57a1.55 1.55 0 1 0 -3.1 0a1.55 1.55 0 1 0 3.1 0M231.61 136.10a1.55 1.55 0 1 0 -3.1 0a1.55 1.55 0 1 0 3.1 0M243.28 137.55a1.55 1.55 0 1 0 -3.1 0a1.55 1.55 0 1 0 3.1 0M241.54 129.21a1.55 1.55 0 1 0 -3.1 0a1.55 1.55 0 1 0 3.1 0M242.00 127.61a1.55 1.55 0 1 0 -3.1 0a1.55 1.55 0 1 0 3.1 0M248.39 134.83a1.55 1.55 0 1 0 -3.1 0a1.55 1.55 0 1 0 3.1 0M242.81 131.73a1.55 1.55 0 1 0 -3.1 0a1.55 1.55 0 1 0 3.1 0M249.47 133.62a1.55 1.55 0 1 0 -3.1 0a1.55 1.55 0 1 0 3.1 0M241.86 138.74a1.55 1.55 0 1 0 -3.1 0a1.55 1.55 0 1 0 3.1 0M246.08 141.85a1.55 1.55 0 1 0 -3.1 0a1.55 1.55 0 1 0 3.1 0M118.57 150.00a1.55 1.55 0 1 0 -3.1 0a1.55 1.55 0 1 0 3.1 0M119.02 152.75a1.55 1.55 0 1 0 -3.1 0a1.55 1.55 0 1 0 3.1 0M119.43 155.50a1.55 1.55 0 1 0 -3.1 0a1.55 1.55 0 1 0 3.1 0M119.46 158.25a1.55 1.55 0 1 0 -3.1 0a1.55 1.55 0 1 0 3.1 0M119.55 161.00a1.55 1.55 0 1 0 -3.1 0a1.55 1.55 0 1 0 3.1 0M118.50 163.75a1.55 1.55 0 1 0 -3.1 0a1.55 1.55 0 1 0 3.1 0M118.80 166.50a1.55 1.55 0 1 0 -3.1 0a1.55 1.55 0 1 0 3.1 0M118.59 169.25a1.55 1.55 0 1 0 -3.1 0a1.55 1.55 0 1 0 3.1 0M118.68 172.00a1.55 1.55 0 1 0 -3.1 0a1.55 1.55 0 1 0 3.1 0M151.36 172.16a1.55 1.55 0 1 0 -3.1 0a1.55 1.55 0 1 0 3.1 0M151.06 164.15a1.55 1.55 0 1 0 -3.1 0a1.55 1.55 0 1 0 3.1 0M150.61 167.07a1.55 1.55 0 1 0 -3.1 0a1.55 1.55 0 1 0 3.1 0M146.37 179.56a1.55 1.55 0 1 0 -3.1 0a1.55 1.55 0 1 0 3.1 0M151.17 154.02a1.55 1.55 0 1 0 -3.1 0a1.55 1.55 0 1 0 3.1 0M148.72 173.56a1.55 1.55 0 1 0 -3.1 0a1.55 1.55 0 1 0 3.1 0M146.07 164.01a1.55 1.55 0 1 0 -3.1 0a1.55 1.55 0 1 0 3.1 0M145.54 157.75a1.55 1.55 0 1 0 -3.1 0a1.55 1.55 0 1 0 3.1 0M146.33 172.78a1.55 1.55 0 1 0 -3.1 0a1.55 1.55 0 1 0 3.1 0M149.11 157.73a1.55 1.55 0 1 0 -3.1 0a1.55 1.55 0 1 0 3.1 0M166.63 160.47a1.55 1.55 0 1 0 -3.1 0a1.55 1.55 0 1 0 3.1 0M171.30 155.92a1.55 1.55 0 1 0 -3.1 0a1.55 1.55 0 1 0 3.1 0M168.74 156.51a1.55 1.55 0 1 0 -3.1 0a1.55 1.55 0 1 0 3.1 0M172.12 167.54a1.55 1.55 0 1 0 -3.1 0a1.55 1.55 0 1 0 3.1 0M166.99 153.24a1.55 1.55 0 1 0 -3.1 0a1.55 1.55 0 1 0 3.1 0M169.32 167.60a1.55 1.55 0 1 0 -3.1 0a1.55 1.55 0 1 0 3.1 0M171.02 152.92a1.55 1.55 0 1 0 -3.1 0a1.55 1.55 0 1 0 3.1 0M167.70 172.25a1.55 1.55 0 1 0 -3.1 0a1.55 1.55 0 1 0 3.1 0M169.42 159.07a1.55 1.55 0 1 0 -3.1 0a1.55 1.55 0 1 0 3.1 0M168.70 180.50a1.55 1.55 0 1 0 -3.1 0a1.55 1.55 0 1 0 3.1 0M183.32 157.00a1.55 1.55 0 1 0 -3.1 0a1.55 1.55 0 1 0 3.1 0M183.63 159.78a1.55 1.55 0 1 0 -3.1 0a1.55 1.55 0 1 0 3.1 0M183.38 162.56a1.55 1.55 0 1 0 -3.1 0a1.55 1.55 0 1 0 3.1 0M183.45 165.33a1.55 1.55 0 1 0 -3.1 0a1.55 1.55 0 1 0 3.1 0M183.99 168.11a1.55 1.55 0 1 0 -3.1 0a1.55 1.55 0 1 0 3.1 0M184.15 170.89a1.55 1.55 0 1 0 -3.1 0a1.55 1.55 0 1 0 3.1 0M183.39 173.67a1.55 1.55 0 1 0 -3.1 0a1.55 1.55 0 1 0 3.1 0M183.19 176.44a1.55 1.55 0 1 0 -3.1 0a1.55 1.55 0 1 0 3.1 0M183.82 179.22a1.55 1.55 0 1 0 -3.1 0a1.55 1.55 0 1 0 3.1 0M183.19 182.00a1.55 1.55 0 1 0 -3.1 0a1.55 1.55 0 1 0 3.1 0M268.46 150.00a1.55 1.55 0 1 0 -3.1 0a1.55 1.55 0 1 0 3.1 0M269.53 152.60a1.55 1.55 0 1 0 -3.1 0a1.55 1.55 0 1 0 3.1 0M268.96 155.20a1.55 1.55 0 1 0 -3.1 0a1.55 1.55 0 1 0 3.1 0M269.43 157.80a1.55 1.55 0 1 0 -3.1 0a1.55 1.55 0 1 0 3.1 0M268.94 160.40a1.55 1.55 0 1 0 -3.1 0a1.55 1.55 0 1 0 3.1 0M269.51 163.00a1.55 1.55 0 1 0 -3.1 0a1.55 1.55 0 1 0 3.1 0M269.00 165.60a1.55 1.55 0 1 0 -3.1 0a1.55 1.55 0 1 0 3.1 0M268.65 168.20a1.55 1.55 0 1 0 -3.1 0a1.55 1.55 0 1 0 3.1 0M268.47 170.80a1.55 1.55 0 1 0 -3.1 0a1.55 1.55 0 1 0 3.1 0M269.11 173.40a1.55 1.55 0 1 0 -3.1 0a1.55 1.55 0 1 0 3.1 0M269.22 176.00a1.55 1.55 0 1 0 -3.1 0a1.55 1.55 0 1 0 3.1 0M74.96 161.71a1.55 1.55 0 1 0 -3.1 0a1.55 1.55 0 1 0 3.1 0M74.67 219.97a1.55 1.55 0 1 0 -3.1 0a1.55 1.55 0 1 0 3.1 0M76.15 162.17a1.55 1.55 0 1 0 -3.1 0a1.55 1.55 0 1 0 3.1 0M75.93 221.17a1.55 1.55 0 1 0 -3.1 0a1.55 1.55 0 1 0 3.1 0M78.18 163.67a1.55 1.55 0 1 0 -3.1 0a1.55 1.55 0 1 0 3.1 0M77.74 227.64a1.55 1.55 0 1 0 -3.1 0a1.55 1.55 0 1 0 3.1 0M79.82 167.18a1.55 1.55 0 1 0 -3.1 0a1.55 1.55 0 1 0 3.1 0M78.98 231.54a1.55 1.55 0 1 0 -3.1 0a1.55 1.55 0 1 0 3.1 0M81.43 169.06a1.55 1.55 0 1 0 -3.1 0a1.55 1.55 0 1 0 3.1 0M80.50 231.41a1.55 1.55 0 1 0 -3.1 0a1.55 1.55 0 1 0 3.1 0M82.44 174.73a1.55 1.55 0 1 0 -3.1 0a1.55 1.55 0 1 0 3.1 0M82.67 230.60a1.55 1.55 0 1 0 -3.1 0a1.55 1.55 0 1 0 3.1 0M83.81 179.69a1.55 1.55 0 1 0 -3.1 0a1.55 1.55 0 1 0 3.1 0M83.87 227.24a1.55 1.55 0 1 0 -3.1 0a1.55 1.55 0 1 0 3.1 0M86.10 184.03a1.55 1.55 0 1 0 -3.1 0a1.55 1.55 0 1 0 3.1 0M85.43 225.25a1.55 1.55 0 1 0 -3.1 0a1.55 1.55 0 1 0 3.1 0M87.25 181.34a1.55 1.55 0 1 0 -3.1 0a1.55 1.55 0 1 0 3.1 0M87.23 220.48a1.55 1.55 0 1 0 -3.1 0a1.55 1.55 0 1 0 3.1 0M88.70 182.80a1.55 1.55 0 1 0 -3.1 0a1.55 1.55 0 1 0 3.1 0M89.35 219.33a1.55 1.55 0 1 0 -3.1 0a1.55 1.55 0 1 0 3.1 0M90.61 183.06a1.55 1.55 0 1 0 -3.1 0a1.55 1.55 0 1 0 3.1 0M90.09 232.71a1.55 1.55 0 1 0 -3.1 0a1.55 1.55 0 1 0 3.1 0M91.77 184.80a1.55 1.55 0 1 0 -3.1 0a1.55 1.55 0 1 0 3.1 0M92.20 241.32a1.55 1.55 0 1 0 -3.1 0a1.55 1.55 0 1 0 3.1 0M93.56 186.86a1.55 1.55 0 1 0 -3.1 0a1.55 1.55 0 1 0 3.1 0M93.83 247.41a1.55 1.55 0 1 0 -3.1 0a1.55 1.55 0 1 0 3.1 0M95.51 183.07a1.55 1.55 0 1 0 -3.1 0a1.55 1.55 0 1 0 3.1 0M95.29 244.19a1.55 1.55 0 1 0 -3.1 0a1.55 1.55 0 1 0 3.1 0M97.07 182.92a1.55 1.55 0 1 0 -3.1 0a1.55 1.55 0 1 0 3.1 0M96.69 242.41a1.55 1.55 0 1 0 -3.1 0a1.55 1.55 0 1 0 3.1 0M98.83 177.67a1.55 1.55 0 1 0 -3.1 0a1.55 1.55 0 1 0 3.1 0M98.23 233.79a1.55 1.55 0 1 0 -3.1 0a1.55 1.55 0 1 0 3.1 0M99.76 170.03a1.55 1.55 0 1 0 -3.1 0a1.55 1.55 0 1 0 3.1 0M100.08 227.58a1.55 1.55 0 1 0 -3.1 0a1.55 1.55 0 1 0 3.1 0M101.69 173.08a1.55 1.55 0 1 0 -3.1 0a1.55 1.55 0 1 0 3.1 0M101.29 231.54a1.55 1.55 0 1 0 -3.1 0a1.55 1.55 0 1 0 3.1 0M102.93 174.87a1.55 1.55 0 1 0 -3.1 0a1.55 1.55 0 1 0 3.1 0M103.63 230.14a1.55 1.55 0 1 0 -3.1 0a1.55 1.55 0 1 0 3.1 0M104.50 176.53a1.55 1.55 0 1 0 -3.1 0a1.55 1.55 0 1 0 3.1 0M104.83 234.31a1.55 1.55 0 1 0 -3.1 0a1.55 1.55 0 1 0 3.1 0M106.19 183.36a1.55 1.55 0 1 0 -3.1 0a1.55 1.55 0 1 0 3.1 0M107.05 232.86a1.55 1.55 0 1 0 -3.1 0a1.55 1.55 0 1 0 3.1 0M108.46 177.55a1.55 1.55 0 1 0 -3.1 0a1.55 1.55 0 1 0 3.1 0M108.63 228.53a1.55 1.55 0 1 0 -3.1 0a1.55 1.55 0 1 0 3.1 0M110.21 173.66a1.55 1.55 0 1 0 -3.1 0a1.55 1.55 0 1 0 3.1 0M109.42 225.57a1.55 1.55 0 1 0 -3.1 0a1.55 1.55 0 1 0 3.1 0M111.78 148.52a1.55 1.55 0 1 0 -3.1 0a1.55 1.55 0 1 0 3.1 0M111.20 238.85a1.55 1.55 0 1 0 -3.1 0a1.55 1.55 0 1 0 3.1 0M112.61 149.87a1.55 1.55 0 1 0 -3.1 0a1.55 1.55 0 1 0 3.1 0M112.72 248.53a1.55 1.55 0 1 0 -3.1 0a1.55 1.55 0 1 0 3.1 0M114.19 141.52a1.55 1.55 0 1 0 -3.1 0a1.55 1.55 0 1 0 3.1 0M114.97 220.52a1.55 1.55 0 1 0 -3.1 0a1.55 1.55 0 1 0 3.1 0M115.91 142.75a1.55 1.55 0 1 0 -3.1 0a1.55 1.55 0 1 0 3.1 0M115.97 215.89a1.55 1.55 0 1 0 -3.1 0a1.55 1.55 0 1 0 3.1 0M117.43 143.89a1.55 1.55 0 1 0 -3.1 0a1.55 1.55 0 1 0 3.1 0M118.19 220.44a1.55 1.55 0 1 0 -3.1 0a1.55 1.55 0 1 0 3.1 0M119.75 151.95a1.55 1.55 0 1 0 -3.1 0a1.55 1.55 0 1 0 3.1 0M119.63 215.92a1.55 1.55 0 1 0 -3.1 0a1.55 1.55 0 1 0 3.1 0M120.98 168.89a1.55 1.55 0 1 0 -3.1 0a1.55 1.55 0 1 0 3.1 0M120.81 222.78a1.55 1.55 0 1 0 -3.1 0a1.55 1.55 0 1 0 3.1 0M122.61 177.14a1.55 1.55 0 1 0 -3.1 0a1.55 1.55 0 1 0 3.1 0M122.93 218.84a1.55 1.55 0 1 0 -3.1 0a1.55 1.55 0 1 0 3.1 0M124.64 179.44a1.55 1.55 0 1 0 -3.1 0a1.55 1.55 0 1 0 3.1 0M124.04 225.38a1.55 1.55 0 1 0 -3.1 0a1.55 1.55 0 1 0 3.1 0M125.51 183.39a1.55 1.55 0 1 0 -3.1 0a1.55 1.55 0 1 0 3.1 0M125.83 221.88a1.55 1.55 0 1 0 -3.1 0a1.55 1.55 0 1 0 3.1 0M127.61 177.42a1.55 1.55 0 1 0 -3.1 0a1.55 1.55 0 1 0 3.1 0M127.03 224.95a1.55 1.55 0 1 0 -3.1 0a1.55 1.55 0 1 0 3.1 0M128.50 177.26a1.55 1.55 0 1 0 -3.1 0a1.55 1.55 0 1 0 3.1 0M128.70 226.71a1.55 1.55 0 1 0 -3.1 0a1.55 1.55 0 1 0 3.1 0M131.03 175.39a1.55 1.55 0 1 0 -3.1 0a1.55 1.55 0 1 0 3.1 0M130.71 226.50a1.55 1.55 0 1 0 -3.1 0a1.55 1.55 0 1 0 3.1 0M131.65 170.97a1.55 1.55 0 1 0 -3.1 0a1.55 1.55 0 1 0 3.1 0M131.80 231.33a1.55 1.55 0 1 0 -3.1 0a1.55 1.55 0 1 0 3.1 0M133.68 179.18a1.55 1.55 0 1 0 -3.1 0a1.55 1.55 0 1 0 3.1 0M134.15 233.19a1.55 1.55 0 1 0 -3.1 0a1.55 1.55 0 1 0 3.1 0M135.08 183.22a1.55 1.55 0 1 0 -3.1 0a1.55 1.55 0 1 0 3.1 0M134.87 233.22a1.55 1.55 0 1 0 -3.1 0a1.55 1.55 0 1 0 3.1 0M136.80 178.85a1.55 1.55 0 1 0 -3.1 0a1.55 1.55 0 1 0 3.1 0M136.81 235.66a1.55 1.55 0 1 0 -3.1 0a1.55 1.55 0 1 0 3.1 0M138.63 191.71a1.55 1.55 0 1 0 -3.1 0a1.55 1.55 0 1 0 3.1 0M138.25 238.99a1.55 1.55 0 1 0 -3.1 0a1.55 1.55 0 1 0 3.1 0M140.12 188.08a1.55 1.55 0 1 0 -3.1 0a1.55 1.55 0 1 0 3.1 0M140.59 235.95a1.55 1.55 0 1 0 -3.1 0a1.55 1.55 0 1 0 3.1 0M141.40 187.77a1.55 1.55 0 1 0 -3.1 0a1.55 1.55 0 1 0 3.1 0M141.89 240.67a1.55 1.55 0 1 0 -3.1 0a1.55 1.55 0 1 0 3.1 0M143.63 190.22a1.55 1.55 0 1 0 -3.1 0a1.55 1.55 0 1 0 3.1 0M143.11 231.39a1.55 1.55 0 1 0 -3.1 0a1.55 1.55 0 1 0 3.1 0M145.09 187.30a1.55 1.55 0 1 0 -3.1 0a1.55 1.55 0 1 0 3.1 0M144.80 236.16a1.55 1.55 0 1 0 -3.1 0a1.55 1.55 0 1 0 3.1 0M146.49 188.50a1.55 1.55 0 1 0 -3.1 0a1.55 1.55 0 1 0 3.1 0M146.78 232.24a1.55 1.55 0 1 0 -3.1 0a1.55 1.55 0 1 0 3.1 0M148.55 181.35a1.55 1.55 0 1 0 -3.1 0a1.55 1.55 0 1 0 3.1 0M148.18 232.30a1.55 1.55 0 1 0 -3.1 0a1.55 1.55 0 1 0 3.1 0M149.49 181.47a1.55 1.55 0 1 0 -3.1 0a1.55 1.55 0 1 0 3.1 0M150.03 228.17a1.55 1.55 0 1 0 -3.1 0a1.55 1.55 0 1 0 3.1 0M151.40 188.53a1.55 1.55 0 1 0 -3.1 0a1.55 1.55 0 1 0 3.1 0M150.99 230.20a1.55 1.55 0 1 0 -3.1 0a1.55 1.55 0 1 0 3.1 0M153.06 185.66a1.55 1.55 0 1 0 -3.1 0a1.55 1.55 0 1 0 3.1 0M153.09 235.71a1.55 1.55 0 1 0 -3.1 0a1.55 1.55 0 1 0 3.1 0M154.22 167.48a1.55 1.55 0 1 0 -3.1 0a1.55 1.55 0 1 0 3.1 0M154.35 230.39a1.55 1.55 0 1 0 -3.1 0a1.55 1.55 0 1 0 3.1 0M156.54 179.06a1.55 1.55 0 1 0 -3.1 0a1.55 1.55 0 1 0 3.1 0M156.37 230.05a1.55 1.55 0 1 0 -3.1 0a1.55 1.55 0 1 0 3.1 0M158.09 170.16a1.55 1.55 0 1 0 -3.1 0a1.55 1.55 0 1 0 3.1 0M157.72 234.13a1.55 1.55 0 1 0 -3.1 0a1.55 1.55 0 1 0 3.1 0M159.30 151.21a1.55 1.55 0 1 0 -3.1 0a1.55 1.55 0 1 0 3.1 0M158.96 225.66a1.55 1.55 0 1 0 -3.1 0a1.55 1.55 0 1 0 3.1 0M160.49 151.68a1.55 1.55 0 1 0 -3.1 0a1.55 1.55 0 1 0 3.1 0M161.20 225.06a1.55 1.55 0 1 0 -3.1 0a1.55 1.55 0 1 0 3.1 0M162.90 154.19a1.55 1.55 0 1 0 -3.1 0a1.55 1.55 0 1 0 3.1 0M162.32 220.93a1.55 1.55 0 1 0 -3.1 0a1.55 1.55 0 1 0 3.1 0M164.09 154.61a1.55 1.55 0 1 0 -3.1 0a1.55 1.55 0 1 0 3.1 0M164.17 217.12a1.55 1.55 0 1 0 -3.1 0a1.55 1.55 0 1 0 3.1 0M165.89 158.72a1.55 1.55 0 1 0 -3.1 0a1.55 1.55 0 1 0 3.1 0M165.47 222.04a1.55 1.55 0 1 0 -3.1 0a1.55 1.55 0 1 0 3.1 0M166.87 163.08a1.55 1.55 0 1 0 -3.1 0a1.55 1.55 0 1 0 3.1 0M167.09 220.95a1.55 1.55 0 1 0 -3.1 0a1.55 1.55 0 1 0 3.1 0M169.39 171.37a1.55 1.55 0 1 0 -3.1 0a1.55 1.55 0 1 0 3.1 0M168.78 223.44a1.55 1.55 0 1 0 -3.1 0a1.55 1.55 0 1 0 3.1 0M170.38 172.91a1.55 1.55 0 1 0 -3.1 0a1.55 1.55 0 1 0 3.1 0M170.96 227.05a1.55 1.55 0 1 0 -3.1 0a1.55 1.55 0 1 0 3.1 0M172.34 185.12a1.55 1.55 0 1 0 -3.1 0a1.55 1.55 0 1 0 3.1 0M172.63 225.76a1.55 1.55 0 1 0 -3.1 0a1.55 1.55 0 1 0 3.1 0M174.09 187.58a1.55 1.55 0 1 0 -3.1 0a1.55 1.55 0 1 0 3.1 0M174.11 222.70a1.55 1.55 0 1 0 -3.1 0a1.55 1.55 0 1 0 3.1 0M175.57 171.76a1.55 1.55 0 1 0 -3.1 0a1.55 1.55 0 1 0 3.1 0M175.16 217.16a1.55 1.55 0 1 0 -3.1 0a1.55 1.55 0 1 0 3.1 0M177.07 165.62a1.55 1.55 0 1 0 -3.1 0a1.55 1.55 0 1 0 3.1 0M177.36 213.36a1.55 1.55 0 1 0 -3.1 0a1.55 1.55 0 1 0 3.1 0M178.08 171.85a1.55 1.55 0 1 0 -3.1 0a1.55 1.55 0 1 0 3.1 0M178.98 210.76a1.55 1.55 0 1 0 -3.1 0a1.55 1.55 0 1 0 3.1 0M179.79 171.23a1.55 1.55 0 1 0 -3.1 0a1.55 1.55 0 1 0 3.1 0M179.69 210.54a1.55 1.55 0 1 0 -3.1 0a1.55 1.55 0 1 0 3.1 0M181.88 176.88a1.55 1.55 0 1 0 -3.1 0a1.55 1.55 0 1 0 3.1 0M181.99 205.63a1.55 1.55 0 1 0 -3.1 0a1.55 1.55 0 1 0 3.1 0M183.44 176.61a1.55 1.55 0 1 0 -3.1 0a1.55 1.55 0 1 0 3.1 0M183.67 212.46a1.55 1.55 0 1 0 -3.1 0a1.55 1.55 0 1 0 3.1 0M185.34 172.43a1.55 1.55 0 1 0 -3.1 0a1.55 1.55 0 1 0 3.1 0M185.32 220.11a1.55 1.55 0 1 0 -3.1 0a1.55 1.55 0 1 0 3.1 0M186.99 162.86a1.55 1.55 0 1 0 -3.1 0a1.55 1.55 0 1 0 3.1 0M186.26 216.60a1.55 1.55 0 1 0 -3.1 0a1.55 1.55 0 1 0 3.1 0M187.68 140.78a1.55 1.55 0 1 0 -3.1 0a1.55 1.55 0 1 0 3.1 0M188.46 220.77a1.55 1.55 0 1 0 -3.1 0a1.55 1.55 0 1 0 3.1 0M190.08 140.05a1.55 1.55 0 1 0 -3.1 0a1.55 1.55 0 1 0 3.1 0M189.54 216.50a1.55 1.55 0 1 0 -3.1 0a1.55 1.55 0 1 0 3.1 0M190.95 148.94a1.55 1.55 0 1 0 -3.1 0a1.55 1.55 0 1 0 3.1 0M191.05 218.25a1.55 1.55 0 1 0 -3.1 0a1.55 1.55 0 1 0 3.1 0M192.87 150.41a1.55 1.55 0 1 0 -3.1 0a1.55 1.55 0 1 0 3.1 0M192.71 217.96a1.55 1.55 0 1 0 -3.1 0a1.55 1.55 0 1 0 3.1 0M194.77 151.94a1.55 1.55 0 1 0 -3.1 0a1.55 1.55 0 1 0 3.1 0M194.37 222.71a1.55 1.55 0 1 0 -3.1 0a1.55 1.55 0 1 0 3.1 0M196.15 155.81a1.55 1.55 0 1 0 -3.1 0a1.55 1.55 0 1 0 3.1 0M196.27 217.38a1.55 1.55 0 1 0 -3.1 0a1.55 1.55 0 1 0 3.1 0M197.66 152.49a1.55 1.55 0 1 0 -3.1 0a1.55 1.55 0 1 0 3.1 0M198.02 222.37a1.55 1.55 0 1 0 -3.1 0a1.55 1.55 0 1 0 3.1 0M199.55 153.30a1.55 1.55 0 1 0 -3.1 0a1.55 1.55 0 1 0 3.1 0M199.07 233.80a1.55 1.55 0 1 0 -3.1 0a1.55 1.55 0 1 0 3.1 0M200.54 159.09a1.55 1.55 0 1 0 -3.1 0a1.55 1.55 0 1 0 3.1 0M200.62 232.68a1.55 1.55 0 1 0 -3.1 0a1.55 1.55 0 1 0 3.1 0M202.25 171.40a1.55 1.55 0 1 0 -3.1 0a1.55 1.55 0 1 0 3.1 0M203.03 236.03a1.55 1.55 0 1 0 -3.1 0a1.55 1.55 0 1 0 3.1 0M204.14 176.19a1.55 1.55 0 1 0 -3.1 0a1.55 1.55 0 1 0 3.1 0M204.45 237.48a1.55 1.55 0 1 0 -3.1 0a1.55 1.55 0 1 0 3.1 0M205.74 176.78a1.55 1.55 0 1 0 -3.1 0a1.55 1.55 0 1 0 3.1 0M206.08 233.28a1.55 1.55 0 1 0 -3.1 0a1.55 1.55 0 1 0 3.1 0M207.79 174.61a1.55 1.55 0 1 0 -3.1 0a1.55 1.55 0 1 0 3.1 0M207.06 228.40a1.55 1.55 0 1 0 -3.1 0a1.55 1.55 0 1 0 3.1 0M208.95 172.38a1.55 1.55 0 1 0 -3.1 0a1.55 1.55 0 1 0 3.1 0M209.09 215.79a1.55 1.55 0 1 0 -3.1 0a1.55 1.55 0 1 0 3.1 0M210.84 176.28a1.55 1.55 0 1 0 -3.1 0a1.55 1.55 0 1 0 3.1 0M210.84 220.72a1.55 1.55 0 1 0 -3.1 0a1.55 1.55 0 1 0 3.1 0M212.01 173.91a1.55 1.55 0 1 0 -3.1 0a1.55 1.55 0 1 0 3.1 0M212.04 222.82a1.55 1.55 0 1 0 -3.1 0a1.55 1.55 0 1 0 3.1 0M213.34 177.81a1.55 1.55 0 1 0 -3.1 0a1.55 1.55 0 1 0 3.1 0M213.28 214.53a1.55 1.55 0 1 0 -3.1 0a1.55 1.55 0 1 0 3.1 0M215.11 165.91a1.55 1.55 0 1 0 -3.1 0a1.55 1.55 0 1 0 3.1 0M215.35 214.26a1.55 1.55 0 1 0 -3.1 0a1.55 1.55 0 1 0 3.1 0M217.33 157.57a1.55 1.55 0 1 0 -3.1 0a1.55 1.55 0 1 0 3.1 0M216.91 215.94a1.55 1.55 0 1 0 -3.1 0a1.55 1.55 0 1 0 3.1 0M218.80 168.02a1.55 1.55 0 1 0 -3.1 0a1.55 1.55 0 1 0 3.1 0M218.70 214.79a1.55 1.55 0 1 0 -3.1 0a1.55 1.55 0 1 0 3.1 0M219.98 163.24a1.55 1.55 0 1 0 -3.1 0a1.55 1.55 0 1 0 3.1 0M220.49 217.30a1.55 1.55 0 1 0 -3.1 0a1.55 1.55 0 1 0 3.1 0M221.99 163.36a1.55 1.55 0 1 0 -3.1 0a1.55 1.55 0 1 0 3.1 0M221.69 216.39a1.55 1.55 0 1 0 -3.1 0a1.55 1.55 0 1 0 3.1 0M223.43 163.01a1.55 1.55 0 1 0 -3.1 0a1.55 1.55 0 1 0 3.1 0M223.31 215.55a1.55 1.55 0 1 0 -3.1 0a1.55 1.55 0 1 0 3.1 0M224.69 163.53a1.55 1.55 0 1 0 -3.1 0a1.55 1.55 0 1 0 3.1 0M224.75 213.03a1.55 1.55 0 1 0 -3.1 0a1.55 1.55 0 1 0 3.1 0M226.89 164.24a1.55 1.55 0 1 0 -3.1 0a1.55 1.55 0 1 0 3.1 0M226.21 206.98a1.55 1.55 0 1 0 -3.1 0a1.55 1.55 0 1 0 3.1 0M227.98 167.58a1.55 1.55 0 1 0 -3.1 0a1.55 1.55 0 1 0 3.1 0M227.81 205.62a1.55 1.55 0 1 0 -3.1 0a1.55 1.55 0 1 0 3.1 0M229.44 167.70a1.55 1.55 0 1 0 -3.1 0a1.55 1.55 0 1 0 3.1 0M229.98 204.01a1.55 1.55 0 1 0 -3.1 0a1.55 1.55 0 1 0 3.1 0M231.81 152.31a1.55 1.55 0 1 0 -3.1 0a1.55 1.55 0 1 0 3.1 0M231.23 212.67a1.55 1.55 0 1 0 -3.1 0a1.55 1.55 0 1 0 3.1 0M233.24 161.57a1.55 1.55 0 1 0 -3.1 0a1.55 1.55 0 1 0 3.1 0M232.88 207.27a1.55 1.55 0 1 0 -3.1 0a1.55 1.55 0 1 0 3.1 0M234.69 156.55a1.55 1.55 0 1 0 -3.1 0a1.55 1.55 0 1 0 3.1 0M234.26 208.81a1.55 1.55 0 1 0 -3.1 0a1.55 1.55 0 1 0 3.1 0M235.68 160.85a1.55 1.55 0 1 0 -3.1 0a1.55 1.55 0 1 0 3.1 0M236.44 216.25a1.55 1.55 0 1 0 -3.1 0a1.55 1.55 0 1 0 3.1 0M237.75 164.06a1.55 1.55 0 1 0 -3.1 0a1.55 1.55 0 1 0 3.1 0M237.71 211.74a1.55 1.55 0 1 0 -3.1 0a1.55 1.55 0 1 0 3.1 0M239.45 153.94a1.55 1.55 0 1 0 -3.1 0a1.55 1.55 0 1 0 3.1 0M239.59 215.16a1.55 1.55 0 1 0 -3.1 0a1.55 1.55 0 1 0 3.1 0M240.88 143.23a1.55 1.55 0 1 0 -3.1 0a1.55 1.55 0 1 0 3.1 0M241.20 214.07a1.55 1.55 0 1 0 -3.1 0a1.55 1.55 0 1 0 3.1 0M242.28 143.08a1.55 1.55 0 1 0 -3.1 0a1.55 1.55 0 1 0 3.1 0M242.93 216.89a1.55 1.55 0 1 0 -3.1 0a1.55 1.55 0 1 0 3.1 0M244.35 151.27a1.55 1.55 0 1 0 -3.1 0a1.55 1.55 0 1 0 3.1 0M244.33 214.60a1.55 1.55 0 1 0 -3.1 0a1.55 1.55 0 1 0 3.1 0M245.70 141.50a1.55 1.55 0 1 0 -3.1 0a1.55 1.55 0 1 0 3.1 0M245.88 209.78a1.55 1.55 0 1 0 -3.1 0a1.55 1.55 0 1 0 3.1 0M247.27 145.26a1.55 1.55 0 1 0 -3.1 0a1.55 1.55 0 1 0 3.1 0M247.56 210.84a1.55 1.55 0 1 0 -3.1 0a1.55 1.55 0 1 0 3.1 0M248.70 134.09a1.55 1.55 0 1 0 -3.1 0a1.55 1.55 0 1 0 3.1 0M248.91 208.97a1.55 1.55 0 1 0 -3.1 0a1.55 1.55 0 1 0 3.1 0M250.46 136.10a1.55 1.55 0 1 0 -3.1 0a1.55 1.55 0 1 0 3.1 0M250.98 205.46a1.55 1.55 0 1 0 -3.1 0a1.55 1.55 0 1 0 3.1 0M252.30 136.93a1.55 1.55 0 1 0 -3.1 0a1.55 1.55 0 1 0 3.1 0M252.04 208.22a1.55 1.55 0 1 0 -3.1 0a1.55 1.55 0 1 0 3.1 0M254.22 131.01a1.55 1.55 0 1 0 -3.1 0a1.55 1.55 0 1 0 3.1 0M253.79 206.59a1.55 1.55 0 1 0 -3.1 0a1.55 1.55 0 1 0 3.1 0M255.63 138.22a1.55 1.55 0 1 0 -3.1 0a1.55 1.55 0 1 0 3.1 0M255.37 208.51a1.55 1.55 0 1 0 -3.1 0a1.55 1.55 0 1 0 3.1 0M257.02 150.03a1.55 1.55 0 1 0 -3.1 0a1.55 1.55 0 1 0 3.1 0M257.17 216.10a1.55 1.55 0 1 0 -3.1 0a1.55 1.55 0 1 0 3.1 0M258.69 152.33a1.55 1.55 0 1 0 -3.1 0a1.55 1.55 0 1 0 3.1 0M258.57 218.28a1.55 1.55 0 1 0 -3.1 0a1.55 1.55 0 1 0 3.1 0M260.60 166.02a1.55 1.55 0 1 0 -3.1 0a1.55 1.55 0 1 0 3.1 0M260.33 229.94a1.55 1.55 0 1 0 -3.1 0a1.55 1.55 0 1 0 3.1 0M262.01 169.98a1.55 1.55 0 1 0 -3.1 0a1.55 1.55 0 1 0 3.1 0M262.23 232.84a1.55 1.55 0 1 0 -3.1 0a1.55 1.55 0 1 0 3.1 0M262.91 177.96a1.55 1.55 0 1 0 -3.1 0a1.55 1.55 0 1 0 3.1 0M263.25 228.88a1.55 1.55 0 1 0 -3.1 0a1.55 1.55 0 1 0 3.1 0M264.87 183.36a1.55 1.55 0 1 0 -3.1 0a1.55 1.55 0 1 0 3.1 0M265.15 230.82a1.55 1.55 0 1 0 -3.1 0a1.55 1.55 0 1 0 3.1 0M266.32 181.80a1.55 1.55 0 1 0 -3.1 0a1.55 1.55 0 1 0 3.1 0M266.79 235.02a1.55 1.55 0 1 0 -3.1 0a1.55 1.55 0 1 0 3.1 0M268.18 181.75a1.55 1.55 0 1 0 -3.1 0a1.55 1.55 0 1 0 3.1 0M268.45 230.14a1.55 1.55 0 1 0 -3.1 0a1.55 1.55 0 1 0 3.1 0M269.46 181.03a1.55 1.55 0 1 0 -3.1 0a1.55 1.55 0 1 0 3.1 0M270.03 233.28a1.55 1.55 0 1 0 -3.1 0a1.55 1.55 0 1 0 3.1 0M271.48 183.75a1.55 1.55 0 1 0 -3.1 0a1.55 1.55 0 1 0 3.1 0M271.41 227.01a1.55 1.55 0 1 0 -3.1 0a1.55 1.55 0 1 0 3.1 0M273.41 182.83a1.55 1.55 0 1 0 -3.1 0a1.55 1.55 0 1 0 3.1 0M273.09 230.15a1.55 1.55 0 1 0 -3.1 0a1.55 1.55 0 1 0 3.1 0M274.87 183.74a1.55 1.55 0 1 0 -3.1 0a1.55 1.55 0 1 0 3.1 0M274.34 227.89a1.55 1.55 0 1 0 -3.1 0a1.55 1.55 0 1 0 3.1 0M275.78 186.67a1.55 1.55 0 1 0 -3.1 0a1.55 1.55 0 1 0 3.1 0M276.00 230.81a1.55 1.55 0 1 0 -3.1 0a1.55 1.55 0 1 0 3.1 0M277.52 183.01a1.55 1.55 0 1 0 -3.1 0a1.55 1.55 0 1 0 3.1 0M277.50 227.41a1.55 1.55 0 1 0 -3.1 0a1.55 1.55 0 1 0 3.1 0M279.04 180.02a1.55 1.55 0 1 0 -3.1 0a1.55 1.55 0 1 0 3.1 0M279.57 226.25a1.55 1.55 0 1 0 -3.1 0a1.55 1.55 0 1 0 3.1 0M280.69 182.41a1.55 1.55 0 1 0 -3.1 0a1.55 1.55 0 1 0 3.1 0M280.93 227.43a1.55 1.55 0 1 0 -3.1 0a1.55 1.55 0 1 0 3.1 0M282.69 186.20a1.55 1.55 0 1 0 -3.1 0a1.55 1.55 0 1 0 3.1 0M282.41 232.93a1.55 1.55 0 1 0 -3.1 0a1.55 1.55 0 1 0 3.1 0M284.50 184.46a1.55 1.55 0 1 0 -3.1 0a1.55 1.55 0 1 0 3.1 0M284.48 234.35a1.55 1.55 0 1 0 -3.1 0a1.55 1.55 0 1 0 3.1 0M286.03 184.42a1.55 1.55 0 1 0 -3.1 0a1.55 1.55 0 1 0 3.1 0M286.08 229.87a1.55 1.55 0 1 0 -3.1 0a1.55 1.55 0 1 0 3.1 0M286.86 177.79a1.55 1.55 0 1 0 -3.1 0a1.55 1.55 0 1 0 3.1 0M287.80 228.45a1.55 1.55 0 1 0 -3.1 0a1.55 1.55 0 1 0 3.1 0M288.70 177.81a1.55 1.55 0 1 0 -3.1 0a1.55 1.55 0 1 0 3.1 0M288.59 225.57a1.55 1.55 0 1 0 -3.1 0a1.55 1.55 0 1 0 3.1 0M290.83 178.27a1.55 1.55 0 1 0 -3.1 0a1.55 1.55 0 1 0 3.1 0M290.20 228.73a1.55 1.55 0 1 0 -3.1 0a1.55 1.55 0 1 0 3.1 0M292.44 173.24a1.55 1.55 0 1 0 -3.1 0a1.55 1.55 0 1 0 3.1 0M292.54 226.32a1.55 1.55 0 1 0 -3.1 0a1.55 1.55 0 1 0 3.1 0M294.03 171.70a1.55 1.55 0 1 0 -3.1 0a1.55 1.55 0 1 0 3.1 0M294.14 228.95a1.55 1.55 0 1 0 -3.1 0a1.55 1.55 0 1 0 3.1 0M295.69 158.73a1.55 1.55 0 1 0 -3.1 0a1.55 1.55 0 1 0 3.1 0M295.54 228.10a1.55 1.55 0 1 0 -3.1 0a1.55 1.55 0 1 0 3.1 0M297.19 158.67a1.55 1.55 0 1 0 -3.1 0a1.55 1.55 0 1 0 3.1 0M297.33 228.44a1.55 1.55 0 1 0 -3.1 0a1.55 1.55 0 1 0 3.1 0M298.31 156.67a1.55 1.55 0 1 0 -3.1 0a1.55 1.55 0 1 0 3.1 0M298.19 220.79a1.55 1.55 0 1 0 -3.1 0a1.55 1.55 0 1 0 3.1 0M299.71 156.04a1.55 1.55 0 1 0 -3.1 0a1.55 1.55 0 1 0 3.1 0M299.79 211.92a1.55 1.55 0 1 0 -3.1 0a1.55 1.55 0 1 0 3.1 0M301.75 156.79a1.55 1.55 0 1 0 -3.1 0a1.55 1.55 0 1 0 3.1 0M302.11 204.45a1.55 1.55 0 1 0 -3.1 0a1.55 1.55 0 1 0 3.1 0M303.69 157.57a1.55 1.55 0 1 0 -3.1 0a1.55 1.55 0 1 0 3.1 0M303.41 212.92a1.55 1.55 0 1 0 -3.1 0a1.55 1.55 0 1 0 3.1 0M305.29 157.00a1.55 1.55 0 1 0 -3.1 0a1.55 1.55 0 1 0 3.1 0M304.87 220.37a1.55 1.55 0 1 0 -3.1 0a1.55 1.55 0 1 0 3.1 0M306.13 159.95a1.55 1.55 0 1 0 -3.1 0a1.55 1.55 0 1 0 3.1 0M306.69 214.93a1.55 1.55 0 1 0 -3.1 0a1.55 1.55 0 1 0 3.1 0M308.26 161.16a1.55 1.55 0 1 0 -3.1 0a1.55 1.55 0 1 0 3.1 0M308.58 217.34a1.55 1.55 0 1 0 -3.1 0a1.55 1.55 0 1 0 3.1 0M310.23 159.79a1.55 1.55 0 1 0 -3.1 0a1.55 1.55 0 1 0 3.1 0M309.73 223.43a1.55 1.55 0 1 0 -3.1 0a1.55 1.55 0 1 0 3.1 0M310.88 161.45a1.55 1.55 0 1 0 -3.1 0a1.55 1.55 0 1 0 3.1 0M311.48 229.01a1.55 1.55 0 1 0 -3.1 0a1.55 1.55 0 1 0 3.1 0M313.31 160.94a1.55 1.55 0 1 0 -3.1 0a1.55 1.55 0 1 0 3.1 0M312.92 227.18a1.55 1.55 0 1 0 -3.1 0a1.55 1.55 0 1 0 3.1 0M314.82 160.69a1.55 1.55 0 1 0 -3.1 0a1.55 1.55 0 1 0 3.1 0M314.49 221.38a1.55 1.55 0 1 0 -3.1 0a1.55 1.55 0 1 0 3.1 0M316.20 165.01a1.55 1.55 0 1 0 -3.1 0a1.55 1.55 0 1 0 3.1 0M315.94 224.62a1.55 1.55 0 1 0 -3.1 0a1.55 1.55 0 1 0 3.1 0M317.65 159.43a1.55 1.55 0 1 0 -3.1 0a1.55 1.55 0 1 0 3.1 0M317.52 222.05a1.55 1.55 0 1 0 -3.1 0a1.55 1.55 0 1 0 3.1 0M319.82 154.24a1.55 1.55 0 1 0 -3.1 0a1.55 1.55 0 1 0 3.1 0M319.64 220.65a1.55 1.55 0 1 0 -3.1 0a1.55 1.55 0 1 0 3.1 0M320.77 151.55a1.55 1.55 0 1 0 -3.1 0a1.55 1.55 0 1 0 3.1 0M321.04 223.08a1.55 1.55 0 1 0 -3.1 0a1.55 1.55 0 1 0 3.1 0M322.83 150.12a1.55 1.55 0 1 0 -3.1 0a1.55 1.55 0 1 0 3.1 0M322.77 215.08a1.55 1.55 0 1 0 -3.1 0a1.55 1.55 0 1 0 3.1 0M324.20 148.20a1.55 1.55 0 1 0 -3.1 0a1.55 1.55 0 1 0 3.1 0M323.95 204.85a1.55 1.55 0 1 0 -3.1 0a1.55 1.55 0 1 0 3.1 0M325.44 153.87a1.55 1.55 0 1 0 -3.1 0a1.55 1.55 0 1 0 3.1 0M325.86 209.26a1.55 1.55 0 1 0 -3.1 0a1.55 1.55 0 1 0 3.1 0M327.64 153.78a1.55 1.55 0 1 0 -3.1 0a1.55 1.55 0 1 0 3.1 0M327.46 208.93a1.55 1.55 0 1 0 -3.1 0a1.55 1.55 0 1 0 3.1 0M329.08 152.07a1.55 1.55 0 1 0 -3.1 0a1.55 1.55 0 1 0 3.1 0M329.05 209.45a1.55 1.55 0 1 0 -3.1 0a1.55 1.55 0 1 0 3.1 0M330.26 151.84a1.55 1.55 0 1 0 -3.1 0a1.55 1.55 0 1 0 3.1 0M330.51 210.10a1.55 1.55 0 1 0 -3.1 0a1.55 1.55 0 1 0 3.1 0M331.75 147.95a1.55 1.55 0 1 0 -3.1 0a1.55 1.55 0 1 0 3.1 0M331.69 210.20a1.55 1.55 0 1 0 -3.1 0a1.55 1.55 0 1 0 3.1 0M334.16 151.75a1.55 1.55 0 1 0 -3.1 0a1.55 1.55 0 1 0 3.1 0M333.62 210.88a1.55 1.55 0 1 0 -3.1 0a1.55 1.55 0 1 0 3.1 0M335.64 151.00a1.55 1.55 0 1 0 -3.1 0a1.55 1.55 0 1 0 3.1 0M335.11 207.12a1.55 1.55 0 1 0 -3.1 0a1.55 1.55 0 1 0 3.1 0M336.87 150.87a1.55 1.55 0 1 0 -3.1 0a1.55 1.55 0 1 0 3.1 0M336.88 209.83a1.55 1.55 0 1 0 -3.1 0a1.55 1.55 0 1 0 3.1 0M338.98 151.94a1.55 1.55 0 1 0 -3.1 0a1.55 1.55 0 1 0 3.1 0M338.62 205.02a1.55 1.55 0 1 0 -3.1 0a1.55 1.55 0 1 0 3.1 0M339.77 158.98a1.55 1.55 0 1 0 -3.1 0a1.55 1.55 0 1 0 3.1 0M340.23 211.84a1.55 1.55 0 1 0 -3.1 0a1.55 1.55 0 1 0 3.1 0M341.70 138.31a1.55 1.55 0 1 0 -3.1 0a1.55 1.55 0 1 0 3.1 0M341.64 208.74a1.55 1.55 0 1 0 -3.1 0a1.55 1.55 0 1 0 3.1 0M343.79 146.05a1.55 1.55 0 1 0 -3.1 0a1.55 1.55 0 1 0 3.1 0M343.33 207.30a1.55 1.55 0 1 0 -3.1 0a1.55 1.55 0 1 0 3.1 0M344.55 143.36a1.55 1.55 0 1 0 -3.1 0a1.55 1.55 0 1 0 3.1 0M344.66 205.21a1.55 1.55 0 1 0 -3.1 0a1.55 1.55 0 1 0 3.1 0M346.07 118.24a1.55 1.55 0 1 0 -3.1 0a1.55 1.55 0 1 0 3.1 0M346.73 204.97a1.55 1.55 0 1 0 -3.1 0a1.55 1.55 0 1 0 3.1 0M348.62 118.91a1.55 1.55 0 1 0 -3.1 0a1.55 1.55 0 1 0 3.1 0M348.52 205.21a1.55 1.55 0 1 0 -3.1 0a1.55 1.55 0 1 0 3.1 0M349.27 135.01a1.55 1.55 0 1 0 -3.1 0a1.55 1.55 0 1 0 3.1 0M349.49 211.17a1.55 1.55 0 1 0 -3.1 0a1.55 1.55 0 1 0 3.1 0M351.04 134.40a1.55 1.55 0 1 0 -3.1 0a1.55 1.55 0 1 0 3.1 0M351.62 213.41a1.55 1.55 0 1 0 -3.1 0a1.55 1.55 0 1 0 3.1 0M353.31 145.44a1.55 1.55 0 1 0 -3.1 0a1.55 1.55 0 1 0 3.1 0M352.53 213.59a1.55 1.55 0 1 0 -3.1 0a1.55 1.55 0 1 0 3.1 0M354.76 150.18a1.55 1.55 0 1 0 -3.1 0a1.55 1.55 0 1 0 3.1 0M354.98 210.83a1.55 1.55 0 1 0 -3.1 0a1.55 1.55 0 1 0 3.1 0M356.61 154.74a1.55 1.55 0 1 0 -3.1 0a1.55 1.55 0 1 0 3.1 0M355.66 207.48a1.55 1.55 0 1 0 -3.1 0a1.55 1.55 0 1 0 3.1 0M357.90 154.71a1.55 1.55 0 1 0 -3.1 0a1.55 1.55 0 1 0 3.1 0M357.33 205.49a1.55 1.55 0 1 0 -3.1 0a1.55 1.55 0 1 0 3.1 0M359.58 145.33a1.55 1.55 0 1 0 -3.1 0a1.55 1.55 0 1 0 3.1 0M359.71 201.22a1.55 1.55 0 1 0 -3.1 0a1.55 1.55 0 1 0 3.1 0M360.51 146.94a1.55 1.55 0 1 0 -3.1 0a1.55 1.55 0 1 0 3.1 0M361.02 198.91a1.55 1.55 0 1 0 -3.1 0a1.55 1.55 0 1 0 3.1 0M362.73 145.16a1.55 1.55 0 1 0 -3.1 0a1.55 1.55 0 1 0 3.1 0M362.85 195.91a1.55 1.55 0 1 0 -3.1 0a1.55 1.55 0 1 0 3.1 0M364.29 146.54a1.55 1.55 0 1 0 -3.1 0a1.55 1.55 0 1 0 3.1 0M364.07 193.79a1.55 1.55 0 1 0 -3.1 0a1.55 1.55 0 1 0 3.1 0M366.04 149.06a1.55 1.55 0 1 0 -3.1 0a1.55 1.55 0 1 0 3.1 0M366.03 195.23a1.55 1.55 0 1 0 -3.1 0a1.55 1.55 0 1 0 3.1 0M367.14 140.44a1.55 1.55 0 1 0 -3.1 0a1.55 1.55 0 1 0 3.1 0M367.82 196.33a1.55 1.55 0 1 0 -3.1 0a1.55 1.55 0 1 0 3.1 0M369.28 139.52a1.55 1.55 0 1 0 -3.1 0a1.55 1.55 0 1 0 3.1 0M369.06 198.52a1.55 1.55 0 1 0 -3.1 0a1.55 1.55 0 1 0 3.1 0M370.88 140.51a1.55 1.55 0 1 0 -3.1 0a1.55 1.55 0 1 0 3.1 0M370.36 194.13a1.55 1.55 0 1 0 -3.1 0a1.55 1.55 0 1 0 3.1 0M372.54 134.84a1.55 1.55 0 1 0 -3.1 0a1.55 1.55 0 1 0 3.1 0M372.33 194.40a1.55 1.55 0 1 0 -3.1 0a1.55 1.55 0 1 0 3.1 0M374.15 133.76a1.55 1.55 0 1 0 -3.1 0a1.55 1.55 0 1 0 3.1 0M373.53 179.01a1.55 1.55 0 1 0 -3.1 0a1.55 1.55 0 1 0 3.1 0M375.11 130.68a1.55 1.55 0 1 0 -3.1 0a1.55 1.55 0 1 0 3.1 0M375.44 185.53a1.55 1.55 0 1 0 -3.1 0a1.55 1.55 0 1 0 3.1 0M377.34 127.64a1.55 1.55 0 1 0 -3.1 0a1.55 1.55 0 1 0 3.1 0M377.28 193.49a1.55 1.55 0 1 0 -3.1 0a1.55 1.55 0 1 0 3.1 0M378.92 131.88a1.55 1.55 0 1 0 -3.1 0a1.55 1.55 0 1 0 3.1 0M378.32 193.81a1.55 1.55 0 1 0 -3.1 0a1.55 1.55 0 1 0 3.1 0M380.46 135.14a1.55 1.55 0 1 0 -3.1 0a1.55 1.55 0 1 0 3.1 0M380.56 190.77a1.55 1.55 0 1 0 -3.1 0a1.55 1.55 0 1 0 3.1 0M381.34 138.96a1.55 1.55 0 1 0 -3.1 0a1.55 1.55 0 1 0 3.1 0M382.05 189.60a1.55 1.55 0 1 0 -3.1 0a1.55 1.55 0 1 0 3.1 0M383.60 143.15a1.55 1.55 0 1 0 -3.1 0a1.55 1.55 0 1 0 3.1 0M383.08 192.86a1.55 1.55 0 1 0 -3.1 0a1.55 1.55 0 1 0 3.1 0M385.13 137.45a1.55 1.55 0 1 0 -3.1 0a1.55 1.55 0 1 0 3.1 0M384.66 190.04a1.55 1.55 0 1 0 -3.1 0a1.55 1.55 0 1 0 3.1 0M386.80 133.63a1.55 1.55 0 1 0 -3.1 0a1.55 1.55 0 1 0 3.1 0M386.51 188.01a1.55 1.55 0 1 0 -3.1 0a1.55 1.55 0 1 0 3.1 0M388.46 135.98a1.55 1.55 0 1 0 -3.1 0a1.55 1.55 0 1 0 3.1 0M387.88 189.42a1.55 1.55 0 1 0 -3.1 0a1.55 1.55 0 1 0 3.1 0M390.15 143.57a1.55 1.55 0 1 0 -3.1 0a1.55 1.55 0 1 0 3.1 0M389.77 188.03a1.55 1.55 0 1 0 -3.1 0a1.55 1.55 0 1 0 3.1 0M391.44 140.51a1.55 1.55 0 1 0 -3.1 0a1.55 1.55 0 1 0 3.1 0M391.04 184.61a1.55 1.55 0 1 0 -3.1 0a1.55 1.55 0 1 0 3.1 0M393.15 140.97a1.55 1.55 0 1 0 -3.1 0a1.55 1.55 0 1 0 3.1 0M393.01 186.22a1.55 1.55 0 1 0 -3.1 0a1.55 1.55 0 1 0 3.1 0M394.57 138.19a1.55 1.55 0 1 0 -3.1 0a1.55 1.55 0 1 0 3.1 0M394.09 190.98a1.55 1.55 0 1 0 -3.1 0a1.55 1.55 0 1 0 3.1 0M396.02 139.45a1.55 1.55 0 1 0 -3.1 0a1.55 1.55 0 1 0 3.1 0M396.28 189.30a1.55 1.55 0 1 0 -3.1 0a1.55 1.55 0 1 0 3.1 0M397.41 145.28a1.55 1.55 0 1 0 -3.1 0a1.55 1.55 0 1 0 3.1 0M397.59 197.76a1.55 1.55 0 1 0 -3.1 0a1.55 1.55 0 1 0 3.1 0M398.87 144.77a1.55 1.55 0 1 0 -3.1 0a1.55 1.55 0 1 0 3.1 0M399.84 220.53a1.55 1.55 0 1 0 -3.1 0a1.55 1.55 0 1 0 3.1 0M400.94 152.34a1.55 1.55 0 1 0 -3.1 0a1.55 1.55 0 1 0 3.1 0M400.71 223.23a1.55 1.55 0 1 0 -3.1 0a1.55 1.55 0 1 0 3.1 0M402.48 171.57a1.55 1.55 0 1 0 -3.1 0a1.55 1.55 0 1 0 3.1 0M402.82 223.50a1.55 1.55 0 1 0 -3.1 0a1.55 1.55 0 1 0 3.1 0M404.61 156.23a1.55 1.55 0 1 0 -3.1 0a1.55 1.55 0 1 0 3.1 0M403.69 218.40a1.55 1.55 0 1 0 -3.1 0a1.55 1.55 0 1 0 3.1 0M405.43 153.07a1.55 1.55 0 1 0 -3.1 0a1.55 1.55 0 1 0 3.1 0M405.30 221.10a1.55 1.55 0 1 0 -3.1 0a1.55 1.55 0 1 0 3.1 0M407.72 162.55a1.55 1.55 0 1 0 -3.1 0a1.55 1.55 0 1 0 3.1 0M407.80 223.77a1.55 1.55 0 1 0 -3.1 0a1.55 1.55 0 1 0 3.1 0M408.51 168.78a1.55 1.55 0 1 0 -3.1 0a1.55 1.55 0 1 0 3.1 0M408.85 217.29a1.55 1.55 0 1 0 -3.1 0a1.55 1.55 0 1 0 3.1 0M411.01 166.06a1.55 1.55 0 1 0 -3.1 0a1.55 1.55 0 1 0 3.1 0M410.61 221.30a1.55 1.55 0 1 0 -3.1 0a1.55 1.55 0 1 0 3.1 0M412.61 169.36a1.55 1.55 0 1 0 -3.1 0a1.55 1.55 0 1 0 3.1 0M412.04 219.61a1.55 1.55 0 1 0 -3.1 0a1.55 1.55 0 1 0 3.1 0M413.41 154.73a1.55 1.55 0 1 0 -3.1 0a1.55 1.55 0 1 0 3.1 0M414.24 217.64a1.55 1.55 0 1 0 -3.1 0a1.55 1.55 0 1 0 3.1 0M414.89 149.05a1.55 1.55 0 1 0 -3.1 0a1.55 1.55 0 1 0 3.1 0M415.20 222.93a1.55 1.55 0 1 0 -3.1 0a1.55 1.55 0 1 0 3.1 0M417.35 135.80a1.55 1.55 0 1 0 -3.1 0a1.55 1.55 0 1 0 3.1 0M416.50 221.85a1.55 1.55 0 1 0 -3.1 0a1.55 1.55 0 1 0 3.1 0M418.76 131.57a1.55 1.55 0 1 0 -3.1 0a1.55 1.55 0 1 0 3.1 0M419.04 215.85a1.55 1.55 0 1 0 -3.1 0a1.55 1.55 0 1 0 3.1 0M419.79 140.84a1.55 1.55 0 1 0 -3.1 0a1.55 1.55 0 1 0 3.1 0M420.59 220.66a1.55 1.55 0 1 0 -3.1 0a1.55 1.55 0 1 0 3.1 0M421.55 168.73a1.55 1.55 0 1 0 -3.1 0a1.55 1.55 0 1 0 3.1 0M422.01 215.94a1.55 1.55 0 1 0 -3.1 0a1.55 1.55 0 1 0 3.1 0M423.17 166.06a1.55 1.55 0 1 0 -3.1 0a1.55 1.55 0 1 0 3.1 0M422.97 218.79a1.55 1.55 0 1 0 -3.1 0a1.55 1.55 0 1 0 3.1 0M424.62 146.91a1.55 1.55 0 1 0 -3.1 0a1.55 1.55 0 1 0 3.1 0M424.59 220.21a1.55 1.55 0 1 0 -3.1 0a1.55 1.55 0 1 0 3.1 0M426.06 150.74a1.55 1.55 0 1 0 -3.1 0a1.55 1.55 0 1 0 3.1 0M426.25 214.92a1.55 1.55 0 1 0 -3.1 0a1.55 1.55 0 1 0 3.1 0M428.58 146.76a1.55 1.55 0 1 0 -3.1 0a1.55 1.55 0 1 0 3.1 0M428.58 221.41a1.55 1.55 0 1 0 -3.1 0a1.55 1.55 0 1 0 3.1 0M430.14 152.12a1.55 1.55 0 1 0 -3.1 0a1.55 1.55 0 1 0 3.1 0M429.70 215.10a1.55 1.55 0 1 0 -3.1 0a1.55 1.55 0 1 0 3.1 0M431.78 157.74a1.55 1.55 0 1 0 -3.1 0a1.55 1.55 0 1 0 3.1 0M431.48 217.78a1.55 1.55 0 1 0 -3.1 0a1.55 1.55 0 1 0 3.1 0M432.79 157.58a1.55 1.55 0 1 0 -3.1 0a1.55 1.55 0 1 0 3.1 0M432.93 219.04a1.55 1.55 0 1 0 -3.1 0a1.55 1.55 0 1 0 3.1 0M434.19 154.77a1.55 1.55 0 1 0 -3.1 0a1.55 1.55 0 1 0 3.1 0M434.11 218.71a1.55 1.55 0 1 0 -3.1 0a1.55 1.55 0 1 0 3.1 0M436.20 154.16a1.55 1.55 0 1 0 -3.1 0a1.55 1.55 0 1 0 3.1 0M436.52 215.13a1.55 1.55 0 1 0 -3.1 0a1.55 1.55 0 1 0 3.1 0M437.66 158.97a1.55 1.55 0 1 0 -3.1 0a1.55 1.55 0 1 0 3.1 0M437.52 219.46a1.55 1.55 0 1 0 -3.1 0a1.55 1.55 0 1 0 3.1 0M439.18 150.34a1.55 1.55 0 1 0 -3.1 0a1.55 1.55 0 1 0 3.1 0M439.34 214.71a1.55 1.55 0 1 0 -3.1 0a1.55 1.55 0 1 0 3.1 0M441.35 149.91a1.55 1.55 0 1 0 -3.1 0a1.55 1.55 0 1 0 3.1 0M441.43 212.04a1.55 1.55 0 1 0 -3.1 0a1.55 1.55 0 1 0 3.1 0M442.95 143.35a1.55 1.55 0 1 0 -3.1 0a1.55 1.55 0 1 0 3.1 0M442.26 214.82a1.55 1.55 0 1 0 -3.1 0a1.55 1.55 0 1 0 3.1 0M443.94 139.53a1.55 1.55 0 1 0 -3.1 0a1.55 1.55 0 1 0 3.1 0M443.85 210.81a1.55 1.55 0 1 0 -3.1 0a1.55 1.55 0 1 0 3.1 0M446.24 144.32a1.55 1.55 0 1 0 -3.1 0a1.55 1.55 0 1 0 3.1 0M446.18 202.28a1.55 1.55 0 1 0 -3.1 0a1.55 1.55 0 1 0 3.1 0M447.14 139.17a1.55 1.55 0 1 0 -3.1 0a1.55 1.55 0 1 0 3.1 0M446.91 195.31a1.55 1.55 0 1 0 -3.1 0a1.55 1.55 0 1 0 3.1 0M448.74 129.83a1.55 1.55 0 1 0 -3.1 0a1.55 1.55 0 1 0 3.1 0M448.47 185.57a1.55 1.55 0 1 0 -3.1 0a1.55 1.55 0 1 0 3.1 0M450.39 108.12a1.55 1.55 0 1 0 -3.1 0a1.55 1.55 0 1 0 3.1 0M450.05 183.66a1.55 1.55 0 1 0 -3.1 0a1.55 1.55 0 1 0 3.1 0M452.18 109.49a1.55 1.55 0 1 0 -3.1 0a1.55 1.55 0 1 0 3.1 0M452.09 186.00a1.55 1.55 0 1 0 -3.1 0a1.55 1.55 0 1 0 3.1 0M453.47 114.07a1.55 1.55 0 1 0 -3.1 0a1.55 1.55 0 1 0 3.1 0M453.39 180.14a1.55 1.55 0 1 0 -3.1 0a1.55 1.55 0 1 0 3.1 0M455.62 112.53a1.55 1.55 0 1 0 -3.1 0a1.55 1.55 0 1 0 3.1 0M455.05 180.65a1.55 1.55 0 1 0 -3.1 0a1.55 1.55 0 1 0 3.1 0M456.54 109.37a1.55 1.55 0 1 0 -3.1 0a1.55 1.55 0 1 0 3.1 0M456.95 184.19a1.55 1.55 0 1 0 -3.1 0a1.55 1.55 0 1 0 3.1 0M458.26 109.40a1.55 1.55 0 1 0 -3.1 0a1.55 1.55 0 1 0 3.1 0M458.76 188.49a1.55 1.55 0 1 0 -3.1 0a1.55 1.55 0 1 0 3.1 0M460.23 113.95a1.55 1.55 0 1 0 -3.1 0a1.55 1.55 0 1 0 3.1 0M459.72 190.86a1.55 1.55 0 1 0 -3.1 0a1.55 1.55 0 1 0 3.1 0M461.66 124.55a1.55 1.55 0 1 0 -3.1 0a1.55 1.55 0 1 0 3.1 0M461.31 198.49a1.55 1.55 0 1 0 -3.1 0a1.55 1.55 0 1 0 3.1 0M463.19 137.04a1.55 1.55 0 1 0 -3.1 0a1.55 1.55 0 1 0 3.1 0M463.71 195.94a1.55 1.55 0 1 0 -3.1 0a1.55 1.55 0 1 0 3.1 0M464.47 137.72a1.55 1.55 0 1 0 -3.1 0a1.55 1.55 0 1 0 3.1 0M464.93 201.99a1.55 1.55 0 1 0 -3.1 0a1.55 1.55 0 1 0 3.1 0M466.32 132.49a1.55 1.55 0 1 0 -3.1 0a1.55 1.55 0 1 0 3.1 0M466.88 199.24a1.55 1.55 0 1 0 -3.1 0a1.55 1.55 0 1 0 3.1 0M467.81 134.77a1.55 1.55 0 1 0 -3.1 0a1.55 1.55 0 1 0 3.1 0M468.24 196.34a1.55 1.55 0 1 0 -3.1 0a1.55 1.55 0 1 0 3.1 0M469.77 138.57a1.55 1.55 0 1 0 -3.1 0a1.55 1.55 0 1 0 3.1 0M469.77 194.69a1.55 1.55 0 1 0 -3.1 0a1.55 1.55 0 1 0 3.1 0M471.56 137.73a1.55 1.55 0 1 0 -3.1 0a1.55 1.55 0 1 0 3.1 0M471.72 194.57a1.55 1.55 0 1 0 -3.1 0a1.55 1.55 0 1 0 3.1 0M473.16 120.19a1.55 1.55 0 1 0 -3.1 0a1.55 1.55 0 1 0 3.1 0M473.20 192.49a1.55 1.55 0 1 0 -3.1 0a1.55 1.55 0 1 0 3.1 0M474.92 123.83a1.55 1.55 0 1 0 -3.1 0a1.55 1.55 0 1 0 3.1 0M474.54 196.11a1.55 1.55 0 1 0 -3.1 0a1.55 1.55 0 1 0 3.1 0M476.18 131.96a1.55 1.55 0 1 0 -3.1 0a1.55 1.55 0 1 0 3.1 0M475.67 201.54a1.55 1.55 0 1 0 -3.1 0a1.55 1.55 0 1 0 3.1 0M477.47 136.46a1.55 1.55 0 1 0 -3.1 0a1.55 1.55 0 1 0 3.1 0M477.35 200.67a1.55 1.55 0 1 0 -3.1 0a1.55 1.55 0 1 0 3.1 0M479.67 133.54a1.55 1.55 0 1 0 -3.1 0a1.55 1.55 0 1 0 3.1 0M478.95 209.62a1.55 1.55 0 1 0 -3.1 0a1.55 1.55 0 1 0 3.1 0M480.65 130.44a1.55 1.55 0 1 0 -3.1 0a1.55 1.55 0 1 0 3.1 0M481.05 209.31a1.55 1.55 0 1 0 -3.1 0a1.55 1.55 0 1 0 3.1 0M482.57 135.92a1.55 1.55 0 1 0 -3.1 0a1.55 1.55 0 1 0 3.1 0M482.15 211.66a1.55 1.55 0 1 0 -3.1 0a1.55 1.55 0 1 0 3.1 0M484.37 130.02a1.55 1.55 0 1 0 -3.1 0a1.55 1.55 0 1 0 3.1 0M483.77 208.65a1.55 1.55 0 1 0 -3.1 0a1.55 1.55 0 1 0 3.1 0M485.75 131.74a1.55 1.55 0 1 0 -3.1 0a1.55 1.55 0 1 0 3.1 0M485.37 207.28a1.55 1.55 0 1 0 -3.1 0a1.55 1.55 0 1 0 3.1 0M486.99 134.33a1.55 1.55 0 1 0 -3.1 0a1.55 1.55 0 1 0 3.1 0M487.71 199.85a1.55 1.55 0 1 0 -3.1 0a1.55 1.55 0 1 0 3.1 0M489.02 127.97a1.55 1.55 0 1 0 -3.1 0a1.55 1.55 0 1 0 3.1 0M488.61 197.81a1.55 1.55 0 1 0 -3.1 0a1.55 1.55 0 1 0 3.1 0M490.99 125.11a1.55 1.55 0 1 0 -3.1 0a1.55 1.55 0 1 0 3.1 0M490.47 194.72a1.55 1.55 0 1 0 -3.1 0a1.55 1.55 0 1 0 3.1 0M492.18 118.47a1.55 1.55 0 1 0 -3.1 0a1.55 1.55 0 1 0 3.1 0M492.59 189.66a1.55 1.55 0 1 0 -3.1 0a1.55 1.55 0 1 0 3.1 0M493.59 117.22a1.55 1.55 0 1 0 -3.1 0a1.55 1.55 0 1 0 3.1 0M493.59 183.97a1.55 1.55 0 1 0 -3.1 0a1.55 1.55 0 1 0 3.1 0M495.83 121.74a1.55 1.55 0 1 0 -3.1 0a1.55 1.55 0 1 0 3.1 0M495.76 183.78a1.55 1.55 0 1 0 -3.1 0a1.55 1.55 0 1 0 3.1 0M497.30 117.40a1.55 1.55 0 1 0 -3.1 0a1.55 1.55 0 1 0 3.1 0M496.97 181.66a1.55 1.55 0 1 0 -3.1 0a1.55 1.55 0 1 0 3.1 0M498.98 128.99a1.55 1.55 0 1 0 -3.1 0a1.55 1.55 0 1 0 3.1 0M498.47 179.06a1.55 1.55 0 1 0 -3.1 0a1.55 1.55 0 1 0 3.1 0M500.01 129.27a1.55 1.55 0 1 0 -3.1 0a1.55 1.55 0 1 0 3.1 0M499.72 180.28a1.55 1.55 0 1 0 -3.1 0a1.55 1.55 0 1 0 3.1 0M501.75 123.87a1.55 1.55 0 1 0 -3.1 0a1.55 1.55 0 1 0 3.1 0M501.39 186.46a1.55 1.55 0 1 0 -3.1 0a1.55 1.55 0 1 0 3.1 0M503.63 131.20a1.55 1.55 0 1 0 -3.1 0a1.55 1.55 0 1 0 3.1 0M503.48 185.17a1.55 1.55 0 1 0 -3.1 0a1.55 1.55 0 1 0 3.1 0M505.33 139.08a1.55 1.55 0 1 0 -3.1 0a1.55 1.55 0 1 0 3.1 0M504.48 185.43a1.55 1.55 0 1 0 -3.1 0a1.55 1.55 0 1 0 3.1 0M506.32 137.43a1.55 1.55 0 1 0 -3.1 0a1.55 1.55 0 1 0 3.1 0M506.32 184.64a1.55 1.55 0 1 0 -3.1 0a1.55 1.55 0 1 0 3.1 0M508.57 136.97a1.55 1.55 0 1 0 -3.1 0a1.55 1.55 0 1 0 3.1 0M507.90 184.46a1.55 1.55 0 1 0 -3.1 0a1.55 1.55 0 1 0 3.1 0M509.68 136.27a1.55 1.55 0 1 0 -3.1 0a1.55 1.55 0 1 0 3.1 0M509.54 181.36a1.55 1.55 0 1 0 -3.1 0a1.55 1.55 0 1 0 3.1 0M511.50 116.26a1.55 1.55 0 1 0 -3.1 0a1.55 1.55 0 1 0 3.1 0M511.44 170.45a1.55 1.55 0 1 0 -3.1 0a1.55 1.55 0 1 0 3.1 0M512.96 117.45a1.55 1.55 0 1 0 -3.1 0a1.55 1.55 0 1 0 3.1 0M512.92 163.27a1.55 1.55 0 1 0 -3.1 0a1.55 1.55 0 1 0 3.1 0M514.20 114.69a1.55 1.55 0 1 0 -3.1 0a1.55 1.55 0 1 0 3.1 0M514.18 171.35a1.55 1.55 0 1 0 -3.1 0a1.55 1.55 0 1 0 3.1 0M516.06 116.01a1.55 1.55 0 1 0 -3.1 0a1.55 1.55 0 1 0 3.1 0M515.89 166.50a1.55 1.55 0 1 0 -3.1 0a1.55 1.55 0 1 0 3.1 0M517.80 120.42a1.55 1.55 0 1 0 -3.1 0a1.55 1.55 0 1 0 3.1 0M517.86 166.26a1.55 1.55 0 1 0 -3.1 0a1.55 1.55 0 1 0 3.1 0M519.50 115.31a1.55 1.55 0 1 0 -3.1 0a1.55 1.55 0 1 0 3.1 0M519.56 162.99a1.55 1.55 0 1 0 -3.1 0a1.55 1.55 0 1 0 3.1 0M521.00 118.60a1.55 1.55 0 1 0 -3.1 0a1.55 1.55 0 1 0 3.1 0M520.92 161.48a1.55 1.55 0 1 0 -3.1 0a1.55 1.55 0 1 0 3.1 0M522.29 118.27a1.55 1.55 0 1 0 -3.1 0a1.55 1.55 0 1 0 3.1 0M522.56 181.14a1.55 1.55 0 1 0 -3.1 0a1.55 1.55 0 1 0 3.1 0M524.24 123.58a1.55 1.55 0 1 0 -3.1 0a1.55 1.55 0 1 0 3.1 0M524.00 198.59a1.55 1.55 0 1 0 -3.1 0a1.55 1.55 0 1 0 3.1 0M525.49 129.75a1.55 1.55 0 1 0 -3.1 0a1.55 1.55 0 1 0 3.1 0M525.74 185.28a1.55 1.55 0 1 0 -3.1 0a1.55 1.55 0 1 0 3.1 0M527.84 127.66a1.55 1.55 0 1 0 -3.1 0a1.55 1.55 0 1 0 3.1 0M527.62 184.27a1.55 1.55 0 1 0 -3.1 0a1.55 1.55 0 1 0 3.1 0M528.52 134.34a1.55 1.55 0 1 0 -3.1 0a1.55 1.55 0 1 0 3.1 0M528.89 194.70a1.55 1.55 0 1 0 -3.1 0a1.55 1.55 0 1 0 3.1 0M530.44 133.52a1.55 1.55 0 1 0 -3.1 0a1.55 1.55 0 1 0 3.1 0M530.79 203.87a1.55 1.55 0 1 0 -3.1 0a1.55 1.55 0 1 0 3.1 0M531.88 140.87a1.55 1.55 0 1 0 -3.1 0a1.55 1.55 0 1 0 3.1 0M532.39 204.24a1.55 1.55 0 1 0 -3.1 0a1.55 1.55 0 1 0 3.1 0M533.59 141.82a1.55 1.55 0 1 0 -3.1 0a1.55 1.55 0 1 0 3.1 0M533.93 201.86a1.55 1.55 0 1 0 -3.1 0a1.55 1.55 0 1 0 3.1 0M535.70 145.57a1.55 1.55 0 1 0 -3.1 0a1.55 1.55 0 1 0 3.1 0M535.37 194.31a1.55 1.55 0 1 0 -3.1 0a1.55 1.55 0 1 0 3.1 0M537.19 147.08a1.55 1.55 0 1 0 -3.1 0a1.55 1.55 0 1 0 3.1 0M536.93 182.68a1.55 1.55 0 1 0 -3.1 0a1.55 1.55 0 1 0 3.1 0M538.76 154.65a1.55 1.55 0 1 0 -3.1 0a1.55 1.55 0 1 0 3.1 0M538.18 171.63a1.55 1.55 0 1 0 -3.1 0a1.55 1.55 0 1 0 3.1 0" fill="none" stroke="#2e2e2e" stroke-width="0.95"/>
<path d="M73.00 191.09h1.75V216.90h-1.75ZM74.60 187.41h1.75V218.47h-1.75ZM76.20 189.41h1.15V227.97h-1.15ZM77.20 193.15h2.65V230.84h-2.65ZM79.70 187.58h1.75V230.97h-1.75ZM81.30 178.66h2.65V227.23h-2.65ZM83.80 180.99h1.75V224.98h-1.75ZM85.40 186.44h2.15V222.54h-2.15ZM87.40 185.01h2.15V228.80h-2.15ZM89.40 188.93h1.15V231.76h-1.15ZM90.40 187.04h1.45V244.23h-1.45ZM91.70 183.71h2.15V250.88h-2.15ZM93.70 186.54h0.95V250.06h-0.95ZM94.50 181.77h1.45V240.88h-1.45ZM95.80 185.62h0.95V238.52h-0.95ZM96.60 177.55h1.15V236.70h-1.15ZM97.60 178.53h2.15V232.17h-2.15ZM99.60 170.23h1.45V218.62h-1.45ZM100.90 170.38h2.65V232.75h-2.65ZM103.40 176.84h0.95V219.20h-0.95ZM104.20 179.18h1.75V230.46h-1.75ZM105.80 186.05h1.15V232.27h-1.15ZM106.80 174.78h0.95V229.20h-0.95ZM107.60 172.71h1.75V226.46h-1.75ZM109.20 150.63h1.15V228.27h-1.15ZM110.20 146.88h1.75V229.71h-1.75ZM111.80 139.20h2.15V221.35h-2.15ZM113.80 141.81h2.65V219.58h-2.65ZM116.30 146.71h1.75V219.75h-1.75ZM117.90 155.80h1.15V210.05h-1.15ZM118.90 171.50h2.15V213.65h-2.15ZM120.90 174.30h1.15V212.20h-1.15ZM121.90 179.92h2.15V225.96h-2.15ZM123.90 176.87h1.15V225.56h-1.15ZM124.90 175.44h2.15V225.36h-2.15ZM126.90 171.72h0.95V226.09h-0.95ZM127.70 171.76h2.65V224.30h-2.65ZM130.20 176.39h1.45V230.72h-1.45ZM131.50 179.71h2.15V233.11h-2.15ZM133.50 179.23h1.75V239.72h-1.75ZM135.10 188.71h1.15V240.23h-1.15ZM136.10 184.55h1.15V236.38h-1.15ZM137.10 188.24h2.15V228.87h-2.15ZM139.10 191.90h1.75V239.41h-1.75ZM140.70 188.05h0.95V236.84h-0.95ZM141.50 187.91h1.45V232.53h-1.45ZM142.80 185.27h1.45V227.00h-1.45ZM144.10 182.67h1.75V237.14h-1.75ZM145.70 195.20h2.65V235.71h-2.65ZM148.20 185.24h1.75V226.03h-1.75ZM149.80 182.02h2.15V235.64h-2.15ZM151.80 190.60h1.15V236.63h-1.15ZM152.80 186.79h1.75V236.99h-1.75ZM154.40 185.57h1.15V234.22h-1.15ZM155.40 170.19h1.15V235.53h-1.15ZM156.40 154.63h1.75V225.78h-1.75ZM158.00 150.59h2.65V209.44h-2.65ZM160.50 149.25h2.15V222.75h-2.15ZM162.50 150.74h1.45V204.87h-1.45ZM163.80 152.76h0.95V221.97h-0.95ZM164.60 167.35h0.95V221.07h-0.95ZM165.40 162.02h0.95V218.56h-0.95ZM166.20 166.58h2.65V211.01h-2.65ZM168.70 182.82h2.65V227.87h-2.65ZM171.20 183.84h1.45V222.57h-1.45ZM172.50 190.65h0.95V223.35h-0.95ZM173.30 190.15h0.95V220.14h-0.95ZM174.10 186.42h2.15V218.95h-2.15ZM176.10 184.83h0.95V216.48h-0.95ZM176.90 180.04h2.65V211.72h-2.65ZM179.40 183.60h1.75V211.31h-1.75ZM181.00 182.00h2.65V212.89h-2.65ZM183.50 187.89h1.75V222.68h-1.75ZM185.10 186.00h2.15V220.02h-2.15ZM187.10 186.00h1.75V214.14h-1.75ZM188.70 187.66h0.95V219.88h-0.95ZM189.50 182.45h1.75V222.70h-1.75ZM191.10 163.37h1.45V218.18h-1.45ZM192.40 150.03h2.15V207.81h-2.15ZM194.40 152.46h2.65V222.09h-2.65ZM196.90 150.19h1.15V222.65h-1.15ZM197.90 151.04h1.15V220.67h-1.15ZM198.90 155.87h1.15V234.21h-1.15ZM199.90 181.61h2.15V240.20h-2.15ZM201.90 175.54h1.15V240.47h-1.15ZM202.90 182.41h0.95V239.51h-0.95ZM203.70 184.97h1.45V237.59h-1.45ZM205.00 175.57h1.75V229.50h-1.75ZM206.60 176.11h1.75V219.75h-1.75ZM208.20 175.69h2.65V214.70h-2.65ZM210.70 176.65h2.15V221.04h-2.15ZM212.70 175.12h0.95V214.78h-0.95ZM213.50 174.44h2.65V215.34h-2.65ZM216.00 167.95h1.45V215.52h-1.45ZM217.30 163.10h2.65V216.97h-2.65ZM219.80 170.31h0.95V216.68h-0.95ZM220.60 170.80h1.15V202.71h-1.15ZM221.60 164.81h0.95V211.05h-0.95ZM222.40 167.36h2.65V213.13h-2.65ZM224.90 171.97h0.95V211.20h-0.95ZM225.70 170.34h1.75V205.52h-1.75ZM227.30 171.72h1.75V210.10h-1.75ZM228.90 163.59h1.15V210.52h-1.15ZM229.90 158.61h2.65V210.12h-2.65ZM232.40 156.91h1.15V204.57h-1.15ZM233.40 157.83h1.15V200.53h-1.15ZM234.40 161.21h2.65V210.17h-2.65ZM236.90 164.28h1.15V202.23h-1.15ZM237.90 163.32h1.75V211.76h-1.75ZM239.50 168.50h2.15V204.70h-2.15ZM241.50 149.27h1.75V199.66h-1.75ZM243.10 148.75h0.95V204.03h-0.95ZM243.90 156.10h2.65V215.29h-2.65ZM246.40 149.65h1.15V192.24h-1.15ZM247.40 136.06h1.45V199.53h-1.45ZM248.70 132.42h1.45V201.99h-1.45ZM250.00 133.18h0.95V211.16h-0.95ZM250.80 131.91h1.75V209.40h-1.75ZM252.40 132.23h1.45V213.57h-1.45ZM253.70 133.59h0.95V215.30h-0.95ZM254.50 147.92h2.15V208.43h-2.15ZM256.50 149.63h1.15V201.69h-1.15ZM257.50 170.50h2.65V234.00h-2.65ZM260.00 185.15h1.75V236.56h-1.75ZM261.60 181.03h2.65V234.68h-2.65ZM264.10 184.24h2.15V225.70h-2.15ZM266.10 185.50h2.15V231.28h-2.15ZM268.10 181.45h2.15V227.92h-2.15ZM270.10 181.26h2.15V222.24h-2.15ZM272.10 183.56h2.15V227.35h-2.15ZM274.10 182.41h1.15V230.94h-1.15ZM275.10 184.70h0.95V231.00h-0.95ZM275.90 183.49h0.95V229.68h-0.95ZM276.70 181.07h2.15V230.97h-2.15ZM278.70 181.01h1.15V228.23h-1.15ZM279.70 191.58h1.75V223.55h-1.75ZM281.30 185.49h1.75V232.85h-1.75ZM282.90 185.84h1.15V223.31h-1.15ZM283.90 187.40h1.75V231.25h-1.75ZM285.50 188.15h1.75V220.17h-1.75ZM287.10 187.96h1.15V217.86h-1.15ZM288.10 182.08h0.95V228.45h-0.95ZM288.90 179.69h2.65V222.44h-2.65ZM291.40 173.82h1.15V229.37h-1.15ZM292.40 159.74h2.65V228.86h-2.65ZM294.90 155.95h2.15V230.95h-2.15ZM296.90 167.40h2.15V217.41h-2.15ZM298.90 161.83h2.65V208.60h-2.65ZM301.40 167.52h1.15V205.77h-1.15ZM302.40 169.63h2.15V216.79h-2.15ZM304.40 169.31h2.15V211.68h-2.15ZM306.40 176.80h1.15V217.09h-1.15ZM307.40 176.49h1.45V221.25h-1.45ZM308.70 178.07h1.45V232.10h-1.45ZM310.00 178.18h1.15V233.28h-1.15ZM311.00 165.11h1.15V229.11h-1.15ZM312.00 165.05h1.75V215.15h-1.75ZM313.60 168.39h1.75V218.49h-1.75ZM315.20 166.61h1.15V218.94h-1.15ZM316.20 163.55h0.95V221.08h-0.95ZM317.00 174.10h1.45V209.61h-1.45ZM318.30 167.05h0.95V224.19h-0.95ZM319.10 163.03h1.45V224.01h-1.45ZM320.40 168.41h1.15V213.65h-1.15ZM321.40 155.00h0.95V209.97h-0.95ZM322.20 149.43h2.15V208.35h-2.15ZM324.20 147.54h1.15V210.69h-1.15ZM325.20 163.61h1.15V197.34h-1.15ZM326.20 151.73h0.95V210.89h-0.95ZM327.00 149.90h2.65V202.56h-2.65ZM329.50 149.08h1.45V209.04h-1.45ZM330.80 149.51h1.45V206.48h-1.45ZM332.10 152.82h0.95V211.37h-0.95ZM332.90 147.73h1.15V209.29h-1.15ZM333.90 150.39h2.65V198.41h-2.65ZM336.40 153.67h2.15V208.85h-2.15ZM338.40 153.91h0.95V211.39h-0.95ZM339.20 161.38h2.65V198.51h-2.65ZM341.70 152.71h1.75V210.74h-1.75ZM343.30 160.94h2.15V200.93h-2.15ZM345.30 141.52h1.45V210.92h-1.45ZM346.60 149.98h2.65V200.71h-2.65ZM349.10 140.13h1.75V213.63h-1.75ZM350.70 151.72h2.15V206.10h-2.15ZM352.70 149.85h1.15V214.63h-1.15ZM353.70 159.68h0.95V215.43h-0.95ZM354.50 150.00h0.95V212.39h-0.95ZM355.30 159.90h2.65V208.24h-2.65ZM357.80 158.22h1.45V198.09h-1.45ZM359.10 145.32h1.45V200.32h-1.45ZM360.40 147.98h1.15V198.79h-1.15ZM361.40 147.24h1.75V191.79h-1.75ZM363.00 156.15h1.75V197.70h-1.75ZM364.60 141.40h2.15V197.30h-2.15ZM366.60 139.45h1.75V197.69h-1.75ZM368.20 141.98h1.15V196.75h-1.15ZM369.20 137.18h1.45V183.33h-1.45ZM370.50 131.52h2.15V184.33h-2.15ZM372.50 131.95h2.15V171.18h-2.15ZM374.50 130.39h2.65V184.19h-2.65ZM377.00 133.09h2.15V186.29h-2.15ZM379.00 135.29h0.95V181.42h-0.95ZM379.80 138.30h1.75V194.82h-1.75ZM381.40 139.98h1.75V190.83h-1.75ZM383.00 146.81h1.75V193.14h-1.75ZM384.60 128.55h2.15V192.01h-2.15ZM386.60 135.63h2.15V186.33h-2.15ZM388.60 150.90h2.15V185.64h-2.15ZM390.60 139.40h2.65V190.00h-2.65ZM393.10 142.11h1.15V185.74h-1.15ZM394.10 146.34h1.75V188.76h-1.75ZM395.70 142.90h1.45V195.94h-1.45ZM397.00 163.97h2.65V224.00h-2.65ZM399.50 152.33h1.15V223.55h-1.15ZM400.50 165.01h1.15V223.94h-1.15ZM401.50 177.06h2.65V223.66h-2.65ZM404.00 169.31h1.15V223.54h-1.15ZM405.00 166.71h2.15V223.40h-2.15ZM407.00 166.15h0.95V223.19h-0.95ZM407.80 166.98h1.45V217.71h-1.45ZM409.10 169.23h1.75V218.15h-1.75ZM410.70 166.72h2.65V214.86h-2.65ZM413.20 174.00h2.15V222.57h-2.15ZM415.20 171.91h1.45V222.10h-1.45ZM416.50 167.68h0.95V221.62h-0.95ZM417.30 169.60h2.15V221.13h-2.15ZM419.30 169.31h1.45V215.47h-1.45ZM420.60 168.99h2.65V217.21h-2.65ZM423.10 165.23h1.15V221.31h-1.15ZM424.10 176.81h2.65V210.94h-2.65ZM426.60 169.59h0.95V221.44h-0.95ZM427.40 166.73h1.45V216.84h-1.45ZM428.70 165.34h0.95V220.63h-0.95ZM429.50 176.63h0.95V221.00h-0.95ZM430.30 169.61h1.15V219.83h-1.15ZM431.30 154.19h1.75V218.86h-1.75ZM432.90 155.23h1.75V208.95h-1.75ZM434.50 163.89h0.95V217.70h-0.95ZM435.30 168.77h2.15V211.46h-2.15ZM437.30 157.22h1.75V218.49h-1.75ZM438.90 154.32h1.15V212.68h-1.15ZM439.90 151.25h2.15V217.45h-2.15ZM441.90 151.77h2.65V212.93h-2.65ZM444.40 137.21h2.65V197.58h-2.65ZM446.90 131.15h1.45V185.13h-1.45ZM448.20 133.43h2.15V175.86h-2.15ZM450.20 130.71h1.75V178.03h-1.75ZM451.80 130.78h0.95V174.24h-0.95ZM452.60 130.03h2.15V185.94h-2.15ZM454.60 137.83h2.65V188.06h-2.65ZM457.10 130.34h1.15V183.63h-1.15ZM458.10 133.16h1.45V192.68h-1.45ZM459.40 137.15h2.65V194.46h-2.65ZM461.90 148.78h2.65V199.28h-2.65ZM464.40 137.86h1.45V202.89h-1.45ZM465.70 149.24h2.65V202.76h-2.65ZM468.20 146.29h1.45V199.32h-1.45ZM469.50 137.04h2.65V197.45h-2.65ZM472.00 143.03h1.15V197.64h-1.15ZM473.00 139.42h1.75V188.50h-1.75ZM474.60 136.23h2.15V203.76h-2.15ZM476.60 149.95h1.75V208.88h-1.75ZM478.20 136.45h0.95V211.68h-0.95ZM479.00 140.77h1.15V193.63h-1.15ZM480.00 148.79h2.65V209.41h-2.65ZM482.50 140.35h2.15V210.07h-2.15ZM484.50 134.57h0.95V207.92h-0.95ZM485.30 145.87h0.95V205.96h-0.95ZM486.10 129.76h2.65V198.24h-2.65ZM488.60 120.84h2.65V184.17h-2.65ZM491.10 117.73h1.75V184.37h-1.75ZM492.70 116.56h1.75V183.73h-1.75ZM494.30 122.61h1.45V178.85h-1.45ZM495.60 136.01h2.15V180.98h-2.15ZM497.60 138.05h2.15V182.20h-2.15ZM499.60 125.84h2.65V185.70h-2.65ZM502.10 141.24h1.75V176.50h-1.75ZM503.70 137.63h2.15V184.50h-2.15ZM505.70 133.00h2.65V187.29h-2.65ZM508.20 141.47h1.75V184.94h-1.75ZM509.80 134.27h1.15V165.04h-1.15ZM510.80 119.03h1.15V164.83h-1.15ZM511.80 114.80h2.15V154.86h-2.15ZM513.80 116.89h0.95V163.35h-0.95ZM514.60 119.50h1.45V161.84h-1.45ZM515.90 125.80h1.15V161.53h-1.15ZM516.90 118.25h0.95V156.32h-0.95ZM517.70 115.43h0.95V165.77h-0.95ZM518.50 114.99h1.45V165.64h-1.45ZM519.80 120.43h2.65V185.94h-2.65ZM522.30 126.57h1.75V197.71h-1.75ZM523.90 139.41h1.15V175.91h-1.15ZM524.90 130.26h2.65V181.05h-2.65ZM527.40 143.21h1.75V207.10h-1.75ZM529.00 148.68h1.75V209.79h-1.75ZM530.60 147.38h2.15V206.99h-2.15ZM532.60 141.55h1.15V199.08h-1.15ZM533.60 148.04h1.15V192.51h-1.15ZM534.60 148.50h2.15V175.44h-2.15ZM536.60 150.46h0.95V171.50h-0.95ZM537.40 153.71h0.95V165.95h-0.95Z" fill="#55C5BF" shape-rendering="auto"/>
<path d="M73.00 162.35h1.15V204.48h-1.15ZM74.00 162.17h1.75V207.94h-1.75ZM75.60 174.30h2.65V208.04h-2.65ZM78.10 168.35h0.95V207.81h-0.95ZM78.90 179.48h1.45V221.20h-1.45ZM80.20 174.78h2.15V212.63h-2.15ZM82.20 186.58h2.65V220.80h-2.65ZM84.70 181.96h0.95V222.38h-0.95ZM85.50 178.16h1.15V222.95h-1.15ZM86.50 188.14h2.15V217.48h-2.15ZM88.50 178.00h2.15V224.75h-2.15ZM90.50 184.52h1.45V218.78h-1.45ZM91.80 201.49h1.45V224.91h-1.45ZM93.10 199.70h2.65V231.96h-2.65ZM95.60 196.45h1.45V229.36h-1.45ZM96.90 189.79h0.95V219.96h-0.95ZM97.70 196.33h1.75V224.21h-1.75ZM99.30 197.62h2.15V222.04h-2.15ZM101.30 190.63h1.15V221.39h-1.15ZM102.30 190.65h2.15V219.34h-2.15ZM104.30 189.02h2.15V219.91h-2.15ZM106.30 192.95h2.65V223.64h-2.65ZM108.80 191.41h0.95V225.09h-0.95ZM109.60 187.96h1.75V249.00h-1.75ZM111.20 181.46h1.15V248.72h-1.15ZM112.20 157.89h0.95V228.18h-0.95ZM113.00 158.07h0.95V222.25h-0.95ZM113.80 159.34h1.45V212.37h-1.45ZM115.10 168.00h1.75V212.06h-1.75ZM116.70 182.90h2.65V215.16h-2.65ZM119.20 178.01h0.95V218.62h-0.95ZM120.00 189.94h1.15V220.48h-1.15ZM121.00 189.08h0.95V223.62h-0.95ZM121.80 181.57h2.15V219.77h-2.15ZM123.80 178.27h1.75V222.99h-1.75ZM125.40 201.13h2.65V222.07h-2.65ZM127.90 202.26h2.15V230.96h-2.15ZM129.90 203.79h1.15V230.08h-1.15ZM130.90 203.58h1.45V234.45h-1.45ZM132.20 205.93h2.15V239.46h-2.15ZM134.20 205.75h0.95V240.59h-0.95ZM135.00 206.04h2.65V240.39h-2.65ZM137.50 207.37h1.45V239.47h-1.45ZM138.80 205.72h0.95V235.80h-0.95ZM139.60 206.91h1.75V228.75h-1.75ZM141.20 206.64h0.95V215.69h-0.95ZM142.00 205.00h1.15V214.77h-1.15ZM143.00 205.00h2.15V214.95h-2.15ZM145.00 205.53h1.75V211.40h-1.75ZM146.60 205.68h2.65V210.77h-2.65ZM149.10 206.16h1.15V210.99h-1.15ZM150.10 204.46h0.95V210.94h-0.95ZM150.90 187.14h1.15V209.77h-1.15ZM151.90 166.00h0.95V215.17h-0.95ZM152.70 166.00h1.45V226.46h-1.45ZM154.00 171.30h0.95V232.73h-0.95ZM154.80 180.84h1.15V229.67h-1.15ZM155.80 188.89h2.65V220.19h-2.65ZM158.30 192.77h1.15V220.94h-1.15ZM159.30 188.00h2.65V217.92h-2.65ZM161.80 185.40h2.65V209.49h-2.65ZM164.30 186.20h2.15V215.94h-2.15ZM166.30 189.84h2.15V220.32h-2.15ZM168.30 189.48h2.15V215.46h-2.15ZM170.30 189.24h2.15V214.19h-2.15ZM172.30 187.42h1.15V212.86h-1.15ZM173.30 166.13h1.75V204.20h-1.75ZM174.90 166.17h0.95V208.15h-0.95ZM175.70 167.91h1.15V210.58h-1.15ZM176.70 172.57h1.75V204.99h-1.75ZM178.30 179.94h2.15V204.92h-2.15ZM180.30 174.69h2.15V208.95h-2.15ZM182.30 175.59h0.95V201.09h-0.95ZM183.10 172.78h0.95V195.37h-0.95ZM183.90 172.60h0.95V187.51h-0.95ZM184.70 162.23h0.95V185.18h-0.95ZM185.50 135.47h1.45V186.46h-1.45ZM186.80 135.75h1.75V207.99h-1.75ZM188.40 142.18h2.15V212.36h-2.15ZM190.40 151.71h2.65V217.74h-2.65ZM192.90 157.88h2.15V219.85h-2.15ZM194.90 156.27h1.45V222.60h-1.45ZM196.20 175.14h0.95V226.46h-0.95ZM197.00 177.47h0.95V231.62h-0.95ZM197.80 178.24h1.75V222.27h-1.75ZM199.40 175.77h1.15V240.51h-1.15ZM200.40 173.23h1.45V242.72h-1.45ZM201.70 179.02h1.15V241.09h-1.15ZM202.70 189.80h1.45V241.23h-1.45ZM204.00 179.64h1.45V236.35h-1.45ZM205.30 181.26h1.15V216.68h-1.15ZM206.30 172.59h2.15V219.34h-2.15ZM208.30 178.95h1.15V216.55h-1.15ZM209.30 172.40h1.75V215.87h-1.75ZM210.90 171.71h1.75V212.82h-1.75ZM212.50 167.27h1.75V205.05h-1.75ZM214.10 156.95h1.75V206.10h-1.75ZM215.70 173.96h1.75V203.05h-1.75ZM217.30 166.01h2.65V208.50h-2.65ZM219.80 163.30h2.65V207.98h-2.65ZM222.30 170.79h1.15V202.25h-1.15ZM223.30 163.30h0.95V206.21h-0.95ZM224.10 164.77h2.65V207.94h-2.65ZM226.60 166.90h1.15V207.42h-1.15ZM227.60 165.10h1.15V207.79h-1.15ZM228.60 153.51h1.45V206.05h-1.45ZM229.90 157.25h2.65V201.75h-2.65ZM232.40 163.11h1.75V197.85h-1.75ZM234.00 170.84h1.45V217.66h-1.45ZM235.30 163.64h1.15V217.27h-1.15ZM236.30 152.47h2.65V216.65h-2.65ZM238.80 141.73h1.15V206.31h-1.15ZM239.80 139.80h1.75V204.51h-1.75ZM241.40 138.98h0.95V205.56h-0.95ZM242.20 154.94h1.75V193.80h-1.75ZM243.80 163.00h1.15V198.37h-1.15ZM244.80 174.97h1.45V196.08h-1.45ZM246.10 188.69h2.65V193.61h-2.65ZM248.60 190.01h1.75V196.94h-1.75ZM250.20 191.16h2.65V199.45h-2.65ZM252.70 190.44h1.15V201.01h-1.15ZM253.70 188.47h1.15V206.95h-1.15ZM254.70 170.02h2.15V221.99h-2.15ZM256.70 170.01h1.45V223.38h-1.45ZM258.00 170.00h2.65V229.58h-2.65ZM260.50 172.61h1.45V228.95h-1.45ZM261.80 189.59h1.45V222.15h-1.45ZM263.10 194.64h1.15V218.50h-1.15ZM264.10 190.00h2.65V221.96h-2.65ZM266.60 190.00h0.95V219.35h-0.95ZM267.40 192.44h1.75V219.69h-1.75ZM269.00 194.26h1.75V221.78h-1.75ZM270.60 191.68h1.75V220.05h-1.75ZM272.20 193.83h2.15V221.94h-2.15ZM274.20 198.53h1.45V220.95h-1.45ZM275.50 195.18h0.95V221.24h-0.95ZM276.30 192.31h1.15V218.72h-1.15ZM277.30 191.53h0.95V223.88h-0.95ZM278.10 190.74h0.95V226.25h-0.95ZM278.90 190.96h1.75V228.79h-1.75ZM280.50 189.18h2.15V232.31h-2.15ZM282.50 197.53h1.45V233.23h-1.45ZM283.80 190.50h1.75V230.69h-1.75ZM285.40 180.23h1.15V229.95h-1.15ZM286.40 191.36h0.95V230.18h-0.95ZM287.20 184.88h1.75V223.26h-1.75ZM288.80 175.37h2.65V221.13h-2.65ZM291.30 174.38h1.45V219.02h-1.45ZM292.60 170.99h0.95V205.45h-0.95ZM293.40 168.19h1.15V214.08h-1.15ZM294.40 172.46h0.95V207.77h-0.95ZM295.20 167.09h1.45V214.07h-1.45ZM296.50 158.65h1.75V202.32h-1.75ZM298.10 153.34h1.75V211.34h-1.75ZM299.70 154.89h2.65V200.09h-2.65ZM302.20 155.07h1.75V207.98h-1.75ZM303.80 159.64h0.95V195.75h-0.95ZM304.60 156.35h1.75V207.54h-1.75ZM306.20 164.04h1.15V205.00h-1.15ZM307.20 158.39h2.65V203.23h-2.65ZM309.70 157.37h1.45V208.21h-1.45ZM311.00 171.20h1.45V198.16h-1.45ZM312.30 160.94h2.65V203.03h-2.65ZM314.80 162.39h1.45V203.57h-1.45ZM316.10 151.51h2.65V197.81h-2.65ZM318.60 155.13h1.15V210.90h-1.15ZM319.60 151.01h1.45V196.78h-1.45ZM320.90 149.76h2.65V210.99h-2.65ZM323.40 158.67h1.75V210.24h-1.75ZM325.00 150.12h0.95V201.98h-0.95ZM325.80 155.77h0.95V209.02h-0.95ZM326.60 155.56h2.65V205.08h-2.65ZM329.10 152.91h1.75V202.16h-1.75ZM330.70 159.42h2.15V209.46h-2.15ZM332.70 151.71h1.45V209.85h-1.45ZM334.00 159.18h0.95V207.64h-0.95ZM334.80 154.38h2.15V207.02h-2.15ZM336.80 157.62h1.15V207.88h-1.15ZM337.80 149.09h2.65V203.80h-2.65ZM340.30 139.20h2.65V188.48h-2.65ZM342.80 134.37h2.15V184.75h-2.15ZM344.80 119.66h1.75V178.74h-1.75ZM346.40 119.21h1.45V178.33h-1.45ZM347.70 133.83h1.45V180.61h-1.45ZM349.00 135.04h1.15V188.99h-1.15ZM350.00 145.43h2.15V192.69h-2.15ZM352.00 157.19h1.75V193.95h-1.75ZM353.60 163.93h1.45V186.02h-1.45ZM354.90 162.28h1.45V183.40h-1.45ZM356.20 157.82h1.45V186.23h-1.45ZM357.50 159.88h1.45V180.99h-1.45ZM358.80 153.70h1.75V185.89h-1.75ZM360.40 149.52h2.65V184.80h-2.65ZM362.90 153.34h1.15V184.05h-1.15ZM363.90 150.53h1.75V178.49h-1.75ZM365.50 153.97h1.75V191.02h-1.75ZM367.10 144.38h2.15V197.40h-2.15ZM369.10 142.78h1.45V197.69h-1.45ZM370.40 150.60h1.45V181.51h-1.45ZM371.70 156.96h2.15V180.13h-2.15ZM373.70 160.05h1.45V183.12h-1.45ZM375.00 146.72h2.15V193.80h-2.15ZM377.00 147.20h1.15V193.84h-1.15ZM378.00 153.85h0.95V183.45h-0.95ZM378.80 160.46h2.65V193.96h-2.65ZM381.30 160.49h0.95V193.30h-0.95ZM382.10 164.29h2.65V186.45h-2.65ZM384.60 161.32h1.75V190.64h-1.75ZM386.20 158.00h1.75V190.73h-1.75ZM387.80 159.28h1.45V191.00h-1.45ZM389.10 165.79h1.15V188.58h-1.15ZM390.10 159.46h0.95V186.50h-0.95ZM390.90 158.00h0.95V181.21h-0.95ZM391.70 164.10h1.75V180.07h-1.75ZM393.30 160.55h2.15V182.52h-2.15ZM395.30 160.57h1.15V192.92h-1.15ZM396.30 160.98h0.95V206.44h-0.95ZM397.10 161.78h1.75V212.24h-1.75ZM398.70 171.51h2.65V219.46h-2.65ZM401.20 159.36h2.65V219.72h-2.65ZM403.70 153.43h2.15V218.98h-2.15ZM405.70 175.32h2.65V219.84h-2.65ZM408.20 175.53h1.45V222.53h-1.45ZM409.50 182.22h1.45V220.15h-1.45ZM410.80 149.75h1.45V221.60h-1.45ZM412.10 149.87h2.15V218.63h-2.15ZM414.10 138.41h1.45V212.70h-1.45ZM415.40 128.60h1.45V203.36h-1.45ZM416.70 130.04h2.65V204.25h-2.65ZM419.20 177.36h1.15V211.69h-1.15ZM420.20 171.21h2.65V211.96h-2.65ZM422.70 146.75h0.95V215.59h-0.95ZM423.50 146.37h2.15V216.67h-2.15ZM425.50 146.03h0.95V204.89h-0.95ZM426.30 146.08h0.95V215.45h-0.95ZM427.10 159.62h2.15V215.29h-2.15ZM429.10 152.05h1.45V220.00h-1.45ZM430.40 167.53h1.45V219.33h-1.45ZM431.70 172.09h0.95V205.01h-0.95ZM432.50 160.52h2.15V210.42h-2.15ZM434.50 172.56h2.15V209.24h-2.15ZM436.50 158.32h1.15V207.51h-1.15ZM437.50 151.28h0.95V204.47h-0.95ZM438.30 160.12h0.95V201.26h-0.95ZM439.10 156.17h1.75V201.34h-1.75ZM440.70 146.21h1.45V190.13h-1.45ZM442.00 144.31h1.45V190.31h-1.45ZM443.30 136.25h2.65V181.76h-2.65ZM445.80 136.33h2.15V157.58h-2.15ZM447.80 108.04h2.15V160.05h-2.15ZM449.80 108.67h0.95V159.67h-0.95ZM450.60 111.84h2.15V150.63h-2.15ZM452.60 118.00h1.75V153.33h-1.75ZM454.20 105.80h0.95V152.20h-0.95ZM455.00 105.72h2.65V156.53h-2.65ZM457.50 109.91h1.15V162.07h-1.15ZM458.50 126.76h2.65V164.57h-2.65ZM461.00 134.59h1.15V156.01h-1.15ZM462.00 134.05h2.65V155.86h-2.65ZM464.50 133.36h1.75V156.52h-1.75ZM466.10 139.50h0.95V163.49h-0.95ZM466.90 141.07h2.15V166.77h-2.15ZM468.90 137.46h0.95V168.79h-0.95ZM469.70 124.94h2.15V168.78h-2.15ZM471.70 117.45h2.15V167.13h-2.15ZM473.70 122.33h1.15V168.68h-1.15ZM474.70 140.12h1.45V168.86h-1.45ZM476.00 143.53h1.15V172.69h-1.15ZM477.00 134.68h1.45V171.65h-1.45ZM478.30 131.80h1.15V174.02h-1.15ZM479.30 133.87h2.65V175.75h-2.65ZM481.80 131.97h0.95V179.60h-0.95ZM482.60 131.47h1.75V179.87h-1.75ZM484.20 132.32h2.15V183.59h-2.15ZM486.20 139.39h2.15V190.40h-2.15ZM488.20 133.20h2.65V190.30h-2.65ZM490.70 138.84h2.15V180.07h-2.15ZM492.70 136.38h2.65V177.26h-2.65ZM495.20 146.38h1.75V166.27h-1.75ZM496.80 137.62h0.95V171.83h-0.95ZM497.60 137.92h1.45V176.08h-1.45ZM498.90 145.87h2.15V175.47h-2.15ZM500.90 146.01h0.95V172.96h-0.95ZM501.70 140.17h1.15V179.10h-1.15ZM502.70 137.90h0.95V179.30h-0.95ZM503.50 133.00h1.45V177.55h-1.45ZM504.80 137.03h2.65V182.48h-2.65ZM507.30 131.94h2.65V177.14h-2.65ZM509.80 117.24h2.15V157.67h-2.15ZM511.80 121.57h1.15V168.58h-1.15ZM512.80 131.04h0.95V175.60h-0.95ZM513.60 141.57h0.95V172.88h-0.95ZM514.40 135.01h2.15V170.53h-2.15ZM516.40 136.91h1.75V163.11h-1.75ZM518.00 140.13h2.65V160.58h-2.65ZM520.50 134.28h1.15V157.65h-1.15ZM521.50 135.12h1.15V164.47h-1.15ZM522.50 136.36h1.75V161.19h-1.75ZM524.10 129.85h0.95V169.00h-0.95ZM524.90 127.97h2.65V168.86h-2.65ZM527.40 132.08h0.95V166.28h-0.95ZM528.20 132.51h2.65V178.62h-2.65ZM530.70 140.47h2.65V179.75h-2.65ZM533.20 145.21h2.65V180.43h-2.65ZM535.70 153.57h0.95V174.60h-0.95ZM536.50 151.40h0.95V168.99h-0.95ZM537.30 155.24h1.45V165.37h-1.45Z" fill="#A3222E" shape-rendering="auto"/>
<path d="M73.30 192.25 L74.15 195.30 L75.00 197.47 L75.85 200.62 L76.70 202.59 L77.60 205.11 L78.50 206.71 L80.00 208.50 L80.83 207.45 L81.67 206.94 L82.50 205.88 L83.33 206.38 L84.17 206.87 L85.00 207.14 L85.85 208.06 L86.70 209.03 L87.53 212.22 L88.37 215.00 L89.20 218.25 L90.03 221.02 L90.87 223.73 L91.70 225.89 L92.53 226.81 L93.37 227.98 L94.20 228.92 L95.03 227.49 L95.87 225.41 L96.70 223.37 L97.53 219.06 L98.37 215.76 L99.20 211.74 L100.80 203.05 L101.70 198.49 L103.30 200.12 L104.15 202.34 L105.00 203.95 L105.83 206.21 L106.67 207.17 L107.50 207.37 L108.50 199.19 L109.20 184.31 L110.03 181.59 L110.87 178.20 L111.70 175.09 L112.70 171.14 L113.70 166.73 L114.75 170.34 L115.80 174.01 L116.65 180.85 L117.50 187.03 L118.35 190.94 L119.20 195.23 L120.03 196.72 L120.87 198.03 L121.70 199.86 L122.50 201.65 L123.33 201.52 L124.17 201.10 L125.00 200.96 L125.83 200.80 L126.65 199.91 L127.48 200.19 L128.30 200.01 L129.15 200.97 L130.00 201.39 L130.83 202.49 L131.67 203.83 L132.50 204.91 L133.65 207.00 L134.80 208.66 L135.90 212.22 L137.00 215.59 L137.88 215.97 L138.75 216.18 L139.88 215.27 L141.00 214.56 L142.15 212.64 L143.30 210.80 L144.40 207.02 L145.60 206.07 L146.45 206.52 L147.30 208.31 L148.15 209.80 L149.00 212.10 L150.12 212.64 L151.25 213.06 L152.38 213.55 L153.50 214.19 L154.35 214.13 L155.20 213.16 L156.10 211.15 L157.00 208.20 L158.00 203.02 L159.20 199.75 L160.00 190.40 L160.80 181.55 L162.30 176.76 L163.30 175.43 L164.50 181.19 L166.00 189.50 L167.50 195.42 L169.10 201.75 L170.25 202.91 L171.40 203.87 L172.25 205.19 L173.10 206.22 L174.20 205.57 L175.30 202.61 L176.45 201.99 L177.60 201.10 L178.75 198.84 L179.88 196.70 L181.00 194.22 L182.15 192.66 L183.30 190.45 L184.40 191.83 L185.60 189.92 L186.45 191.45 L187.30 192.56 L188.15 193.84 L189.00 194.61 L189.85 193.22 L190.70 192.09 L191.55 190.51 L192.40 188.90 L194.00 184.31 L194.85 182.47 L195.70 180.79 L196.50 183.00 L197.30 185.31 L198.13 188.59 L198.97 191.18 L199.80 194.29 L200.63 196.68 L201.47 200.51 L202.30 203.89 L203.15 205.28 L204.00 205.23 L204.83 203.16 L205.67 201.80 L206.50 200.53 L207.33 199.52 L208.17 197.59 L209.00 195.99 L209.83 196.57 L210.67 197.54 L211.50 197.72 L212.33 196.49 L213.17 195.42 L214.00 195.00 L214.82 195.81 L215.65 196.38 L216.48 197.23 L217.30 197.13 L218.13 195.37 L218.97 193.47 L219.80 192.74 L220.65 191.72 L221.50 190.34 L222.35 188.77 L223.20 187.78 L224.02 187.25 L224.85 186.47 L225.68 185.06 L226.50 184.34 L227.33 183.30 L228.17 183.14 L229.00 182.50 L229.82 182.97 L230.65 183.16 L231.48 182.65 L232.30 181.76 L233.13 182.80 L233.97 184.21 L234.80 184.75 L235.63 185.32 L236.47 185.20 L237.30 185.46 L238.13 186.05 L238.97 187.81 L239.80 190.04 L240.65 190.00 L241.50 189.18 L242.35 186.86 L243.20 184.45 L244.00 182.46 L244.80 180.35 L245.70 174.87 L246.53 170.60 L247.37 166.73 L248.20 162.48 L249.00 160.85 L249.80 159.00 L250.65 158.56 L251.50 158.16 L252.33 158.97 L253.17 159.58 L254.00 159.80 L254.85 159.38 L255.70 159.04 L256.50 166.14 L257.30 172.18 L257.60 185.32 L258.20 197.36 L259.00 205.76 L259.85 205.98 L260.70 206.24 L261.53 206.96 L262.37 207.82 L263.20 208.62 L264.03 209.61 L264.87 209.98 L265.70 210.85 L266.50 209.62 L267.30 208.80 L268.13 208.25 L268.97 208.67 L269.80 208.70 L270.63 207.52 L271.47 205.69 L272.30 204.55 L273.13 204.44 L273.97 204.34 L274.80 203.44 L275.63 203.61 L276.47 203.67 L277.30 204.17 L278.13 204.42 L278.97 205.01 L279.80 205.00 L280.70 203.80M291.50 187.09 L292.33 187.44 L293.17 188.25 L294.00 187.98 L294.80 188.32 L295.60 188.43 L296.40 188.67 L297.20 188.72 L298.00 189.52 L298.83 189.36 L299.67 189.10 L300.50 187.90 L301.33 189.52 L302.17 191.13 L303.00 193.00 L303.83 194.90 L304.67 196.45 L305.50 197.71 L306.33 198.97 L307.17 200.56 L308.00 202.38 L308.83 203.87 L309.67 205.20 L310.50 206.51 L311.33 206.31 L312.17 205.95 L313.00 206.08 L313.83 204.23 L314.67 202.69 L315.50 200.52 L316.33 199.36 L317.17 197.84 L318.00 196.08 L318.83 192.53 L319.67 189.59 L320.50 186.45 L321.33 182.90 L322.17 179.55 L323.00 176.56 L323.83 175.82 L324.67 174.16 L325.50 172.84 L326.33 172.36 L327.17 171.75 L328.00 171.73 L328.83 172.48 L329.67 173.76 L330.50 174.92 L331.33 176.60 L332.17 178.15 L333.00 179.10 L333.83 181.47 L334.67 184.17 L335.50 186.40 L336.33 186.53 L337.17 186.64 L338.00 186.97 L338.83 184.68 L339.67 182.65 L340.50 180.52 L341.33 177.53 L342.17 173.95 L343.00 170.50 L343.83 167.92 L344.67 165.57 L345.50 163.69 L346.33 164.30 L347.17 165.31 L348.00 165.77 L348.83 168.98 L349.67 172.48 L350.50 175.87 L351.33 180.07 L352.17 184.46 L353.00 189.13 L353.83 190.36 L354.67 191.53 L355.50 192.12 L356.33 190.08 L357.17 187.80 L358.00 185.71 L358.83 182.32 L359.67 178.16 L360.50 175.01 L361.33 172.96 L362.17 171.58 L363.00 169.39 L363.83 168.36 L364.67 166.90 L365.50 166.22 L366.33 166.07 L367.17 165.63 L368.00 164.14 L368.85 161.57 L369.70 159.47 L370.53 158.42 L371.37 157.20 L372.20 155.56 L373.00 153.03 L373.80 151.29 L374.63 152.21 L375.47 153.69 L376.30 154.96 L377.15 156.81 L378.00 158.10 L378.85 159.02 L379.70 160.01 L380.50 161.52 L381.30 162.74 L382.15 160.39 L383.00 158.46 L383.83 157.06 L384.67 157.18 L385.50 155.20 L386.33 155.36 L387.17 154.47 L388.00 155.00 L388.85 153.60 L389.70 151.99 L390.50 152.54 L391.30 153.92 L392.13 153.12 L392.97 152.43 L393.80 152.01 L394.63 154.08 L395.47 156.26 L396.30 157.12 L397.15 160.12 L398.00 162.87 L398.83 167.86 L399.67 172.90 L400.50 178.05 L401.33 182.64 L402.17 186.89 L403.00 190.70 L403.83 193.71 L404.67 197.12 L405.50 200.78 L406.33 201.60 L407.17 202.43 L408.00 203.09 L408.83 200.29 L409.67 197.62 L410.50 194.95 L411.50 191.35 L412.50 186.99 L413.33 186.01 L414.17 184.58 L415.00 182.43 L415.83 183.50 L416.67 184.09 L417.50 185.94 L418.33 189.60 L419.17 194.04 L420.00 197.83 L420.83 200.53 L421.67 202.16 L422.50 204.32 L423.50 201.85 L424.50 200.30 L425.33 195.63 L426.17 190.75 L427.00 185.70 L427.83 183.52 L428.67 182.32 L429.50 180.88 L430.33 181.14 L431.17 180.54 L432.00 179.83 L432.83 181.54 L433.67 183.67 L434.50 185.58 L435.33 188.23 L436.17 191.24 L437.00 194.72 L437.83 195.61 L438.67 195.86 L439.50 196.01 L440.33 194.69 L441.17 192.72 L442.00 191.02 L442.83 185.17 L443.67 180.18 L444.50 174.51 L445.35 168.58 L446.20 162.15 L447.03 160.09 L447.87 157.89 L448.70 156.13 L449.52 156.80 L450.35 156.98 L451.18 156.98 L452.00 156.79 L452.83 158.24 L453.67 159.76 L454.50 160.64 L455.33 161.47 L456.17 161.79 L457.00 163.22 L457.83 163.36 L458.67 163.86 L459.50 163.97 L460.33 165.91 L461.17 167.60 L462.00 169.54 L462.82 171.48 L463.65 173.68 L464.48 175.58 L465.30 177.67 L466.13 177.99 L466.97 178.48 L467.80 178.77 L468.63 176.71 L469.47 175.16 L470.30 173.27 L471.15 172.42 L472.00 170.92 L472.85 169.93 L473.70 168.99 L474.53 170.94 L475.37 172.37 L476.20 174.15 L477.03 176.63 L477.87 179.22 L478.70 181.50 L479.53 182.72 L480.37 184.07 L481.20 185.38 L482.03 184.34 L482.87 183.72 L483.70 183.34 L484.53 179.58 L485.37 174.89 L486.20 170.87 L487.03 165.57 L487.87 160.63 L488.70 154.40 L489.50 145.30 L490.33 144.11 L491.17 143.19 L492.00 141.02 L492.85 142.37 L493.70 143.30 L494.50 146.23 L495.30 148.82 L496.27 150.04 L497.23 151.37 L498.20 152.60 L499.02 152.28 L499.85 153.13 L500.68 153.24 L501.50 154.50 L502.70 155.03 L503.90 156.50 L504.73 156.79 L505.57 157.09 L506.40 157.69 L507.20 156.73 L508.00 155.67 L508.80 153.68 L509.60 152.04 L510.30 141.92 L511.13 140.92 L511.97 139.44 L512.80 138.51 L513.63 139.51 L514.47 140.27 L515.30 140.67 L516.13 140.44 L516.97 141.08 L517.80 141.59 L518.63 143.25 L519.47 144.45 L520.30 145.63 L521.20 149.14 L522.05 149.49 L522.90 150.17 L524.10 152.30 L525.30 154.96 L526.10 158.21 L526.90 161.42 L527.70 165.53 L528.50 169.47 L529.33 172.56 L530.17 175.16 L531.00 177.96 L531.80 179.64 L532.60 181.06 L533.40 179.92 L534.20 178.26 L535.80 171.90" fill="none" stroke="#000" stroke-width="1.8" stroke-linejoin="round" stroke-linecap="round"/>
<rect x="51.5" y="1.2" width="507.0" height="295.1" fill="none" stroke="#959595" stroke-width="1"/>
<path d="M74.50 296.3v2.4M206.30 296.3v2.4M338.10 296.3v2.4M469.90 296.3v2.4M51.5 276.30h-2.4M51.5 214.08h-2.4M51.5 151.85h-2.4M51.5 89.63h-2.4M51.5 27.40h-2.4" stroke="#4d4d4d" stroke-width="1" fill="none"/>
<text x="74.50" y="307.8" font-size="10.2" text-anchor="middle" fill="#4d4d4d">2021</text>
<text x="206.30" y="307.8" font-size="10.2" text-anchor="middle" fill="#4d4d4d">2022</text>
<text x="338.10" y="307.8" font-size="10.2" text-anchor="middle" fill="#4d4d4d">2023</text>
<text x="469.90" y="307.8" font-size="10.2" text-anchor="middle" fill="#4d4d4d">2024</text>
<text x="48.3" y="280.60" font-size="10.2" text-anchor="end" fill="#4d4d4d">1900</text>
<text x="48.3" y="218.38" font-size="10.2" text-anchor="end" fill="#4d4d4d">1950</text>
<text x="48.3" y="156.15" font-size="10.2" text-anchor="end" fill="#4d4d4d">2000</text>
<text x="48.3" y="93.93" font-size="10.2" text-anchor="end" fill="#4d4d4d">2050</text>
<text x="48.3" y="31.70" font-size="10.2" text-anchor="end" fill="#4d4d4d">2100</text>
<text transform="translate(8.8,148.6) rotate(-90)" font-size="10.2" text-anchor="middle" fill="#1a1a1a">CH<tspan font-size="7.2" dy="2.5">4</tspan><tspan dy="-2.5"> mole fractions (ppb)</tspan></text>
<circle cx="574.9" cy="132.0" r="1.55" fill="none" stroke="#2e2e2e" stroke-width="0.95"/>
<line x1="570.0" y1="143.2" x2="579.2" y2="143.2" stroke="#000" stroke-width="1.9"/>
<line x1="570.0" y1="154.3" x2="579.2" y2="154.3" stroke="#55C5BF" stroke-width="2.8"/>
<line x1="570.0" y1="165.4" x2="579.2" y2="165.4" stroke="#A3222E" stroke-width="2.8"/>
<text x="583.9" y="135.90" font-size="10.2" fill="#1a1a1a">Hourly Measurements</text>
<text x="583.9" y="146.95" font-size="10.2" fill="#1a1a1a">Moving Mean</text>
<text x="583.9" y="158.00" font-size="10.2" fill="#1a1a1a">Obs_Background</text>
<text x="583.9" y="169.05" font-size="10.2" fill="#1a1a1a">Sim_Background</text>
</svg>
</body></html>
